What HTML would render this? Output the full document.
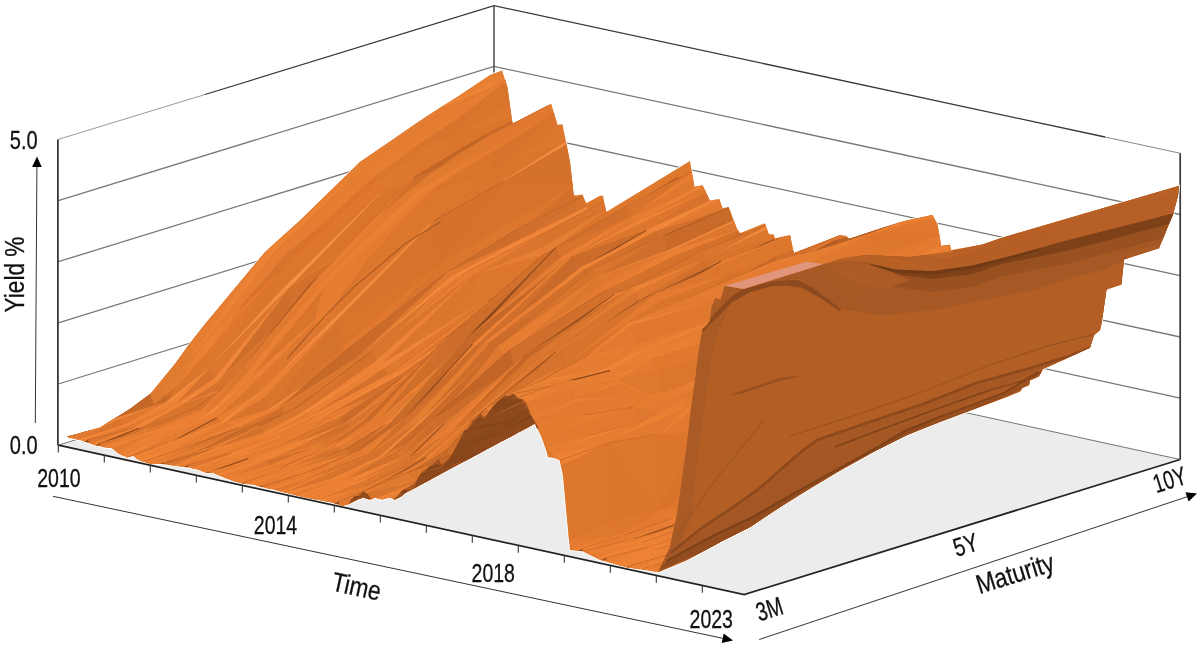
<!DOCTYPE html>
<html><head><meta charset="utf-8"><title>Yield curve surface</title>
<style>
html,body{margin:0;padding:0;background:#fff;overflow:hidden}
svg{display:block}
text{font-family:"Liberation Sans",sans-serif;fill:#111;stroke:#111;stroke-width:0.3px}
</style></head>
<body>
<svg width="1199" height="647" viewBox="0 0 1199 647">
<rect width="1199" height="647" fill="#fff"/>
<polygon points="58.3,445.2 744.2,594.6 1180.2,459.5 494.0,309.5" fill="#ececec"/>
<polyline points="58.3,384.0 494.0,248.7 1180.2,398.2" fill="none" stroke="#787878" stroke-width="1.3"/>
<polyline points="58.3,322.9 494.0,187.9 1180.2,337.0" fill="none" stroke="#787878" stroke-width="1.3"/>
<polyline points="58.3,261.7 494.0,127.2 1180.2,275.7" fill="none" stroke="#787878" stroke-width="1.3"/>
<polyline points="58.3,200.6 494.0,66.4 1180.2,214.5" fill="none" stroke="#787878" stroke-width="1.3"/>
<polyline points="58.3,445.2 494.0,309.5 1180.2,459.5" fill="none" stroke="#555" stroke-width="0.8"/>
<polyline points="57.9,445.2 57.9,139.4" fill="none" stroke="#383838" stroke-width="1.8"/>
<polyline points="58.3,139.4 205.0,94.5" fill="none" stroke="#9a9a9a" stroke-width="1"/>
<polyline points="205.0,94.5 494.0,5.6 1105.0,137.0" fill="none" stroke="#383838" stroke-width="1.3"/>
<polyline points="1105.0,137.0 1180.2,153.2" fill="none" stroke="#8a8a8a" stroke-width="1.1"/>
<polyline points="1180.2,153.2 1180.2,459.5" fill="none" stroke="#383838" stroke-width="1.7"/>
<polyline points="494.0,5.6 494.0,309.5" fill="none" stroke="#4a4a4a" stroke-width="1.5"/>
<clipPath id="sil"><polygon points="67.0,436.3 75.0,434.5 100.0,427.5 130.0,409.0 150.0,394.0 175.0,364.0 187.5,346.5 205.0,324.0 265.0,252.0 300.0,220.5 360.0,162.0 425.0,117.5 460.0,95.0 490.0,75.0 502.0,70.5 507.5,87.5 512.5,123.8 551.2,103.8 557.5,125.0 562.5,124.2 570.0,161.8 573.8,195.8 582.5,194.5 586.2,203.2 600.0,195.8 603.0,195.8 606.2,212.0 690.0,161.0 694.5,187.0 702.5,185.0 710.0,200.8 719.5,199.0 722.5,208.2 728.8,207.0 737.0,229.0 740.0,233.2 765.0,223.2 768.8,234.5 773.8,234.5 775.0,238.2 790.0,235.0 793.8,253.2 800.0,250.8 840.0,235.2 846.2,235.8 848.8,239.0 900.0,222.0 932.5,215.0 937.5,224.5 941.2,246.0 950.0,244.5 951.2,250.0 982.5,244.5 1000.0,238.2 1179.2,185.8 1178.0,195.8 1173.0,214.5 1159.0,248.2 1124.0,259.5 1121.5,284.5 1106.5,289.5 1101.5,324.0 1100.0,330.2 1094.0,335.2 1090.0,347.8 1042.8,369.0 1039.0,376.5 1030.0,380.2 1029.0,385.2 1022.5,387.8 1020.0,391.5 1007.3,396.7 967.2,411.7 940.5,421.7 907.1,435.1 873.7,451.8 840.3,470.2 807.0,490.2 780.2,506.9 750.2,526.9 723.5,540.3 686.7,560.3 658.4,572.0 627.5,567.5 600.0,560.0 582.5,551.2 570.0,550.0 567.2,520.0 566.1,510.1 562.9,475.4 559.6,460.2 554.2,458.1 547.7,457.0 546.6,451.6 541.2,436.4 535.2,424.0 535.0,423.4 404.5,493.6 401.8,495.9 395.1,499.7 390.1,497.5 381.8,499.7 375.1,497.5 370.1,500.0 363.4,497.5 356.8,500.0 348.4,504.2 341.8,505.9 331.8,502.5 318.4,500.0 305.0,497.5 291.7,494.2 275.0,490.0 260.0,486.7 255.0,485.0 241.7,483.4 232.0,480.5 220.0,476.0 212.6,472.7 206.6,473.0 199.0,470.0 190.0,467.8 175.0,465.8 160.0,463.7 151.0,464.3 139.0,460.3 133.0,455.8 127.0,457.3 118.0,453.5 112.0,448.3 104.5,447.5 92.5,444.5 80.5,440.0 68.5,437.5"/></clipPath>
<polygon points="67.0,436.3 75.0,434.5 100.0,427.5 130.0,409.0 150.0,394.0 175.0,364.0 187.5,346.5 205.0,324.0 265.0,252.0 300.0,220.5 360.0,162.0 425.0,117.5 460.0,95.0 490.0,75.0 502.0,70.5 507.5,87.5 512.5,123.8 551.2,103.8 557.5,125.0 562.5,124.2 570.0,161.8 573.8,195.8 582.5,194.5 586.2,203.2 600.0,195.8 603.0,195.8 606.2,212.0 690.0,161.0 694.5,187.0 702.5,185.0 710.0,200.8 719.5,199.0 722.5,208.2 728.8,207.0 737.0,229.0 740.0,233.2 765.0,223.2 768.8,234.5 773.8,234.5 775.0,238.2 790.0,235.0 793.8,253.2 800.0,250.8 840.0,235.2 846.2,235.8 848.8,239.0 900.0,222.0 932.5,215.0 937.5,224.5 941.2,246.0 950.0,244.5 951.2,250.0 982.5,244.5 1000.0,238.2 1179.2,185.8 1178.0,195.8 1173.0,214.5 1159.0,248.2 1124.0,259.5 1121.5,284.5 1106.5,289.5 1101.5,324.0 1100.0,330.2 1094.0,335.2 1090.0,347.8 1042.8,369.0 1039.0,376.5 1030.0,380.2 1029.0,385.2 1022.5,387.8 1020.0,391.5 1007.3,396.7 967.2,411.7 940.5,421.7 907.1,435.1 873.7,451.8 840.3,470.2 807.0,490.2 780.2,506.9 750.2,526.9 723.5,540.3 686.7,560.3 658.4,572.0 627.5,567.5 600.0,560.0 582.5,551.2 570.0,550.0 567.2,520.0 566.1,510.1 562.9,475.4 559.6,460.2 554.2,458.1 547.7,457.0 546.6,451.6 541.2,436.4 535.2,424.0 535.0,423.4 404.5,493.6 401.8,495.9 395.1,499.7 390.1,497.5 381.8,499.7 375.1,497.5 370.1,500.0 363.4,497.5 356.8,500.0 348.4,504.2 341.8,505.9 331.8,502.5 318.4,500.0 305.0,497.5 291.7,494.2 275.0,490.0 260.0,486.7 255.0,485.0 241.7,483.4 232.0,480.5 220.0,476.0 212.6,472.7 206.6,473.0 199.0,470.0 190.0,467.8 175.0,465.8 160.0,463.7 151.0,464.3 139.0,460.3 133.0,455.8 127.0,457.3 118.0,453.5 112.0,448.3 104.5,447.5 92.5,444.5 80.5,440.0 68.5,437.5" fill="none" stroke="#fff" stroke-width="2" stroke-linejoin="round" opacity="0.85"/>
<polygon points="67.0,436.3 75.0,434.5 100.0,427.5 130.0,409.0 150.0,394.0 175.0,364.0 187.5,346.5 205.0,324.0 265.0,252.0 300.0,220.5 360.0,162.0 425.0,117.5 460.0,95.0 490.0,75.0 502.0,70.5 507.5,87.5 512.5,123.8 551.2,103.8 557.5,125.0 562.5,124.2 570.0,161.8 573.8,195.8 582.5,194.5 586.2,203.2 600.0,195.8 603.0,195.8 606.2,212.0 690.0,161.0 694.5,187.0 702.5,185.0 710.0,200.8 719.5,199.0 722.5,208.2 728.8,207.0 737.0,229.0 740.0,233.2 765.0,223.2 768.8,234.5 773.8,234.5 775.0,238.2 790.0,235.0 793.8,253.2 800.0,250.8 840.0,235.2 846.2,235.8 848.8,239.0 900.0,222.0 932.5,215.0 937.5,224.5 941.2,246.0 950.0,244.5 951.2,250.0 982.5,244.5 1000.0,238.2 1179.2,185.8 1178.0,195.8 1173.0,214.5 1159.0,248.2 1124.0,259.5 1121.5,284.5 1106.5,289.5 1101.5,324.0 1100.0,330.2 1094.0,335.2 1090.0,347.8 1042.8,369.0 1039.0,376.5 1030.0,380.2 1029.0,385.2 1022.5,387.8 1020.0,391.5 1007.3,396.7 967.2,411.7 940.5,421.7 907.1,435.1 873.7,451.8 840.3,470.2 807.0,490.2 780.2,506.9 750.2,526.9 723.5,540.3 686.7,560.3 658.4,572.0 627.5,567.5 600.0,560.0 582.5,551.2 570.0,550.0 567.2,520.0 566.1,510.1 562.9,475.4 559.6,460.2 554.2,458.1 547.7,457.0 546.6,451.6 541.2,436.4 535.2,424.0 535.0,423.4 404.5,493.6 401.8,495.9 395.1,499.7 390.1,497.5 381.8,499.7 375.1,497.5 370.1,500.0 363.4,497.5 356.8,500.0 348.4,504.2 341.8,505.9 331.8,502.5 318.4,500.0 305.0,497.5 291.7,494.2 275.0,490.0 260.0,486.7 255.0,485.0 241.7,483.4 232.0,480.5 220.0,476.0 212.6,472.7 206.6,473.0 199.0,470.0 190.0,467.8 175.0,465.8 160.0,463.7 151.0,464.3 139.0,460.3 133.0,455.8 127.0,457.3 118.0,453.5 112.0,448.3 104.5,447.5 92.5,444.5 80.5,440.0 68.5,437.5" fill="#dd782d"/>
<clipPath id="cb"><polygon points="724.9,285.7 743.4,288.9 823.6,264.0 842.4,258.5 865.8,255.1 909.2,257.1 949.3,251.5 982.5,244.6 1000.0,238.4 1179.2,185.8 1178.0,195.8 1173.0,214.5 1159.0,248.2 1124.0,259.5 1121.5,284.5 1106.5,289.5 1101.5,324.0 1100.0,330.2 1094.0,335.2 1090.0,347.8 1042.8,369.0 1039.0,376.5 1030.0,380.2 1029.0,385.2 1022.5,387.8 1020.0,391.5 1007.3,396.7 967.2,411.7 940.5,421.7 907.1,435.1 873.7,451.8 840.3,470.2 807.0,490.2 780.2,506.9 750.2,526.9 723.5,540.3 686.7,560.3 658.4,572.0 670.0,547.0 676.7,513.5 681.7,480.2 686.7,446.8 690.0,413.4 695.0,380.0 698.1,353.2 702.2,330.1 709.8,321.4 711.9,306.3 715.2,297.6 720.6,299.7 724.9,285.7"/></clipPath>
<polygon points="724.9,285.7 743.4,288.9 823.6,264.0 842.4,258.5 865.8,255.1 909.2,257.1 949.3,251.5 982.5,244.6 1000.0,238.4 1179.2,185.8 1178.0,195.8 1173.0,214.5 1159.0,248.2 1124.0,259.5 1121.5,284.5 1106.5,289.5 1101.5,324.0 1100.0,330.2 1094.0,335.2 1090.0,347.8 1042.8,369.0 1039.0,376.5 1030.0,380.2 1029.0,385.2 1022.5,387.8 1020.0,391.5 1007.3,396.7 967.2,411.7 940.5,421.7 907.1,435.1 873.7,451.8 840.3,470.2 807.0,490.2 780.2,506.9 750.2,526.9 723.5,540.3 686.7,560.3 658.4,572.0 670.0,547.0 676.7,513.5 681.7,480.2 686.7,446.8 690.0,413.4 695.0,380.0 698.1,353.2 702.2,330.1 709.8,321.4 711.9,306.3 715.2,297.6 720.6,299.7 724.9,285.7" fill="#b56026"/>
<g clip-path="url(#sil)" stroke-width="0.6" stroke-linejoin="round">
<path d="M428.6 112.6L494.0 81.4L498.2 85.5Z" fill="#ed8235" stroke="#ed8235"/>
<path d="M428.6 112.6L498.2 85.5L432.8 122.5Z" fill="#d5722d" stroke="#d5722d"/>
<path d="M428.6 112.6L432.8 122.5L363.1 167.1Z" fill="#d2702c" stroke="#d2702c"/>
<path d="M358.9 159.0L428.6 112.6L363.1 167.1Z" fill="#dc762f" stroke="#dc762f"/>
<path d="M263.1 254.7L358.9 159.0L363.1 167.1Z" fill="#da752e" stroke="#da752e"/>
<path d="M263.1 254.7L363.1 167.1L267.3 258.5Z" fill="#e67d32" stroke="#e67d32"/>
<path d="M263.1 254.7L267.3 258.5L193.2 353.0Z" fill="#e47c32" stroke="#e47c32"/>
<path d="M189.0 343.6L263.1 254.7L193.2 353.0Z" fill="#d7732d" stroke="#d7732d"/>
<path d="M149.8 396.8L189.0 343.6L193.2 353.0Z" fill="#cb6b2a" stroke="#cb6b2a"/>
<path d="M149.8 396.8L193.2 353.0L154.0 392.0Z" fill="#7c4019" stroke="#7c4019"/>
<path d="M149.8 396.8L154.0 392.0L106.1 420.2Z" fill="#86461c" stroke="#86461c"/>
<path d="M101.9 421.0L149.8 396.8L106.1 420.2Z" fill="#ee8336" stroke="#ee8336"/>
<path d="M58.3 441.4L101.9 421.0L106.1 420.2Z" fill="#ee8336" stroke="#ee8336"/>
<path d="M58.3 441.4L106.1 420.2L62.5 439.4Z" fill="#793f18" stroke="#793f18"/>
<path d="M498.2 85.5L502.4 85.1L437.0 119.5Z" fill="#e57c32" stroke="#e57c32"/>
<path d="M432.8 122.5L498.2 85.5L437.0 119.5Z" fill="#7c4119" stroke="#7c4119"/>
<path d="M363.1 167.1L432.8 122.5L437.0 119.5Z" fill="#7a3f19" stroke="#7a3f19"/>
<path d="M363.1 167.1L437.0 119.5L367.3 162.4Z" fill="#85461c" stroke="#85461c"/>
<path d="M363.1 167.1L367.3 162.4L271.4 257.9Z" fill="#7b4019" stroke="#7b4019"/>
<path d="M267.3 258.5L363.1 167.1L271.4 257.9Z" fill="#ed8236" stroke="#ed8236"/>
<path d="M193.2 353.0L267.3 258.5L271.4 257.9Z" fill="#eb8034" stroke="#eb8034"/>
<path d="M193.2 353.0L271.4 257.9L197.4 348.7Z" fill="#eb8237" stroke="#eb8237"/>
<path d="M193.2 353.0L197.4 348.7L158.2 396.5Z" fill="#ee8539" stroke="#ee8539"/>
<path d="M154.0 392.0L193.2 353.0L158.2 396.5Z" fill="#d1702c" stroke="#d1702c"/>
<path d="M106.1 420.2L154.0 392.0L158.2 396.5Z" fill="#ce6e2b" stroke="#ce6e2b"/>
<path d="M106.1 420.2L158.2 396.5L110.2 421.7Z" fill="#e17a31" stroke="#e17a31"/>
<path d="M106.1 420.2L110.2 421.7L66.7 439.3Z" fill="#e37b31" stroke="#e37b31"/>
<path d="M62.5 439.4L106.1 420.2L66.7 439.3Z" fill="#ec8134" stroke="#ec8134"/>
<path d="M437.0 119.5L502.4 85.1L506.5 79.7Z" fill="#8a491d" stroke="#8a491d"/>
<path d="M437.0 119.5L506.5 79.7L441.2 114.1Z" fill="#8a491d" stroke="#8a491d"/>
<path d="M437.0 119.5L441.2 114.1L371.5 161.3Z" fill="#87461c" stroke="#87461c"/>
<path d="M367.3 162.4L437.0 119.5L371.5 161.3Z" fill="#eb8034" stroke="#eb8034"/>
<path d="M271.4 257.9L367.3 162.4L371.5 161.3Z" fill="#ea8033" stroke="#ea8033"/>
<path d="M271.4 257.9L371.5 161.3L275.6 251.4Z" fill="#85461c" stroke="#85461c"/>
<path d="M271.4 257.9L275.6 251.4L201.6 346.1Z" fill="#7e411a" stroke="#7e411a"/>
<path d="M197.4 348.7L271.4 257.9L201.6 346.1Z" fill="#ea8034" stroke="#ea8034"/>
<path d="M158.2 396.5L197.4 348.7L201.6 346.1Z" fill="#ed8337" stroke="#ed8337"/>
<path d="M158.2 396.5L201.6 346.1L162.3 388.3Z" fill="#88471c" stroke="#88471c"/>
<path d="M158.2 396.5L162.3 388.3L114.4 418.7Z" fill="#914c1f" stroke="#914c1f"/>
<path d="M110.2 421.7L158.2 396.5L114.4 418.7Z" fill="#7e4119" stroke="#7e4119"/>
<path d="M66.7 439.3L110.2 421.7L114.4 418.7Z" fill="#81431a" stroke="#81431a"/>
<path d="M66.7 439.3L114.4 418.7L70.8 438.2Z" fill="#ef8538" stroke="#ef8538"/>
<path d="M506.5 79.7L510.7 103.6L445.4 138.6Z" fill="#d9742c" stroke="#d9742c"/>
<path d="M441.2 114.1L506.5 79.7L445.4 138.6Z" fill="#d8732d" stroke="#d8732d"/>
<path d="M371.5 161.3L441.2 114.1L445.4 138.6Z" fill="#d6732c" stroke="#d6732c"/>
<path d="M371.5 161.3L445.4 138.6L375.7 181.5Z" fill="#da752d" stroke="#da752d"/>
<path d="M371.5 161.3L375.7 181.5L279.8 271.1Z" fill="#da742d" stroke="#da742d"/>
<path d="M275.6 251.4L371.5 161.3L279.8 271.1Z" fill="#d7732d" stroke="#d7732d"/>
<path d="M201.6 346.1L275.6 251.4L279.8 271.1Z" fill="#d6722d" stroke="#d6722d"/>
<path d="M201.6 346.1L279.8 271.1L205.7 354.4Z" fill="#e47b30" stroke="#e47b30"/>
<path d="M201.6 346.1L205.7 354.4L166.5 402.1Z" fill="#de782f" stroke="#de782f"/>
<path d="M162.3 388.3L201.6 346.1L166.5 402.1Z" fill="#ce6e2b" stroke="#ce6e2b"/>
<path d="M114.4 418.7L162.3 388.3L166.5 402.1Z" fill="#c66828" stroke="#c66828"/>
<path d="M114.4 418.7L166.5 402.1L118.6 419.7Z" fill="#f1893c" stroke="#f1893c"/>
<path d="M114.4 418.7L118.6 419.7L75.0 440.6Z" fill="#f08537" stroke="#f08537"/>
<path d="M70.8 438.2L114.4 418.7L75.0 440.6Z" fill="#e37b32" stroke="#e37b32"/>
<path d="M445.4 138.6L510.7 103.6L514.9 117.3Z" fill="#dd762e" stroke="#dd762e"/>
<path d="M445.4 138.6L514.9 117.3L449.6 155.5Z" fill="#db752c" stroke="#db752c"/>
<path d="M445.4 138.6L449.6 155.5L379.8 193.8Z" fill="#dc752d" stroke="#dc752d"/>
<path d="M375.7 181.5L445.4 138.6L379.8 193.8Z" fill="#de782f" stroke="#de782f"/>
<path d="M279.8 271.1L375.7 181.5L379.8 193.8Z" fill="#df782e" stroke="#df782e"/>
<path d="M279.8 271.1L379.8 193.8L284.0 287.6Z" fill="#dc762d" stroke="#dc762d"/>
<path d="M279.8 271.1L284.0 287.6L209.9 367.3Z" fill="#db752e" stroke="#db752e"/>
<path d="M205.7 354.4L279.8 271.1L209.9 367.3Z" fill="#de772e" stroke="#de772e"/>
<path d="M166.5 402.1L205.7 354.4L209.9 367.3Z" fill="#da752e" stroke="#da752e"/>
<path d="M166.5 402.1L209.9 367.3L170.7 402.6Z" fill="#f28d42" stroke="#f28d42"/>
<path d="M166.5 402.1L170.7 402.6L122.8 425.5Z" fill="#f28b3f" stroke="#f28b3f"/>
<path d="M118.6 419.7L166.5 402.1L122.8 425.5Z" fill="#e07930" stroke="#e07930"/>
<path d="M75.0 440.6L118.6 419.7L122.8 425.5Z" fill="#d9752e" stroke="#d9752e"/>
<path d="M75.0 440.6L122.8 425.5L79.2 441.3Z" fill="#f1883b" stroke="#f1883b"/>
<path d="M514.9 117.3L519.1 131.8L453.7 167.4Z" fill="#dd762d" stroke="#dd762d"/>
<path d="M449.6 155.5L514.9 117.3L453.7 167.4Z" fill="#de782f" stroke="#de782f"/>
<path d="M379.8 193.8L449.6 155.5L453.7 167.4Z" fill="#df782f" stroke="#df782f"/>
<path d="M379.8 193.8L453.7 167.4L384.0 216.4Z" fill="#da742c" stroke="#da742c"/>
<path d="M379.8 193.8L384.0 216.4L288.2 288.7Z" fill="#da742d" stroke="#da742d"/>
<path d="M284.0 287.6L379.8 193.8L288.2 288.7Z" fill="#f29047" stroke="#f29047"/>
<path d="M209.9 367.3L284.0 287.6L288.2 288.7Z" fill="#f18e44" stroke="#f18e44"/>
<path d="M209.9 367.3L288.2 288.7L214.1 379.0Z" fill="#dc762f" stroke="#dc762f"/>
<path d="M209.9 367.3L214.1 379.0L174.9 404.9Z" fill="#d4722d" stroke="#d4722d"/>
<path d="M170.7 402.6L209.9 367.3L174.9 404.9Z" fill="#ef8437" stroke="#ef8437"/>
<path d="M122.8 425.5L170.7 402.6L174.9 404.9Z" fill="#ec8135" stroke="#ec8135"/>
<path d="M122.8 425.5L174.9 404.9L127.0 426.2Z" fill="#f1883b" stroke="#f1883b"/>
<path d="M122.8 425.5L127.0 426.2L83.4 443.0Z" fill="#f1873a" stroke="#f1873a"/>
<path d="M79.2 441.3L122.8 425.5L83.4 443.0Z" fill="#ee8335" stroke="#ee8335"/>
<path d="M453.7 167.4L519.1 131.8L523.3 152.4Z" fill="#da742c" stroke="#da742c"/>
<path d="M453.7 167.4L523.3 152.4L457.9 184.8Z" fill="#db752d" stroke="#db752d"/>
<path d="M453.7 167.4L457.9 184.8L388.2 229.3Z" fill="#db752d" stroke="#db752d"/>
<path d="M384.0 216.4L453.7 167.4L388.2 229.3Z" fill="#de772e" stroke="#de772e"/>
<path d="M288.2 288.7L384.0 216.4L388.2 229.3Z" fill="#dc772e" stroke="#dc772e"/>
<path d="M288.2 288.7L388.2 229.3L292.4 313.2Z" fill="#d2702c" stroke="#d2702c"/>
<path d="M288.2 288.7L292.4 313.2L218.3 381.3Z" fill="#ce6e2b" stroke="#ce6e2b"/>
<path d="M214.1 379.0L288.2 288.7L218.3 381.3Z" fill="#ee863b" stroke="#ee863b"/>
<path d="M174.9 404.9L214.1 379.0L218.3 381.3Z" fill="#ef8437" stroke="#ef8437"/>
<path d="M174.9 404.9L218.3 381.3L179.1 403.2Z" fill="#f38c40" stroke="#f38c40"/>
<path d="M174.9 404.9L179.1 403.2L131.1 429.0Z" fill="#f1893c" stroke="#f1893c"/>
<path d="M127.0 426.2L174.9 404.9L131.1 429.0Z" fill="#e37b32" stroke="#e37b32"/>
<path d="M83.4 443.0L127.0 426.2L131.1 429.0Z" fill="#e07930" stroke="#e07930"/>
<path d="M83.4 443.0L131.1 429.0L87.6 439.9Z" fill="#86461c" stroke="#86461c"/>
<path d="M523.3 152.4L527.5 154.6L462.1 191.7Z" fill="#f08b40" stroke="#f08b40"/>
<path d="M457.9 184.8L523.3 152.4L462.1 191.7Z" fill="#e77d32" stroke="#e77d32"/>
<path d="M388.2 229.3L457.9 184.8L462.1 191.7Z" fill="#e57c31" stroke="#e57c31"/>
<path d="M388.2 229.3L462.1 191.7L392.4 227.6Z" fill="#f6954b" stroke="#f6954b"/>
<path d="M388.2 229.3L392.4 227.6L296.5 310.3Z" fill="#f59147" stroke="#f59147"/>
<path d="M292.4 313.2L388.2 229.3L296.5 310.3Z" fill="#f59349" stroke="#f59349"/>
<path d="M218.3 381.3L292.4 313.2L296.5 310.3Z" fill="#f59146" stroke="#f59146"/>
<path d="M218.3 381.3L296.5 310.3L222.5 389.4Z" fill="#d6732d" stroke="#d6732d"/>
<path d="M218.3 381.3L222.5 389.4L183.3 403.7Z" fill="#d5722d" stroke="#d5722d"/>
<path d="M179.1 403.2L218.3 381.3L183.3 403.7Z" fill="#f1883b" stroke="#f1883b"/>
<path d="M131.1 429.0L179.1 403.2L183.3 403.7Z" fill="#ef8436" stroke="#ef8436"/>
<path d="M131.1 429.0L183.3 403.7L135.3 427.2Z" fill="#f2893d" stroke="#f2893d"/>
<path d="M131.1 429.0L135.3 427.2L91.8 443.4Z" fill="#793f18" stroke="#793f18"/>
<path d="M87.6 439.9L131.1 429.0L91.8 443.4Z" fill="#da762f" stroke="#da762f"/>
<path d="M462.1 191.7L527.5 154.6L531.6 163.7Z" fill="#da752e" stroke="#da752e"/>
<path d="M462.1 191.7L531.6 163.7L466.3 200.0Z" fill="#d7742e" stroke="#d7742e"/>
<path d="M462.1 191.7L466.3 200.0L396.6 242.8Z" fill="#d7732d" stroke="#d7732d"/>
<path d="M392.4 227.6L462.1 191.7L396.6 242.8Z" fill="#cf6e2b" stroke="#cf6e2b"/>
<path d="M296.5 310.3L392.4 227.6L396.6 242.8Z" fill="#c86a29" stroke="#c86a29"/>
<path d="M296.5 310.3L396.6 242.8L300.7 330.8Z" fill="#c36727" stroke="#c36727"/>
<path d="M296.5 310.3L300.7 330.8L226.7 390.1Z" fill="#c36627" stroke="#c36627"/>
<path d="M222.5 389.4L296.5 310.3L226.7 390.1Z" fill="#f1873b" stroke="#f1873b"/>
<path d="M183.3 403.7L222.5 389.4L226.7 390.1Z" fill="#f2893c" stroke="#f2893c"/>
<path d="M183.3 403.7L226.7 390.1L187.4 411.2Z" fill="#d6732d" stroke="#d6732d"/>
<path d="M183.3 403.7L187.4 411.2L139.5 428.1Z" fill="#d9752e" stroke="#d9752e"/>
<path d="M135.3 427.2L183.3 403.7L139.5 428.1Z" fill="#f1873a" stroke="#f1873a"/>
<path d="M91.8 443.4L135.3 427.2L139.5 428.1Z" fill="#f08639" stroke="#f08639"/>
<path d="M91.8 443.4L139.5 428.1L95.9 445.9Z" fill="#eb8134" stroke="#eb8134"/>
<path d="M531.6 163.7L535.8 150.3L470.5 188.2Z" fill="#9a5221" stroke="#9a5221"/>
<path d="M466.3 200.0L531.6 163.7L470.5 188.2Z" fill="#995121" stroke="#995121"/>
<path d="M396.6 242.8L466.3 200.0L470.5 188.2Z" fill="#985021" stroke="#985021"/>
<path d="M396.6 242.8L470.5 188.2L400.8 229.5Z" fill="#9a5121" stroke="#9a5121"/>
<path d="M396.6 242.8L400.8 229.5L304.9 322.5Z" fill="#954e20" stroke="#954e20"/>
<path d="M300.7 330.8L396.6 242.8L304.9 322.5Z" fill="#8c491d" stroke="#8c491d"/>
<path d="M226.7 390.1L300.7 330.8L304.9 322.5Z" fill="#8e4b1e" stroke="#8e4b1e"/>
<path d="M226.7 390.1L304.9 322.5L230.8 386.5Z" fill="#e37b30" stroke="#e37b30"/>
<path d="M226.7 390.1L230.8 386.5L191.6 418.7Z" fill="#793f18" stroke="#793f18"/>
<path d="M187.4 411.2L226.7 390.1L191.6 418.7Z" fill="#ce6e2b" stroke="#ce6e2b"/>
<path d="M139.5 428.1L187.4 411.2L191.6 418.7Z" fill="#d3712c" stroke="#d3712c"/>
<path d="M139.5 428.1L191.6 418.7L143.7 433.0Z" fill="#d5722d" stroke="#d5722d"/>
<path d="M139.5 428.1L143.7 433.0L100.1 443.5Z" fill="#da752f" stroke="#da752f"/>
<path d="M95.9 445.9L139.5 428.1L100.1 443.5Z" fill="#7d4119" stroke="#7d4119"/>
<path d="M470.5 188.2L535.8 150.3L540.0 115.7Z" fill="#a35624" stroke="#a35624"/>
<path d="M470.5 188.2L540.0 115.7L474.7 157.9Z" fill="#a25623" stroke="#a25623"/>
<path d="M470.5 188.2L474.7 157.9L404.9 196.0Z" fill="#a25623" stroke="#a25623"/>
<path d="M400.8 229.5L470.5 188.2L404.9 196.0Z" fill="#a35624" stroke="#a35624"/>
<path d="M304.9 322.5L400.8 229.5L404.9 196.0Z" fill="#a05523" stroke="#a05523"/>
<path d="M304.9 322.5L404.9 196.0L309.1 285.2Z" fill="#a15623" stroke="#a15623"/>
<path d="M304.9 322.5L309.1 285.2L235.0 377.9Z" fill="#a05523" stroke="#a05523"/>
<path d="M230.8 386.5L304.9 322.5L235.0 377.9Z" fill="#8e4a1e" stroke="#8e4a1e"/>
<path d="M191.6 418.7L230.8 386.5L235.0 377.9Z" fill="#8e4b1e" stroke="#8e4b1e"/>
<path d="M191.6 418.7L235.0 377.9L195.8 409.0Z" fill="#914c1f" stroke="#914c1f"/>
<path d="M191.6 418.7L195.8 409.0L147.9 428.8Z" fill="#985021" stroke="#985021"/>
<path d="M143.7 433.0L191.6 418.7L147.9 428.8Z" fill="#8b491d" stroke="#8b491d"/>
<path d="M100.1 443.5L143.7 433.0L147.9 428.8Z" fill="#8d4a1e" stroke="#8d4a1e"/>
<path d="M100.1 443.5L147.9 428.8L104.3 446.3Z" fill="#dc772f" stroke="#dc772f"/>
<path d="M540.0 115.7L544.2 114.0L478.8 154.0Z" fill="#df782f" stroke="#df782f"/>
<path d="M474.7 157.9L540.0 115.7L478.8 154.0Z" fill="#80431a" stroke="#80431a"/>
<path d="M404.9 196.0L474.7 157.9L478.8 154.0Z" fill="#83441b" stroke="#83441b"/>
<path d="M404.9 196.0L478.8 154.0L409.1 197.7Z" fill="#d06f2b" stroke="#d06f2b"/>
<path d="M404.9 196.0L409.1 197.7L313.3 295.4Z" fill="#d26f2b" stroke="#d26f2b"/>
<path d="M309.1 285.2L404.9 196.0L313.3 295.4Z" fill="#b45d22" stroke="#b45d22"/>
<path d="M235.0 377.9L309.1 285.2L313.3 295.4Z" fill="#b65e23" stroke="#b65e23"/>
<path d="M235.0 377.9L313.3 295.4L239.2 377.2Z" fill="#df782f" stroke="#df782f"/>
<path d="M235.0 377.9L239.2 377.2L200.0 411.5Z" fill="#e67d32" stroke="#e67d32"/>
<path d="M195.8 409.0L235.0 377.9L200.0 411.5Z" fill="#d6732d" stroke="#d6732d"/>
<path d="M147.9 428.8L195.8 409.0L200.0 411.5Z" fill="#dc772f" stroke="#dc772f"/>
<path d="M147.9 428.8L200.0 411.5L152.1 431.5Z" fill="#df7930" stroke="#df7930"/>
<path d="M147.9 428.8L152.1 431.5L108.5 446.1Z" fill="#e17a31" stroke="#e17a31"/>
<path d="M104.3 446.3L147.9 428.8L108.5 446.1Z" fill="#ef8538" stroke="#ef8538"/>
<path d="M478.8 154.0L544.2 114.0L548.4 102.9Z" fill="#975020" stroke="#975020"/>
<path d="M478.8 154.0L548.4 102.9L483.0 136.2Z" fill="#9e5422" stroke="#9e5422"/>
<path d="M478.8 154.0L483.0 136.2L413.3 177.8Z" fill="#9e5322" stroke="#9e5322"/>
<path d="M409.1 197.7L478.8 154.0L413.3 177.8Z" fill="#9e5422" stroke="#9e5422"/>
<path d="M313.3 295.4L409.1 197.7L413.3 177.8Z" fill="#9b5221" stroke="#9b5221"/>
<path d="M313.3 295.4L413.3 177.8L317.4 277.7Z" fill="#995121" stroke="#995121"/>
<path d="M313.3 295.4L317.4 277.7L243.4 366.9Z" fill="#975020" stroke="#975020"/>
<path d="M239.2 377.2L313.3 295.4L243.4 366.9Z" fill="#8e4a1e" stroke="#8e4a1e"/>
<path d="M200.0 411.5L239.2 377.2L243.4 366.9Z" fill="#914d1f" stroke="#914d1f"/>
<path d="M200.0 411.5L243.4 366.9L204.2 410.6Z" fill="#ee8336" stroke="#ee8336"/>
<path d="M200.0 411.5L204.2 410.6L156.2 432.3Z" fill="#f2893c" stroke="#f2893c"/>
<path d="M152.1 431.5L200.0 411.5L156.2 432.3Z" fill="#f08537" stroke="#f08537"/>
<path d="M108.5 446.1L152.1 431.5L156.2 432.3Z" fill="#f18639" stroke="#f18639"/>
<path d="M108.5 446.1L156.2 432.3L112.7 447.9Z" fill="#ef8336" stroke="#ef8336"/>
<path d="M548.4 102.9L552.6 114.3L487.2 150.7Z" fill="#cd6d2b" stroke="#cd6d2b"/>
<path d="M483.0 136.2L548.4 102.9L487.2 150.7Z" fill="#c86929" stroke="#c86929"/>
<path d="M413.3 177.8L483.0 136.2L487.2 150.7Z" fill="#c36727" stroke="#c36727"/>
<path d="M413.3 177.8L487.2 150.7L417.5 191.1Z" fill="#ce6e2b" stroke="#ce6e2b"/>
<path d="M413.3 177.8L417.5 191.1L321.6 280.9Z" fill="#d3712c" stroke="#d3712c"/>
<path d="M317.4 277.7L413.3 177.8L321.6 280.9Z" fill="#e77e33" stroke="#e77e33"/>
<path d="M243.4 366.9L317.4 277.7L321.6 280.9Z" fill="#e47c32" stroke="#e47c32"/>
<path d="M243.4 366.9L321.6 280.9L247.6 372.2Z" fill="#e07a30" stroke="#e07a30"/>
<path d="M243.4 366.9L247.6 372.2L208.3 413.3Z" fill="#db762f" stroke="#db762f"/>
<path d="M204.2 410.6L243.4 366.9L208.3 413.3Z" fill="#e37b32" stroke="#e37b32"/>
<path d="M156.2 432.3L204.2 410.6L208.3 413.3Z" fill="#eb8034" stroke="#eb8034"/>
<path d="M156.2 432.3L208.3 413.3L160.4 434.7Z" fill="#ef8336" stroke="#ef8336"/>
<path d="M156.2 432.3L160.4 434.7L116.9 452.0Z" fill="#ef8336" stroke="#ef8336"/>
<path d="M112.7 447.9L156.2 432.3L116.9 452.0Z" fill="#e37b32" stroke="#e37b32"/>
<path d="M487.2 150.7L552.6 114.3L556.7 111.8Z" fill="#793f18" stroke="#793f18"/>
<path d="M487.2 150.7L556.7 111.8L491.4 147.0Z" fill="#82441b" stroke="#82441b"/>
<path d="M487.2 150.7L491.4 147.0L421.7 195.1Z" fill="#7e411a" stroke="#7e411a"/>
<path d="M417.5 191.1L487.2 150.7L421.7 195.1Z" fill="#ec8438" stroke="#ec8438"/>
<path d="M321.6 280.9L417.5 191.1L421.7 195.1Z" fill="#ec8438" stroke="#ec8438"/>
<path d="M321.6 280.9L421.7 195.1L325.8 286.4Z" fill="#e98034" stroke="#e98034"/>
<path d="M321.6 280.9L325.8 286.4L251.7 376.6Z" fill="#e97f33" stroke="#e97f33"/>
<path d="M247.6 372.2L321.6 280.9L251.7 376.6Z" fill="#eb8134" stroke="#eb8134"/>
<path d="M208.3 413.3L247.6 372.2L251.7 376.6Z" fill="#e87f33" stroke="#e87f33"/>
<path d="M208.3 413.3L251.7 376.6L212.5 413.4Z" fill="#f28c40" stroke="#f28c40"/>
<path d="M208.3 413.3L212.5 413.4L164.6 438.6Z" fill="#f38c40" stroke="#f38c40"/>
<path d="M160.4 434.7L208.3 413.3L164.6 438.6Z" fill="#e97f33" stroke="#e97f33"/>
<path d="M116.9 452.0L160.4 434.7L164.6 438.6Z" fill="#ea8034" stroke="#ea8034"/>
<path d="M116.9 452.0L164.6 438.6L121.0 455.9Z" fill="#ea8034" stroke="#ea8034"/>
<path d="M556.7 111.8L560.9 129.7L495.6 168.4Z" fill="#db752d" stroke="#db752d"/>
<path d="M491.4 147.0L556.7 111.8L495.6 168.4Z" fill="#d8732d" stroke="#d8732d"/>
<path d="M421.7 195.1L491.4 147.0L495.6 168.4Z" fill="#d9742d" stroke="#d9742d"/>
<path d="M421.7 195.1L495.6 168.4L425.9 210.8Z" fill="#dc762d" stroke="#dc762d"/>
<path d="M421.7 195.1L425.9 210.8L330.0 306.3Z" fill="#dc762e" stroke="#dc762e"/>
<path d="M325.8 286.4L421.7 195.1L330.0 306.3Z" fill="#da752d" stroke="#da752d"/>
<path d="M251.7 376.6L325.8 286.4L330.0 306.3Z" fill="#d9742d" stroke="#d9742d"/>
<path d="M251.7 376.6L330.0 306.3L255.9 381.5Z" fill="#e98237" stroke="#e98237"/>
<path d="M251.7 376.6L255.9 381.5L216.7 417.8Z" fill="#eb8033" stroke="#eb8033"/>
<path d="M212.5 413.4L251.7 376.6L216.7 417.8Z" fill="#e97f33" stroke="#e97f33"/>
<path d="M164.6 438.6L212.5 413.4L216.7 417.8Z" fill="#e87f33" stroke="#e87f33"/>
<path d="M164.6 438.6L216.7 417.8L168.8 443.5Z" fill="#e47c32" stroke="#e47c32"/>
<path d="M164.6 438.6L168.8 443.5L125.2 458.4Z" fill="#df7930" stroke="#df7930"/>
<path d="M121.0 455.9L164.6 438.6L125.2 458.4Z" fill="#ef8437" stroke="#ef8437"/>
<path d="M495.6 168.4L560.9 129.7L565.1 142.6Z" fill="#de772e" stroke="#de772e"/>
<path d="M495.6 168.4L565.1 142.6L499.7 183.1Z" fill="#db752e" stroke="#db752e"/>
<path d="M495.6 168.4L499.7 183.1L430.0 223.7Z" fill="#da752e" stroke="#da752e"/>
<path d="M425.9 210.8L495.6 168.4L430.0 223.7Z" fill="#de772e" stroke="#de772e"/>
<path d="M330.0 306.3L425.9 210.8L430.0 223.7Z" fill="#dd772e" stroke="#dd772e"/>
<path d="M330.0 306.3L430.0 223.7L334.2 318.2Z" fill="#dc762e" stroke="#dc762e"/>
<path d="M330.0 306.3L334.2 318.2L260.1 392.5Z" fill="#dd772f" stroke="#dd772f"/>
<path d="M255.9 381.5L330.0 306.3L260.1 392.5Z" fill="#df782f" stroke="#df782f"/>
<path d="M216.7 417.8L255.9 381.5L260.1 392.5Z" fill="#da752e" stroke="#da752e"/>
<path d="M216.7 417.8L260.1 392.5L220.9 422.5Z" fill="#e87f33" stroke="#e87f33"/>
<path d="M216.7 417.8L220.9 422.5L173.0 441.2Z" fill="#de7830" stroke="#de7830"/>
<path d="M168.8 443.5L216.7 417.8L173.0 441.2Z" fill="#783e18" stroke="#783e18"/>
<path d="M125.2 458.4L168.8 443.5L173.0 441.2Z" fill="#7f421a" stroke="#7f421a"/>
<path d="M125.2 458.4L173.0 441.2L129.4 459.1Z" fill="#ef8335" stroke="#ef8335"/>
<path d="M565.1 142.6L569.3 143.2L503.9 181.2Z" fill="#f38d42" stroke="#f38d42"/>
<path d="M499.7 183.1L565.1 142.6L503.9 181.2Z" fill="#f59248" stroke="#f59248"/>
<path d="M430.0 223.7L499.7 183.1L503.9 181.2Z" fill="#f59247" stroke="#f59247"/>
<path d="M430.0 223.7L503.9 181.2L434.2 221.2Z" fill="#783e18" stroke="#783e18"/>
<path d="M430.0 223.7L434.2 221.2L338.4 319.3Z" fill="#f59349" stroke="#f59349"/>
<path d="M334.2 318.2L430.0 223.7L338.4 319.3Z" fill="#f18b40" stroke="#f18b40"/>
<path d="M260.1 392.5L334.2 318.2L338.4 319.3Z" fill="#f18c42" stroke="#f18c42"/>
<path d="M260.1 392.5L338.4 319.3L264.3 397.8Z" fill="#e98034" stroke="#e98034"/>
<path d="M260.1 392.5L264.3 397.8L225.1 422.3Z" fill="#e97f33" stroke="#e97f33"/>
<path d="M220.9 422.5L260.1 392.5L225.1 422.3Z" fill="#f38e42" stroke="#f38e42"/>
<path d="M173.0 441.2L220.9 422.5L225.1 422.3Z" fill="#f28a3d" stroke="#f28a3d"/>
<path d="M173.0 441.2L225.1 422.3L177.2 442.5Z" fill="#f08538" stroke="#f08538"/>
<path d="M173.0 441.2L177.2 442.5L133.6 459.4Z" fill="#ee8335" stroke="#ee8335"/>
<path d="M129.4 459.1L173.0 441.2L133.6 459.4Z" fill="#f08537" stroke="#f08537"/>
<path d="M503.9 181.2L569.3 143.2L573.5 184.9Z" fill="#d4712c" stroke="#d4712c"/>
<path d="M503.9 181.2L573.5 184.9L508.1 224.2Z" fill="#d6722c" stroke="#d6722c"/>
<path d="M503.9 181.2L508.1 224.2L438.4 265.4Z" fill="#d7722c" stroke="#d7722c"/>
<path d="M434.2 221.2L503.9 181.2L438.4 265.4Z" fill="#d5712c" stroke="#d5712c"/>
<path d="M338.4 319.3L434.2 221.2L438.4 265.4Z" fill="#d6722c" stroke="#d6722c"/>
<path d="M338.4 319.3L438.4 265.4L342.5 347.1Z" fill="#d9742c" stroke="#d9742c"/>
<path d="M338.4 319.3L342.5 347.1L268.5 409.8Z" fill="#d5722c" stroke="#d5722c"/>
<path d="M264.3 397.8L338.4 319.3L268.5 409.8Z" fill="#da752e" stroke="#da752e"/>
<path d="M225.1 422.3L264.3 397.8L268.5 409.8Z" fill="#d6732d" stroke="#d6732d"/>
<path d="M225.1 422.3L268.5 409.8L229.3 427.4Z" fill="#e67d32" stroke="#e67d32"/>
<path d="M225.1 422.3L229.3 427.4L181.3 445.5Z" fill="#e27b31" stroke="#e27b31"/>
<path d="M177.2 442.5L225.1 422.3L181.3 445.5Z" fill="#ed8235" stroke="#ed8235"/>
<path d="M133.6 459.4L177.2 442.5L181.3 445.5Z" fill="#ea8034" stroke="#ea8034"/>
<path d="M133.6 459.4L181.3 445.5L137.8 461.6Z" fill="#ef8336" stroke="#ef8336"/>
<path d="M573.5 184.9L577.6 209.1L512.3 238.8Z" fill="#d3702c" stroke="#d3702c"/>
<path d="M508.1 224.2L573.5 184.9L512.3 238.8Z" fill="#dc762e" stroke="#dc762e"/>
<path d="M438.4 265.4L508.1 224.2L512.3 238.8Z" fill="#dd762e" stroke="#dd762e"/>
<path d="M438.4 265.4L512.3 238.8L442.6 279.1Z" fill="#db762e" stroke="#db762e"/>
<path d="M438.4 265.4L442.6 279.1L346.7 357.6Z" fill="#d8742d" stroke="#d8742d"/>
<path d="M342.5 347.1L438.4 265.4L346.7 357.6Z" fill="#e0792f" stroke="#e0792f"/>
<path d="M268.5 409.8L342.5 347.1L346.7 357.6Z" fill="#d8742e" stroke="#d8742e"/>
<path d="M268.5 409.8L346.7 357.6L272.7 408.9Z" fill="#f38c40" stroke="#f38c40"/>
<path d="M268.5 409.8L272.7 408.9L233.4 430.0Z" fill="#f38b3f" stroke="#f38b3f"/>
<path d="M229.3 427.4L268.5 409.8L233.4 430.0Z" fill="#ef8336" stroke="#ef8336"/>
<path d="M181.3 445.5L229.3 427.4L233.4 430.0Z" fill="#eb8134" stroke="#eb8134"/>
<path d="M181.3 445.5L233.4 430.0L185.5 448.9Z" fill="#e17a31" stroke="#e17a31"/>
<path d="M181.3 445.5L185.5 448.9L141.9 462.1Z" fill="#e47c32" stroke="#e47c32"/>
<path d="M137.8 461.6L181.3 445.5L141.9 462.1Z" fill="#f1883c" stroke="#f1883c"/>
<path d="M512.3 238.8L577.6 209.1L581.8 196.7Z" fill="#9b5222" stroke="#9b5222"/>
<path d="M512.3 238.8L581.8 196.7L516.5 229.7Z" fill="#964f20" stroke="#964f20"/>
<path d="M512.3 238.8L516.5 229.7L446.8 272.6Z" fill="#934e1f" stroke="#934e1f"/>
<path d="M442.6 279.1L512.3 238.8L446.8 272.6Z" fill="#8d4a1e" stroke="#8d4a1e"/>
<path d="M346.7 357.6L442.6 279.1L446.8 272.6Z" fill="#88471c" stroke="#88471c"/>
<path d="M346.7 357.6L446.8 272.6L350.9 346.5Z" fill="#944e20" stroke="#944e20"/>
<path d="M346.7 357.6L350.9 346.5L276.8 409.7Z" fill="#934d1f" stroke="#934d1f"/>
<path d="M272.7 408.9L346.7 357.6L276.8 409.7Z" fill="#ea8034" stroke="#ea8034"/>
<path d="M233.4 430.0L272.7 408.9L276.8 409.7Z" fill="#eb8034" stroke="#eb8034"/>
<path d="M233.4 430.0L276.8 409.7L237.6 428.2Z" fill="#f1883b" stroke="#f1883b"/>
<path d="M233.4 430.0L237.6 428.2L189.7 447.1Z" fill="#793f18" stroke="#793f18"/>
<path d="M185.5 448.9L233.4 430.0L189.7 447.1Z" fill="#793e18" stroke="#793e18"/>
<path d="M141.9 462.1L185.5 448.9L189.7 447.1Z" fill="#7c4019" stroke="#7c4019"/>
<path d="M141.9 462.1L189.7 447.1L146.1 462.8Z" fill="#ef8436" stroke="#ef8436"/>
<path d="M581.8 196.7L586.0 207.3L520.7 239.4Z" fill="#d5722d" stroke="#d5722d"/>
<path d="M516.5 229.7L581.8 196.7L520.7 239.4Z" fill="#d1702c" stroke="#d1702c"/>
<path d="M446.8 272.6L516.5 229.7L520.7 239.4Z" fill="#cd6d2b" stroke="#cd6d2b"/>
<path d="M446.8 272.6L520.7 239.4L450.9 277.3Z" fill="#e17a31" stroke="#e17a31"/>
<path d="M446.8 272.6L450.9 277.3L355.1 359.3Z" fill="#e17a31" stroke="#e17a31"/>
<path d="M350.9 346.5L446.8 272.6L355.1 359.3Z" fill="#cb6b2a" stroke="#cb6b2a"/>
<path d="M276.8 409.7L350.9 346.5L355.1 359.3Z" fill="#c76929" stroke="#c76929"/>
<path d="M276.8 409.7L355.1 359.3L281.0 407.5Z" fill="#f48e43" stroke="#f48e43"/>
<path d="M276.8 409.7L281.0 407.5L241.8 432.1Z" fill="#f2893d" stroke="#f2893d"/>
<path d="M237.6 428.2L276.8 409.7L241.8 432.1Z" fill="#d8742e" stroke="#d8742e"/>
<path d="M189.7 447.1L237.6 428.2L241.8 432.1Z" fill="#da752f" stroke="#da752f"/>
<path d="M189.7 447.1L241.8 432.1L193.9 450.5Z" fill="#de7830" stroke="#de7830"/>
<path d="M189.7 447.1L193.9 450.5L150.3 464.4Z" fill="#de7830" stroke="#de7830"/>
<path d="M146.1 462.8L189.7 447.1L150.3 464.4Z" fill="#ea8034" stroke="#ea8034"/>
<path d="M520.7 239.4L586.0 207.3L590.2 210.1Z" fill="#ef8539" stroke="#ef8539"/>
<path d="M520.7 239.4L590.2 210.1L524.8 241.8Z" fill="#f08639" stroke="#f08639"/>
<path d="M520.7 239.4L524.8 241.8L455.1 278.0Z" fill="#f08538" stroke="#f08538"/>
<path d="M450.9 277.3L520.7 239.4L455.1 278.0Z" fill="#f28b3f" stroke="#f28b3f"/>
<path d="M355.1 359.3L450.9 277.3L455.1 278.0Z" fill="#f28a3e" stroke="#f28a3e"/>
<path d="M355.1 359.3L455.1 278.0L359.3 365.8Z" fill="#da752f" stroke="#da752f"/>
<path d="M355.1 359.3L359.3 365.8L285.2 414.2Z" fill="#db762f" stroke="#db762f"/>
<path d="M281.0 407.5L355.1 359.3L285.2 414.2Z" fill="#da762f" stroke="#da762f"/>
<path d="M241.8 432.1L281.0 407.5L285.2 414.2Z" fill="#cf6e2b" stroke="#cf6e2b"/>
<path d="M241.8 432.1L285.2 414.2L246.0 428.0Z" fill="#8a481d" stroke="#8a481d"/>
<path d="M241.8 432.1L246.0 428.0L198.1 450.4Z" fill="#86461c" stroke="#86461c"/>
<path d="M193.9 450.5L241.8 432.1L198.1 450.4Z" fill="#f1873a" stroke="#f1873a"/>
<path d="M150.3 464.4L193.9 450.5L198.1 450.4Z" fill="#f1873a" stroke="#f1873a"/>
<path d="M150.3 464.4L198.1 450.4L154.5 463.4Z" fill="#f1883b" stroke="#f1883b"/>
<path d="M590.2 210.1L594.4 210.7L529.0 245.2Z" fill="#f1873a" stroke="#f1873a"/>
<path d="M524.8 241.8L590.2 210.1L529.0 245.2Z" fill="#e67d33" stroke="#e67d33"/>
<path d="M455.1 278.0L524.8 241.8L529.0 245.2Z" fill="#e67d33" stroke="#e67d33"/>
<path d="M455.1 278.0L529.0 245.2L459.3 281.0Z" fill="#eb8134" stroke="#eb8134"/>
<path d="M455.1 278.0L459.3 281.0L363.5 362.0Z" fill="#e37b31" stroke="#e37b31"/>
<path d="M359.3 365.8L455.1 278.0L363.5 362.0Z" fill="#f28a3d" stroke="#f28a3d"/>
<path d="M285.2 414.2L359.3 365.8L363.5 362.0Z" fill="#7f421a" stroke="#7f421a"/>
<path d="M285.2 414.2L363.5 362.0L289.4 414.0Z" fill="#ee8235" stroke="#ee8235"/>
<path d="M285.2 414.2L289.4 414.0L250.2 433.4Z" fill="#ef8437" stroke="#ef8437"/>
<path d="M246.0 428.0L285.2 414.2L250.2 433.4Z" fill="#d06f2c" stroke="#d06f2c"/>
<path d="M198.1 450.4L246.0 428.0L250.2 433.4Z" fill="#cc6d2a" stroke="#cc6d2a"/>
<path d="M198.1 450.4L250.2 433.4L202.2 452.6Z" fill="#e07930" stroke="#e07930"/>
<path d="M198.1 450.4L202.2 452.6L158.7 465.3Z" fill="#e07931" stroke="#e07931"/>
<path d="M154.5 463.4L198.1 450.4L158.7 465.3Z" fill="#e57d32" stroke="#e57d32"/>
<path d="M529.0 245.2L594.4 210.7L598.6 213.3Z" fill="#e07a31" stroke="#e07a31"/>
<path d="M529.0 245.2L598.6 213.3L533.2 241.7Z" fill="#83451b" stroke="#83451b"/>
<path d="M529.0 245.2L533.2 241.7L463.5 288.7Z" fill="#7c4119" stroke="#7c4119"/>
<path d="M459.3 281.0L529.0 245.2L463.5 288.7Z" fill="#c96a29" stroke="#c96a29"/>
<path d="M363.5 362.0L459.3 281.0L463.5 288.7Z" fill="#c06526" stroke="#c06526"/>
<path d="M363.5 362.0L463.5 288.7L367.6 357.6Z" fill="#81431a" stroke="#81431a"/>
<path d="M363.5 362.0L367.6 357.6L293.6 410.9Z" fill="#81431a" stroke="#81431a"/>
<path d="M289.4 414.0L363.5 362.0L293.6 410.9Z" fill="#793f18" stroke="#793f18"/>
<path d="M250.2 433.4L289.4 414.0L293.6 410.9Z" fill="#80421a" stroke="#80421a"/>
<path d="M250.2 433.4L293.6 410.9L254.4 429.8Z" fill="#83441b" stroke="#83441b"/>
<path d="M250.2 433.4L254.4 429.8L206.4 448.3Z" fill="#86461c" stroke="#86461c"/>
<path d="M202.2 452.6L250.2 433.4L206.4 448.3Z" fill="#89481d" stroke="#89481d"/>
<path d="M158.7 465.3L202.2 452.6L206.4 448.3Z" fill="#8c491d" stroke="#8c491d"/>
<path d="M158.7 465.3L206.4 448.3L162.9 463.2Z" fill="#7d4119" stroke="#7d4119"/>
<path d="M598.6 213.3L602.7 202.1L537.4 236.7Z" fill="#985121" stroke="#985121"/>
<path d="M533.2 241.7L598.6 213.3L537.4 236.7Z" fill="#8b491d" stroke="#8b491d"/>
<path d="M463.5 288.7L533.2 241.7L537.4 236.7Z" fill="#85451c" stroke="#85451c"/>
<path d="M463.5 288.7L537.4 236.7L467.7 271.7Z" fill="#9e5422" stroke="#9e5422"/>
<path d="M463.5 288.7L467.7 271.7L371.8 351.7Z" fill="#9a5221" stroke="#9a5221"/>
<path d="M367.6 357.6L463.5 288.7L371.8 351.7Z" fill="#88471c" stroke="#88471c"/>
<path d="M293.6 410.9L367.6 357.6L371.8 351.7Z" fill="#88471c" stroke="#88471c"/>
<path d="M293.6 410.9L371.8 351.7L297.8 407.2Z" fill="#7c4019" stroke="#7c4019"/>
<path d="M293.6 410.9L297.8 407.2L258.5 426.7Z" fill="#83441b" stroke="#83441b"/>
<path d="M254.4 429.8L293.6 410.9L258.5 426.7Z" fill="#7f421a" stroke="#7f421a"/>
<path d="M206.4 448.3L254.4 429.8L258.5 426.7Z" fill="#82441b" stroke="#82441b"/>
<path d="M206.4 448.3L258.5 426.7L210.6 449.9Z" fill="#e17a31" stroke="#e17a31"/>
<path d="M206.4 448.3L210.6 449.9L167.0 462.9Z" fill="#e17a31" stroke="#e17a31"/>
<path d="M162.9 463.2L206.4 448.3L167.0 462.9Z" fill="#ea7f33" stroke="#ea7f33"/>
<path d="M537.4 236.7L602.7 202.1L606.9 208.7Z" fill="#d9752e" stroke="#d9752e"/>
<path d="M537.4 236.7L606.9 208.7L541.6 247.8Z" fill="#d7742d" stroke="#d7742d"/>
<path d="M537.4 236.7L541.6 247.8L471.9 275.6Z" fill="#d9752e" stroke="#d9752e"/>
<path d="M467.7 271.7L537.4 236.7L471.9 275.6Z" fill="#e87f33" stroke="#e87f33"/>
<path d="M371.8 351.7L467.7 271.7L471.9 275.6Z" fill="#e77e33" stroke="#e77e33"/>
<path d="M371.8 351.7L471.9 275.6L376.0 361.0Z" fill="#da752e" stroke="#da752e"/>
<path d="M371.8 351.7L376.0 361.0L301.9 412.8Z" fill="#d4712d" stroke="#d4712d"/>
<path d="M297.8 407.2L371.8 351.7L301.9 412.8Z" fill="#d9752e" stroke="#d9752e"/>
<path d="M258.5 426.7L297.8 407.2L301.9 412.8Z" fill="#d9752e" stroke="#d9752e"/>
<path d="M258.5 426.7L301.9 412.8L262.7 433.3Z" fill="#d9752e" stroke="#d9752e"/>
<path d="M258.5 426.7L262.7 433.3L214.8 448.5Z" fill="#d2702c" stroke="#d2702c"/>
<path d="M210.6 449.9L258.5 426.7L214.8 448.5Z" fill="#f1893c" stroke="#f1893c"/>
<path d="M167.0 462.9L210.6 449.9L214.8 448.5Z" fill="#793e18" stroke="#793e18"/>
<path d="M167.0 462.9L214.8 448.5L171.2 466.9Z" fill="#da762f" stroke="#da762f"/>
<path d="M606.9 208.7L611.1 226.3L545.7 254.4Z" fill="#db752d" stroke="#db752d"/>
<path d="M541.6 247.8L606.9 208.7L545.7 254.4Z" fill="#e57f35" stroke="#e57f35"/>
<path d="M471.9 275.6L541.6 247.8L545.7 254.4Z" fill="#e67f35" stroke="#e67f35"/>
<path d="M471.9 275.6L545.7 254.4L476.0 290.1Z" fill="#dd762e" stroke="#dd762e"/>
<path d="M471.9 275.6L476.0 290.1L380.2 365.0Z" fill="#da752e" stroke="#da752e"/>
<path d="M376.0 361.0L471.9 275.6L380.2 365.0Z" fill="#ec8338" stroke="#ec8338"/>
<path d="M301.9 412.8L376.0 361.0L380.2 365.0Z" fill="#ed8236" stroke="#ed8236"/>
<path d="M301.9 412.8L380.2 365.0L306.1 413.3Z" fill="#f38d41" stroke="#f38d41"/>
<path d="M301.9 412.8L306.1 413.3L266.9 436.0Z" fill="#f28a3d" stroke="#f28a3d"/>
<path d="M262.7 433.3L301.9 412.8L266.9 436.0Z" fill="#ef8336" stroke="#ef8336"/>
<path d="M214.8 448.5L262.7 433.3L266.9 436.0Z" fill="#ea8034" stroke="#ea8034"/>
<path d="M214.8 448.5L266.9 436.0L219.0 449.8Z" fill="#f08437" stroke="#f08437"/>
<path d="M214.8 448.5L219.0 449.8L175.4 465.6Z" fill="#ee8335" stroke="#ee8335"/>
<path d="M171.2 466.9L214.8 448.5L175.4 465.6Z" fill="#f2893d" stroke="#f2893d"/>
<path d="M545.7 254.4L611.1 226.3L615.3 235.7Z" fill="#e27a30" stroke="#e27a30"/>
<path d="M545.7 254.4L615.3 235.7L549.9 269.0Z" fill="#dc762e" stroke="#dc762e"/>
<path d="M545.7 254.4L549.9 269.0L480.2 303.3Z" fill="#dc762e" stroke="#dc762e"/>
<path d="M476.0 290.1L545.7 254.4L480.2 303.3Z" fill="#de772e" stroke="#de772e"/>
<path d="M380.2 365.0L476.0 290.1L480.2 303.3Z" fill="#db762e" stroke="#db762e"/>
<path d="M380.2 365.0L480.2 303.3L384.4 368.6Z" fill="#ed853a" stroke="#ed853a"/>
<path d="M380.2 365.0L384.4 368.6L310.3 416.6Z" fill="#ec8134" stroke="#ec8134"/>
<path d="M306.1 413.3L380.2 365.0L310.3 416.6Z" fill="#ea8034" stroke="#ea8034"/>
<path d="M266.9 436.0L306.1 413.3L310.3 416.6Z" fill="#e37b32" stroke="#e37b32"/>
<path d="M266.9 436.0L310.3 416.6L271.1 436.1Z" fill="#f1873a" stroke="#f1873a"/>
<path d="M266.9 436.0L271.1 436.1L223.2 451.5Z" fill="#f08538" stroke="#f08538"/>
<path d="M219.0 449.8L266.9 436.0L223.2 451.5Z" fill="#eb8034" stroke="#eb8034"/>
<path d="M175.4 465.6L219.0 449.8L223.2 451.5Z" fill="#e77e33" stroke="#e77e33"/>
<path d="M175.4 465.6L223.2 451.5L179.6 466.1Z" fill="#ef8336" stroke="#ef8336"/>
<path d="M615.3 235.7L619.5 243.3L554.1 274.4Z" fill="#d4722d" stroke="#d4722d"/>
<path d="M549.9 269.0L615.3 235.7L554.1 274.4Z" fill="#e67d32" stroke="#e67d32"/>
<path d="M480.2 303.3L549.9 269.0L554.1 274.4Z" fill="#e87e33" stroke="#e87e33"/>
<path d="M480.2 303.3L554.1 274.4L484.4 310.0Z" fill="#dc772f" stroke="#dc772f"/>
<path d="M480.2 303.3L484.4 310.0L388.5 375.2Z" fill="#dc772f" stroke="#dc772f"/>
<path d="M384.4 368.6L480.2 303.3L388.5 375.2Z" fill="#e07930" stroke="#e07930"/>
<path d="M310.3 416.6L384.4 368.6L388.5 375.2Z" fill="#d4722d" stroke="#d4722d"/>
<path d="M310.3 416.6L388.5 375.2L314.5 416.8Z" fill="#f08638" stroke="#f08638"/>
<path d="M310.3 416.6L314.5 416.8L275.3 434.8Z" fill="#ef8336" stroke="#ef8336"/>
<path d="M271.1 436.1L310.3 416.6L275.3 434.8Z" fill="#f0873a" stroke="#f0873a"/>
<path d="M223.2 451.5L271.1 436.1L275.3 434.8Z" fill="#ef8538" stroke="#ef8538"/>
<path d="M223.2 451.5L275.3 434.8L227.3 451.3Z" fill="#ee8336" stroke="#ee8336"/>
<path d="M223.2 451.5L227.3 451.3L183.8 467.4Z" fill="#ef8538" stroke="#ef8538"/>
<path d="M179.6 466.1L223.2 451.5L183.8 467.4Z" fill="#e87f33" stroke="#e87f33"/>
<path d="M554.1 274.4L619.5 243.3L623.7 233.9Z" fill="#964f20" stroke="#964f20"/>
<path d="M554.1 274.4L623.7 233.9L558.3 269.6Z" fill="#87471c" stroke="#87471c"/>
<path d="M554.1 274.4L558.3 269.6L488.6 301.1Z" fill="#8a481d" stroke="#8a481d"/>
<path d="M484.4 310.0L554.1 274.4L488.6 301.1Z" fill="#954f20" stroke="#954f20"/>
<path d="M388.5 375.2L484.4 310.0L488.6 301.1Z" fill="#924d1f" stroke="#924d1f"/>
<path d="M388.5 375.2L488.6 301.1L392.7 374.3Z" fill="#ec8134" stroke="#ec8134"/>
<path d="M388.5 375.2L392.7 374.3L318.7 414.9Z" fill="#ef8538" stroke="#ef8538"/>
<path d="M314.5 416.8L388.5 375.2L318.7 414.9Z" fill="#f0863a" stroke="#f0863a"/>
<path d="M275.3 434.8L314.5 416.8L318.7 414.9Z" fill="#ee8437" stroke="#ee8437"/>
<path d="M275.3 434.8L318.7 414.9L279.4 433.3Z" fill="#ee8438" stroke="#ee8438"/>
<path d="M275.3 434.8L279.4 433.3L231.5 453.2Z" fill="#f08639" stroke="#f08639"/>
<path d="M227.3 451.3L275.3 434.8L231.5 453.2Z" fill="#e37b32" stroke="#e37b32"/>
<path d="M183.8 467.4L227.3 451.3L231.5 453.2Z" fill="#e67d33" stroke="#e67d33"/>
<path d="M183.8 467.4L231.5 453.2L188.0 465.3Z" fill="#7f421a" stroke="#7f421a"/>
<path d="M623.7 233.9L627.8 235.0L562.5 267.4Z" fill="#e17a31" stroke="#e17a31"/>
<path d="M558.3 269.6L623.7 233.9L562.5 267.4Z" fill="#ea8034" stroke="#ea8034"/>
<path d="M488.6 301.1L558.3 269.6L562.5 267.4Z" fill="#7a3f19" stroke="#7a3f19"/>
<path d="M488.6 301.1L562.5 267.4L492.8 301.4Z" fill="#e97f33" stroke="#e97f33"/>
<path d="M488.6 301.1L492.8 301.4L396.9 373.2Z" fill="#ea8034" stroke="#ea8034"/>
<path d="M392.7 374.3L488.6 301.1L396.9 373.2Z" fill="#ec8134" stroke="#ec8134"/>
<path d="M318.7 414.9L392.7 374.3L396.9 373.2Z" fill="#ef8538" stroke="#ef8538"/>
<path d="M318.7 414.9L396.9 373.2L322.8 416.0Z" fill="#e97f33" stroke="#e97f33"/>
<path d="M318.7 414.9L322.8 416.0L283.6 435.4Z" fill="#eb8134" stroke="#eb8134"/>
<path d="M279.4 433.3L318.7 414.9L283.6 435.4Z" fill="#e47c32" stroke="#e47c32"/>
<path d="M231.5 453.2L279.4 433.3L283.6 435.4Z" fill="#e77e33" stroke="#e77e33"/>
<path d="M231.5 453.2L283.6 435.4L235.7 453.8Z" fill="#f08537" stroke="#f08537"/>
<path d="M231.5 453.2L235.7 453.8L192.1 468.5Z" fill="#ef8436" stroke="#ef8436"/>
<path d="M188.0 465.3L231.5 453.2L192.1 468.5Z" fill="#df7830" stroke="#df7830"/>
<path d="M562.5 267.4L627.8 235.0L632.0 234.5Z" fill="#ef8538" stroke="#ef8538"/>
<path d="M562.5 267.4L632.0 234.5L566.7 264.8Z" fill="#7d4119" stroke="#7d4119"/>
<path d="M562.5 267.4L566.7 264.8L496.9 307.0Z" fill="#793e18" stroke="#793e18"/>
<path d="M492.8 301.4L562.5 267.4L496.9 307.0Z" fill="#d3712d" stroke="#d3712d"/>
<path d="M396.9 373.2L492.8 301.4L496.9 307.0Z" fill="#d6732d" stroke="#d6732d"/>
<path d="M396.9 373.2L496.9 307.0L401.1 374.2Z" fill="#f18639" stroke="#f18639"/>
<path d="M396.9 373.2L401.1 374.2L327.0 415.3Z" fill="#f18739" stroke="#f18739"/>
<path d="M322.8 416.0L396.9 373.2L327.0 415.3Z" fill="#f2893c" stroke="#f2893c"/>
<path d="M283.6 435.4L322.8 416.0L327.0 415.3Z" fill="#f28a3d" stroke="#f28a3d"/>
<path d="M283.6 435.4L327.0 415.3L287.8 438.7Z" fill="#e57d32" stroke="#e57d32"/>
<path d="M283.6 435.4L287.8 438.7L239.9 454.1Z" fill="#e47c32" stroke="#e47c32"/>
<path d="M235.7 453.8L283.6 435.4L239.9 454.1Z" fill="#f18739" stroke="#f18739"/>
<path d="M192.1 468.5L235.7 453.8L239.9 454.1Z" fill="#f08639" stroke="#f08639"/>
<path d="M192.1 468.5L239.9 454.1L196.3 468.6Z" fill="#f1873a" stroke="#f1873a"/>
<path d="M632.0 234.5L636.2 239.7L570.8 274.0Z" fill="#d2702c" stroke="#d2702c"/>
<path d="M566.7 264.8L632.0 234.5L570.8 274.0Z" fill="#c56828" stroke="#c56828"/>
<path d="M496.9 307.0L566.7 264.8L570.8 274.0Z" fill="#c86a29" stroke="#c86a29"/>
<path d="M496.9 307.0L570.8 274.0L501.1 306.1Z" fill="#f1883b" stroke="#f1883b"/>
<path d="M496.9 307.0L501.1 306.1L405.3 381.9Z" fill="#f2893c" stroke="#f2893c"/>
<path d="M401.1 374.2L496.9 307.0L405.3 381.9Z" fill="#d3712c" stroke="#d3712c"/>
<path d="M327.0 415.3L401.1 374.2L405.3 381.9Z" fill="#d3712c" stroke="#d3712c"/>
<path d="M327.0 415.3L405.3 381.9L331.2 419.0Z" fill="#e57c32" stroke="#e57c32"/>
<path d="M327.0 415.3L331.2 419.0L292.0 441.4Z" fill="#e17a31" stroke="#e17a31"/>
<path d="M287.8 438.7L327.0 415.3L292.0 441.4Z" fill="#e98034" stroke="#e98034"/>
<path d="M239.9 454.1L287.8 438.7L292.0 441.4Z" fill="#e87f33" stroke="#e87f33"/>
<path d="M239.9 454.1L292.0 441.4L244.1 455.5Z" fill="#f08436" stroke="#f08436"/>
<path d="M239.9 454.1L244.1 455.5L200.5 471.5Z" fill="#f08538" stroke="#f08538"/>
<path d="M196.3 468.6L239.9 454.1L200.5 471.5Z" fill="#e67e33" stroke="#e67e33"/>
<path d="M570.8 274.0L636.2 239.7L640.4 237.0Z" fill="#7c4019" stroke="#7c4019"/>
<path d="M570.8 274.0L640.4 237.0L575.0 267.1Z" fill="#914c1f" stroke="#914c1f"/>
<path d="M570.8 274.0L575.0 267.1L505.3 303.2Z" fill="#904c1e" stroke="#904c1e"/>
<path d="M501.1 306.1L570.8 274.0L505.3 303.2Z" fill="#7f421a" stroke="#7f421a"/>
<path d="M405.3 381.9L501.1 306.1L505.3 303.2Z" fill="#ec8236" stroke="#ec8236"/>
<path d="M405.3 381.9L505.3 303.2L409.5 383.2Z" fill="#db762f" stroke="#db762f"/>
<path d="M405.3 381.9L409.5 383.2L335.4 419.6Z" fill="#e77e33" stroke="#e77e33"/>
<path d="M331.2 419.0L405.3 381.9L335.4 419.6Z" fill="#f08537" stroke="#f08537"/>
<path d="M292.0 441.4L331.2 419.0L335.4 419.6Z" fill="#ef8335" stroke="#ef8335"/>
<path d="M292.0 441.4L335.4 419.6L296.2 438.5Z" fill="#7e421a" stroke="#7e421a"/>
<path d="M292.0 441.4L296.2 438.5L248.3 458.5Z" fill="#80431a" stroke="#80431a"/>
<path d="M244.1 455.5L292.0 441.4L248.3 458.5Z" fill="#e47c32" stroke="#e47c32"/>
<path d="M200.5 471.5L244.1 455.5L248.3 458.5Z" fill="#e67e33" stroke="#e67e33"/>
<path d="M200.5 471.5L248.3 458.5L204.7 474.3Z" fill="#e77e33" stroke="#e77e33"/>
<path d="M640.4 237.0L644.6 228.0L579.2 262.2Z" fill="#954f20" stroke="#954f20"/>
<path d="M575.0 267.1L640.4 237.0L579.2 262.2Z" fill="#8a481d" stroke="#8a481d"/>
<path d="M505.3 303.2L575.0 267.1L579.2 262.2Z" fill="#88471c" stroke="#88471c"/>
<path d="M505.3 303.2L579.2 262.2L509.5 293.3Z" fill="#985021" stroke="#985021"/>
<path d="M505.3 303.2L509.5 293.3L413.6 368.6Z" fill="#924d1f" stroke="#924d1f"/>
<path d="M409.5 383.2L505.3 303.2L413.6 368.6Z" fill="#985021" stroke="#985021"/>
<path d="M335.4 419.6L409.5 383.2L413.6 368.6Z" fill="#9d5322" stroke="#9d5322"/>
<path d="M335.4 419.6L413.6 368.6L339.6 418.4Z" fill="#ed8336" stroke="#ed8336"/>
<path d="M335.4 419.6L339.6 418.4L300.4 441.2Z" fill="#f1883b" stroke="#f1883b"/>
<path d="M296.2 438.5L335.4 419.6L300.4 441.2Z" fill="#de7830" stroke="#de7830"/>
<path d="M248.3 458.5L296.2 438.5L300.4 441.2Z" fill="#e37c32" stroke="#e37c32"/>
<path d="M248.3 458.5L300.4 441.2L252.4 460.3Z" fill="#eb8134" stroke="#eb8134"/>
<path d="M248.3 458.5L252.4 460.3L208.9 472.3Z" fill="#e97f33" stroke="#e97f33"/>
<path d="M204.7 474.3L248.3 458.5L208.9 472.3Z" fill="#7b4019" stroke="#7b4019"/>
<path d="M579.2 262.2L644.6 228.0L648.7 222.4Z" fill="#8b491d" stroke="#8b491d"/>
<path d="M579.2 262.2L648.7 222.4L583.4 255.2Z" fill="#914c1f" stroke="#914c1f"/>
<path d="M579.2 262.2L583.4 255.2L513.7 292.5Z" fill="#904c1f" stroke="#904c1f"/>
<path d="M509.5 293.3L579.2 262.2L513.7 292.5Z" fill="#e57c31" stroke="#e57c31"/>
<path d="M413.6 368.6L509.5 293.3L513.7 292.5Z" fill="#e97f33" stroke="#e97f33"/>
<path d="M413.6 368.6L513.7 292.5L417.8 368.4Z" fill="#ee8335" stroke="#ee8335"/>
<path d="M413.6 368.6L417.8 368.4L343.8 424.7Z" fill="#ef8436" stroke="#ef8436"/>
<path d="M339.6 418.4L413.6 368.6L343.8 424.7Z" fill="#c96a29" stroke="#c96a29"/>
<path d="M300.4 441.2L339.6 418.4L343.8 424.7Z" fill="#d16f2c" stroke="#d16f2c"/>
<path d="M300.4 441.2L343.8 424.7L304.5 441.0Z" fill="#f1873a" stroke="#f1873a"/>
<path d="M300.4 441.2L304.5 441.0L256.6 460.1Z" fill="#f08538" stroke="#f08538"/>
<path d="M252.4 460.3L300.4 441.2L256.6 460.1Z" fill="#f08639" stroke="#f08639"/>
<path d="M208.9 472.3L252.4 460.3L256.6 460.1Z" fill="#ef8437" stroke="#ef8437"/>
<path d="M208.9 472.3L256.6 460.1L213.0 472.4Z" fill="#ee8336" stroke="#ee8336"/>
<path d="M648.7 222.4L652.9 224.2L587.6 254.2Z" fill="#f08639" stroke="#f08639"/>
<path d="M583.4 255.2L648.7 222.4L587.6 254.2Z" fill="#f1883b" stroke="#f1883b"/>
<path d="M513.7 292.5L583.4 255.2L587.6 254.2Z" fill="#f38b3e" stroke="#f38b3e"/>
<path d="M513.7 292.5L587.6 254.2L517.9 299.5Z" fill="#dd7830" stroke="#dd7830"/>
<path d="M513.7 292.5L517.9 299.5L422.0 373.0Z" fill="#dd772f" stroke="#dd772f"/>
<path d="M417.8 368.4L513.7 292.5L422.0 373.0Z" fill="#e17a31" stroke="#e17a31"/>
<path d="M343.8 424.7L417.8 368.4L422.0 373.0Z" fill="#e27b31" stroke="#e27b31"/>
<path d="M343.8 424.7L422.0 373.0L347.9 422.8Z" fill="#f48f44" stroke="#f48f44"/>
<path d="M343.8 424.7L347.9 422.8L308.7 441.5Z" fill="#f38d41" stroke="#f38d41"/>
<path d="M304.5 441.0L343.8 424.7L308.7 441.5Z" fill="#f18639" stroke="#f18639"/>
<path d="M256.6 460.1L304.5 441.0L308.7 441.5Z" fill="#ef8436" stroke="#ef8436"/>
<path d="M256.6 460.1L308.7 441.5L260.8 460.1Z" fill="#f08638" stroke="#f08638"/>
<path d="M256.6 460.1L260.8 460.1L217.2 474.3Z" fill="#ef8437" stroke="#ef8437"/>
<path d="M213.0 472.4L256.6 460.1L217.2 474.3Z" fill="#e57d32" stroke="#e57d32"/>
<path d="M587.6 254.2L652.9 224.2L657.1 238.0Z" fill="#d3712c" stroke="#d3712c"/>
<path d="M587.6 254.2L657.1 238.0L591.8 270.7Z" fill="#cd6d2a" stroke="#cd6d2a"/>
<path d="M587.6 254.2L591.8 270.7L522.0 310.0Z" fill="#cb6c2a" stroke="#cb6c2a"/>
<path d="M517.9 299.5L587.6 254.2L522.0 310.0Z" fill="#d8742e" stroke="#d8742e"/>
<path d="M422.0 373.0L517.9 299.5L522.0 310.0Z" fill="#d7732d" stroke="#d7732d"/>
<path d="M422.0 373.0L522.0 310.0L426.2 377.0Z" fill="#e77e33" stroke="#e77e33"/>
<path d="M422.0 373.0L426.2 377.0L352.1 429.7Z" fill="#e57d32" stroke="#e57d32"/>
<path d="M347.9 422.8L422.0 373.0L352.1 429.7Z" fill="#d8742e" stroke="#d8742e"/>
<path d="M308.7 441.5L347.9 422.8L352.1 429.7Z" fill="#d16f2c" stroke="#d16f2c"/>
<path d="M308.7 441.5L352.1 429.7L312.9 446.6Z" fill="#d9752e" stroke="#d9752e"/>
<path d="M308.7 441.5L312.9 446.6L265.0 460.9Z" fill="#db762f" stroke="#db762f"/>
<path d="M260.8 460.1L308.7 441.5L265.0 460.9Z" fill="#f1873a" stroke="#f1873a"/>
<path d="M217.2 474.3L260.8 460.1L265.0 460.9Z" fill="#f08639" stroke="#f08639"/>
<path d="M217.2 474.3L265.0 460.9L221.4 475.7Z" fill="#f08538" stroke="#f08538"/>
<path d="M657.1 238.0L661.3 227.8L595.9 259.9Z" fill="#985021" stroke="#985021"/>
<path d="M591.8 270.7L657.1 238.0L595.9 259.9Z" fill="#985021" stroke="#985021"/>
<path d="M522.0 310.0L591.8 270.7L595.9 259.9Z" fill="#975021" stroke="#975021"/>
<path d="M522.0 310.0L595.9 259.9L526.2 308.8Z" fill="#e0792f" stroke="#e0792f"/>
<path d="M522.0 310.0L526.2 308.8L430.4 375.7Z" fill="#e67d31" stroke="#e67d31"/>
<path d="M426.2 377.0L522.0 310.0L430.4 375.7Z" fill="#ed8336" stroke="#ed8336"/>
<path d="M352.1 429.7L426.2 377.0L430.4 375.7Z" fill="#ed8336" stroke="#ed8336"/>
<path d="M352.1 429.7L430.4 375.7L356.3 426.8Z" fill="#783e18" stroke="#783e18"/>
<path d="M352.1 429.7L356.3 426.8L317.1 446.5Z" fill="#7e411a" stroke="#7e411a"/>
<path d="M312.9 446.6L352.1 429.7L317.1 446.5Z" fill="#f08639" stroke="#f08639"/>
<path d="M265.0 460.9L312.9 446.6L317.1 446.5Z" fill="#f1873a" stroke="#f1873a"/>
<path d="M265.0 460.9L317.1 446.5L269.2 465.8Z" fill="#d4712d" stroke="#d4712d"/>
<path d="M265.0 460.9L269.2 465.8L225.6 479.1Z" fill="#dd7730" stroke="#dd7730"/>
<path d="M221.4 475.7L265.0 460.9L225.6 479.1Z" fill="#e87e33" stroke="#e87e33"/>
<path d="M595.9 259.9L661.3 227.8L665.5 207.7Z" fill="#a05523" stroke="#a05523"/>
<path d="M595.9 259.9L665.5 207.7L600.1 240.2Z" fill="#a05523" stroke="#a05523"/>
<path d="M595.9 259.9L600.1 240.2L530.4 273.6Z" fill="#a05523" stroke="#a05523"/>
<path d="M526.2 308.8L595.9 259.9L530.4 273.6Z" fill="#a25623" stroke="#a25623"/>
<path d="M430.4 375.7L526.2 308.8L530.4 273.6Z" fill="#a25623" stroke="#a25623"/>
<path d="M430.4 375.7L530.4 273.6L434.6 358.8Z" fill="#9a5121" stroke="#9a5121"/>
<path d="M430.4 375.7L434.6 358.8L360.5 420.2Z" fill="#9a5221" stroke="#9a5221"/>
<path d="M356.3 426.8L430.4 375.7L360.5 420.2Z" fill="#8b491d" stroke="#8b491d"/>
<path d="M317.1 446.5L356.3 426.8L360.5 420.2Z" fill="#8f4b1e" stroke="#8f4b1e"/>
<path d="M317.1 446.5L360.5 420.2L321.3 445.0Z" fill="#eb8034" stroke="#eb8034"/>
<path d="M317.1 446.5L321.3 445.0L273.3 465.1Z" fill="#ef8538" stroke="#ef8538"/>
<path d="M269.2 465.8L317.1 446.5L273.3 465.1Z" fill="#ef8437" stroke="#ef8437"/>
<path d="M225.6 479.1L269.2 465.8L273.3 465.1Z" fill="#f1883c" stroke="#f1883c"/>
<path d="M225.6 479.1L273.3 465.1L229.8 481.1Z" fill="#e77e33" stroke="#e77e33"/>
<path d="M665.5 207.7L669.7 190.5L604.3 222.5Z" fill="#9e5422" stroke="#9e5422"/>
<path d="M600.1 240.2L665.5 207.7L604.3 222.5Z" fill="#9f5422" stroke="#9f5422"/>
<path d="M530.4 273.6L600.1 240.2L604.3 222.5Z" fill="#9f5423" stroke="#9f5423"/>
<path d="M530.4 273.6L604.3 222.5L534.6 262.5Z" fill="#985021" stroke="#985021"/>
<path d="M530.4 273.6L534.6 262.5L438.7 346.0Z" fill="#934d1f" stroke="#934d1f"/>
<path d="M434.6 358.8L530.4 273.6L438.7 346.0Z" fill="#954f20" stroke="#954f20"/>
<path d="M360.5 420.2L434.6 358.8L438.7 346.0Z" fill="#964f20" stroke="#964f20"/>
<path d="M360.5 420.2L438.7 346.0L364.7 420.0Z" fill="#e57c32" stroke="#e57c32"/>
<path d="M360.5 420.2L364.7 420.0L325.5 447.3Z" fill="#ef8336" stroke="#ef8336"/>
<path d="M321.3 445.0L360.5 420.2L325.5 447.3Z" fill="#dc772f" stroke="#dc772f"/>
<path d="M273.3 465.1L321.3 445.0L325.5 447.3Z" fill="#e47c32" stroke="#e47c32"/>
<path d="M273.3 465.1L325.5 447.3L277.5 464.7Z" fill="#f1873a" stroke="#f1873a"/>
<path d="M273.3 465.1L277.5 464.7L234.0 481.6Z" fill="#f08538" stroke="#f08538"/>
<path d="M229.8 481.1L273.3 465.1L234.0 481.6Z" fill="#ee8335" stroke="#ee8335"/>
<path d="M604.3 222.5L669.7 190.5L673.8 181.2Z" fill="#964f20" stroke="#964f20"/>
<path d="M604.3 222.5L673.8 181.2L608.5 220.1Z" fill="#e27a30" stroke="#e27a30"/>
<path d="M604.3 222.5L608.5 220.1L538.8 260.9Z" fill="#e37b30" stroke="#e37b30"/>
<path d="M534.6 262.5L604.3 222.5L538.8 260.9Z" fill="#e1792f" stroke="#e1792f"/>
<path d="M438.7 346.0L534.6 262.5L538.8 260.9Z" fill="#e47b31" stroke="#e47b31"/>
<path d="M438.7 346.0L538.8 260.9L442.9 347.9Z" fill="#d5722c" stroke="#d5722c"/>
<path d="M438.7 346.0L442.9 347.9L368.8 425.7Z" fill="#d8742e" stroke="#d8742e"/>
<path d="M364.7 420.0L438.7 346.0L368.8 425.7Z" fill="#c96a29" stroke="#c96a29"/>
<path d="M325.5 447.3L364.7 420.0L368.8 425.7Z" fill="#d06f2b" stroke="#d06f2b"/>
<path d="M325.5 447.3L368.8 425.7L329.6 447.8Z" fill="#ed8235" stroke="#ed8235"/>
<path d="M325.5 447.3L329.6 447.8L281.7 467.2Z" fill="#f08437" stroke="#f08437"/>
<path d="M277.5 464.7L325.5 447.3L281.7 467.2Z" fill="#e77e33" stroke="#e77e33"/>
<path d="M234.0 481.6L277.5 464.7L281.7 467.2Z" fill="#e47c32" stroke="#e47c32"/>
<path d="M234.0 481.6L281.7 467.2L238.1 481.9Z" fill="#f08538" stroke="#f08538"/>
<path d="M673.8 181.2L678.0 177.3L612.7 216.8Z" fill="#81431a" stroke="#81431a"/>
<path d="M608.5 220.1L673.8 181.2L612.7 216.8Z" fill="#7e411a" stroke="#7e411a"/>
<path d="M538.8 260.9L608.5 220.1L612.7 216.8Z" fill="#7e421a" stroke="#7e421a"/>
<path d="M538.8 260.9L612.7 216.8L543.0 255.5Z" fill="#8a481d" stroke="#8a481d"/>
<path d="M538.8 260.9L543.0 255.5L447.1 337.7Z" fill="#82441b" stroke="#82441b"/>
<path d="M442.9 347.9L538.8 260.9L447.1 337.7Z" fill="#914c1f" stroke="#914c1f"/>
<path d="M368.8 425.7L442.9 347.9L447.1 337.7Z" fill="#8e4b1e" stroke="#8e4b1e"/>
<path d="M368.8 425.7L447.1 337.7L373.0 417.7Z" fill="#87471c" stroke="#87471c"/>
<path d="M368.8 425.7L373.0 417.7L333.8 444.9Z" fill="#8f4b1e" stroke="#8f4b1e"/>
<path d="M329.6 447.8L368.8 425.7L333.8 444.9Z" fill="#7c4119" stroke="#7c4119"/>
<path d="M281.7 467.2L329.6 447.8L333.8 444.9Z" fill="#81431b" stroke="#81431b"/>
<path d="M281.7 467.2L333.8 444.9L285.9 468.6Z" fill="#e77e33" stroke="#e77e33"/>
<path d="M281.7 467.2L285.9 468.6L242.3 483.7Z" fill="#e87f33" stroke="#e87f33"/>
<path d="M238.1 481.9L281.7 467.2L242.3 483.7Z" fill="#e87f33" stroke="#e87f33"/>
<path d="M612.7 216.8L678.0 177.3L682.2 193.4Z" fill="#c26627" stroke="#c26627"/>
<path d="M612.7 216.8L682.2 193.4L616.8 228.3Z" fill="#c56828" stroke="#c56828"/>
<path d="M612.7 216.8L616.8 228.3L547.1 264.5Z" fill="#ce6e2b" stroke="#ce6e2b"/>
<path d="M543.0 255.5L612.7 216.8L547.1 264.5Z" fill="#d3712c" stroke="#d3712c"/>
<path d="M447.1 337.7L543.0 255.5L547.1 264.5Z" fill="#d16f2c" stroke="#d16f2c"/>
<path d="M447.1 337.7L547.1 264.5L451.3 355.8Z" fill="#cd6d2a" stroke="#cd6d2a"/>
<path d="M447.1 337.7L451.3 355.8L377.2 421.7Z" fill="#ce6e2b" stroke="#ce6e2b"/>
<path d="M373.0 417.7L447.1 337.7L377.2 421.7Z" fill="#e37b31" stroke="#e37b31"/>
<path d="M333.8 444.9L373.0 417.7L377.2 421.7Z" fill="#e07931" stroke="#e07931"/>
<path d="M333.8 444.9L377.2 421.7L338.0 447.7Z" fill="#ec8135" stroke="#ec8135"/>
<path d="M333.8 444.9L338.0 447.7L290.1 466.9Z" fill="#e17a31" stroke="#e17a31"/>
<path d="M285.9 468.6L333.8 444.9L290.1 466.9Z" fill="#f08639" stroke="#f08639"/>
<path d="M242.3 483.7L285.9 468.6L290.1 466.9Z" fill="#7a3f19" stroke="#7a3f19"/>
<path d="M242.3 483.7L290.1 466.9L246.5 482.8Z" fill="#ef8538" stroke="#ef8538"/>
<path d="M682.2 193.4L686.4 185.1L621.0 222.1Z" fill="#934d1f" stroke="#934d1f"/>
<path d="M616.8 228.3L682.2 193.4L621.0 222.1Z" fill="#8e4a1e" stroke="#8e4a1e"/>
<path d="M547.1 264.5L616.8 228.3L621.0 222.1Z" fill="#8e4b1e" stroke="#8e4b1e"/>
<path d="M547.1 264.5L621.0 222.1L551.3 265.9Z" fill="#dd772f" stroke="#dd772f"/>
<path d="M547.1 264.5L551.3 265.9L455.5 359.0Z" fill="#e97f34" stroke="#e97f34"/>
<path d="M451.3 355.8L547.1 264.5L455.5 359.0Z" fill="#ea8034" stroke="#ea8034"/>
<path d="M377.2 421.7L451.3 355.8L455.5 359.0Z" fill="#ec8134" stroke="#ec8134"/>
<path d="M377.2 421.7L455.5 359.0L381.4 425.8Z" fill="#e07931" stroke="#e07931"/>
<path d="M377.2 421.7L381.4 425.8L342.2 452.7Z" fill="#e37c32" stroke="#e37c32"/>
<path d="M338.0 447.7L377.2 421.7L342.2 452.7Z" fill="#e17a31" stroke="#e17a31"/>
<path d="M290.1 466.9L338.0 447.7L342.2 452.7Z" fill="#d5722d" stroke="#d5722d"/>
<path d="M290.1 466.9L342.2 452.7L294.3 466.0Z" fill="#f1873a" stroke="#f1873a"/>
<path d="M290.1 466.9L294.3 466.0L250.7 483.3Z" fill="#f0863a" stroke="#f0863a"/>
<path d="M246.5 482.8L290.1 466.9L250.7 483.3Z" fill="#ee8235" stroke="#ee8235"/>
<path d="M621.0 222.1L686.4 185.1L690.6 172.3Z" fill="#9a5121" stroke="#9a5121"/>
<path d="M621.0 222.1L690.6 172.3L625.2 207.0Z" fill="#9c5322" stroke="#9c5322"/>
<path d="M621.0 222.1L625.2 207.0L555.5 247.8Z" fill="#9c5222" stroke="#9c5222"/>
<path d="M551.3 265.9L621.0 222.1L555.5 247.8Z" fill="#9d5322" stroke="#9d5322"/>
<path d="M455.5 359.0L551.3 265.9L555.5 247.8Z" fill="#9a5121" stroke="#9a5121"/>
<path d="M455.5 359.0L555.5 247.8L459.6 349.9Z" fill="#8b491d" stroke="#8b491d"/>
<path d="M455.5 359.0L459.6 349.9L385.6 424.6Z" fill="#8c491d" stroke="#8c491d"/>
<path d="M381.4 425.8L455.5 359.0L385.6 424.6Z" fill="#ec8235" stroke="#ec8235"/>
<path d="M342.2 452.7L381.4 425.8L385.6 424.6Z" fill="#ef8538" stroke="#ef8538"/>
<path d="M342.2 452.7L385.6 424.6L346.4 448.7Z" fill="#82441b" stroke="#82441b"/>
<path d="M342.2 452.7L346.4 448.7L298.4 468.4Z" fill="#87471c" stroke="#87471c"/>
<path d="M294.3 466.0L342.2 452.7L298.4 468.4Z" fill="#e87f33" stroke="#e87f33"/>
<path d="M250.7 483.3L294.3 466.0L298.4 468.4Z" fill="#e77e33" stroke="#e77e33"/>
<path d="M250.7 483.3L298.4 468.4L254.9 484.7Z" fill="#f08437" stroke="#f08437"/>
<path d="M690.6 172.3L694.8 178.4L629.4 217.6Z" fill="#e77e32" stroke="#e77e32"/>
<path d="M625.2 207.0L690.6 172.3L629.4 217.6Z" fill="#d8742e" stroke="#d8742e"/>
<path d="M555.5 247.8L625.2 207.0L629.4 217.6Z" fill="#d16f2c" stroke="#d16f2c"/>
<path d="M555.5 247.8L629.4 217.6L559.7 258.1Z" fill="#d8742e" stroke="#d8742e"/>
<path d="M555.5 247.8L559.7 258.1L463.8 341.3Z" fill="#cf6e2b" stroke="#cf6e2b"/>
<path d="M459.6 349.9L555.5 247.8L463.8 341.3Z" fill="#8a481d" stroke="#8a481d"/>
<path d="M385.6 424.6L459.6 349.9L463.8 341.3Z" fill="#8b491d" stroke="#8b491d"/>
<path d="M385.6 424.6L463.8 341.3L389.8 423.5Z" fill="#f0873a" stroke="#f0873a"/>
<path d="M385.6 424.6L389.8 423.5L350.5 454.2Z" fill="#f1873a" stroke="#f1873a"/>
<path d="M346.4 448.7L385.6 424.6L350.5 454.2Z" fill="#cd6d2a" stroke="#cd6d2a"/>
<path d="M298.4 468.4L346.4 448.7L350.5 454.2Z" fill="#d7742e" stroke="#d7742e"/>
<path d="M298.4 468.4L350.5 454.2L302.6 470.6Z" fill="#ee8335" stroke="#ee8335"/>
<path d="M298.4 468.4L302.6 470.6L259.1 487.7Z" fill="#ec8235" stroke="#ec8235"/>
<path d="M254.9 484.7L298.4 468.4L259.1 487.7Z" fill="#e67e33" stroke="#e67e33"/>
<path d="M629.4 217.6L694.8 178.4L698.9 186.7Z" fill="#e07930" stroke="#e07930"/>
<path d="M629.4 217.6L698.9 186.7L633.6 223.2Z" fill="#e57d32" stroke="#e57d32"/>
<path d="M629.4 217.6L633.6 223.2L563.9 262.9Z" fill="#e17a31" stroke="#e17a31"/>
<path d="M559.7 258.1L629.4 217.6L563.9 262.9Z" fill="#eb8034" stroke="#eb8034"/>
<path d="M463.8 341.3L559.7 258.1L563.9 262.9Z" fill="#e37c32" stroke="#e37c32"/>
<path d="M463.8 341.3L563.9 262.9L468.0 354.5Z" fill="#c66928" stroke="#c66928"/>
<path d="M463.8 341.3L468.0 354.5L393.9 435.2Z" fill="#c56728" stroke="#c56728"/>
<path d="M389.8 423.5L463.8 341.3L393.9 435.2Z" fill="#c96b29" stroke="#c96b29"/>
<path d="M350.5 454.2L389.8 423.5L393.9 435.2Z" fill="#c56828" stroke="#c56828"/>
<path d="M350.5 454.2L393.9 435.2L354.7 452.9Z" fill="#f1883b" stroke="#f1883b"/>
<path d="M350.5 454.2L354.7 452.9L306.8 472.5Z" fill="#f1893c" stroke="#f1893c"/>
<path d="M302.6 470.6L350.5 454.2L306.8 472.5Z" fill="#ed8235" stroke="#ed8235"/>
<path d="M259.1 487.7L302.6 470.6L306.8 472.5Z" fill="#ea8034" stroke="#ea8034"/>
<path d="M259.1 487.7L306.8 472.5L263.2 486.2Z" fill="#7a3f18" stroke="#7a3f18"/>
<path d="M698.9 186.7L703.1 187.2L637.8 221.0Z" fill="#f08537" stroke="#f08537"/>
<path d="M633.6 223.2L698.9 186.7L637.8 221.0Z" fill="#f28a3e" stroke="#f28a3e"/>
<path d="M563.9 262.9L633.6 223.2L637.8 221.0Z" fill="#f2893d" stroke="#f2893d"/>
<path d="M563.9 262.9L637.8 221.0L568.0 258.0Z" fill="#88471c" stroke="#88471c"/>
<path d="M563.9 262.9L568.0 258.0L472.2 344.5Z" fill="#7e421a" stroke="#7e421a"/>
<path d="M468.0 354.5L563.9 262.9L472.2 344.5Z" fill="#8f4b1e" stroke="#8f4b1e"/>
<path d="M393.9 435.2L468.0 354.5L472.2 344.5Z" fill="#8d4a1e" stroke="#8d4a1e"/>
<path d="M393.9 435.2L472.2 344.5L398.1 427.2Z" fill="#87461c" stroke="#87461c"/>
<path d="M393.9 435.2L398.1 427.2L358.9 450.9Z" fill="#914c1f" stroke="#914c1f"/>
<path d="M354.7 452.9L393.9 435.2L358.9 450.9Z" fill="#793e18" stroke="#793e18"/>
<path d="M306.8 472.5L354.7 452.9L358.9 450.9Z" fill="#7a3f19" stroke="#7a3f19"/>
<path d="M306.8 472.5L358.9 450.9L311.0 474.8Z" fill="#e17a31" stroke="#e17a31"/>
<path d="M306.8 472.5L311.0 474.8L267.4 488.8Z" fill="#e77e33" stroke="#e77e33"/>
<path d="M263.2 486.2L306.8 472.5L267.4 488.8Z" fill="#e37c32" stroke="#e37c32"/>
<path d="M637.8 221.0L703.1 187.2L707.3 191.0Z" fill="#df7930" stroke="#df7930"/>
<path d="M637.8 221.0L707.3 191.0L641.9 223.3Z" fill="#ef8335" stroke="#ef8335"/>
<path d="M637.8 221.0L641.9 223.3L572.2 256.7Z" fill="#ef8336" stroke="#ef8336"/>
<path d="M568.0 258.0L637.8 221.0L572.2 256.7Z" fill="#f2893c" stroke="#f2893c"/>
<path d="M472.2 344.5L568.0 258.0L572.2 256.7Z" fill="#ed8336" stroke="#ed8336"/>
<path d="M472.2 344.5L572.2 256.7L476.4 345.4Z" fill="#ef8335" stroke="#ef8335"/>
<path d="M472.2 344.5L476.4 345.4L402.3 420.0Z" fill="#e97f33" stroke="#e97f33"/>
<path d="M398.1 427.2L472.2 344.5L402.3 420.0Z" fill="#84451b" stroke="#84451b"/>
<path d="M358.9 450.9L398.1 427.2L402.3 420.0Z" fill="#8f4b1e" stroke="#8f4b1e"/>
<path d="M358.9 450.9L402.3 420.0L363.1 453.2Z" fill="#e47c32" stroke="#e47c32"/>
<path d="M358.9 450.9L363.1 453.2L315.2 475.9Z" fill="#e17a31" stroke="#e17a31"/>
<path d="M311.0 474.8L358.9 450.9L315.2 475.9Z" fill="#e97f33" stroke="#e97f33"/>
<path d="M267.4 488.8L311.0 474.8L315.2 475.9Z" fill="#ef8335" stroke="#ef8335"/>
<path d="M267.4 488.8L315.2 475.9L271.6 488.6Z" fill="#f08638" stroke="#f08638"/>
<path d="M707.3 191.0L711.5 200.6L646.1 230.6Z" fill="#d6722d" stroke="#d6722d"/>
<path d="M641.9 223.3L707.3 191.0L646.1 230.6Z" fill="#dd772f" stroke="#dd772f"/>
<path d="M572.2 256.7L641.9 223.3L646.1 230.6Z" fill="#dc772f" stroke="#dc772f"/>
<path d="M572.2 256.7L646.1 230.6L576.4 271.9Z" fill="#cc6c2a" stroke="#cc6c2a"/>
<path d="M572.2 256.7L576.4 271.9L480.6 355.7Z" fill="#c86a29" stroke="#c86a29"/>
<path d="M476.4 345.4L572.2 256.7L480.6 355.7Z" fill="#d1702c" stroke="#d1702c"/>
<path d="M402.3 420.0L476.4 345.4L480.6 355.7Z" fill="#cc6c2a" stroke="#cc6c2a"/>
<path d="M402.3 420.0L480.6 355.7L406.5 425.7Z" fill="#d4712d" stroke="#d4712d"/>
<path d="M402.3 420.0L406.5 425.7L367.3 455.1Z" fill="#d06f2b" stroke="#d06f2b"/>
<path d="M363.1 453.2L402.3 420.0L367.3 455.1Z" fill="#e87f33" stroke="#e87f33"/>
<path d="M315.2 475.9L363.1 453.2L367.3 455.1Z" fill="#e67d33" stroke="#e67d33"/>
<path d="M315.2 475.9L367.3 455.1L319.4 473.7Z" fill="#7c4019" stroke="#7c4019"/>
<path d="M315.2 475.9L319.4 473.7L275.8 489.3Z" fill="#7d4119" stroke="#7d4119"/>
<path d="M271.6 488.6L315.2 475.9L275.8 489.3Z" fill="#ed8235" stroke="#ed8235"/>
<path d="M646.1 230.6L711.5 200.6L715.7 199.2Z" fill="#f48e42" stroke="#f48e42"/>
<path d="M646.1 230.6L715.7 199.2L650.3 231.8Z" fill="#f08638" stroke="#f08638"/>
<path d="M646.1 230.6L650.3 231.8L580.6 267.4Z" fill="#ee8335" stroke="#ee8335"/>
<path d="M576.4 271.9L646.1 230.6L580.6 267.4Z" fill="#85451c" stroke="#85451c"/>
<path d="M480.6 355.7L576.4 271.9L580.6 267.4Z" fill="#7e411a" stroke="#7e411a"/>
<path d="M480.6 355.7L580.6 267.4L484.7 341.8Z" fill="#985021" stroke="#985021"/>
<path d="M480.6 355.7L484.7 341.8L410.7 421.8Z" fill="#944e20" stroke="#944e20"/>
<path d="M406.5 425.7L480.6 355.7L410.7 421.8Z" fill="#783e18" stroke="#783e18"/>
<path d="M367.3 455.1L406.5 425.7L410.7 421.8Z" fill="#7d4119" stroke="#7d4119"/>
<path d="M367.3 455.1L410.7 421.8L371.5 453.2Z" fill="#ea8033" stroke="#ea8033"/>
<path d="M367.3 455.1L371.5 453.2L323.5 474.4Z" fill="#783e18" stroke="#783e18"/>
<path d="M319.4 473.7L367.3 455.1L323.5 474.4Z" fill="#ea8034" stroke="#ea8034"/>
<path d="M275.8 489.3L319.4 473.7L323.5 474.4Z" fill="#ea8034" stroke="#ea8034"/>
<path d="M275.8 489.3L323.5 474.4L280.0 492.0Z" fill="#de7830" stroke="#de7830"/>
<path d="M715.7 199.2L719.8 204.1L654.5 232.0Z" fill="#e57d32" stroke="#e57d32"/>
<path d="M650.3 231.8L715.7 199.2L654.5 232.0Z" fill="#f28a3e" stroke="#f28a3e"/>
<path d="M580.6 267.4L650.3 231.8L654.5 232.0Z" fill="#f1883b" stroke="#f1883b"/>
<path d="M580.6 267.4L654.5 232.0L584.8 269.6Z" fill="#ef8436" stroke="#ef8436"/>
<path d="M580.6 267.4L584.8 269.6L488.9 343.3Z" fill="#ee8235" stroke="#ee8235"/>
<path d="M484.7 341.8L580.6 267.4L488.9 343.3Z" fill="#e97f34" stroke="#e97f34"/>
<path d="M410.7 421.8L484.7 341.8L488.9 343.3Z" fill="#e07930" stroke="#e07930"/>
<path d="M410.7 421.8L488.9 343.3L414.9 418.6Z" fill="#f0883c" stroke="#f0883c"/>
<path d="M410.7 421.8L414.9 418.6L375.6 450.6Z" fill="#ef8639" stroke="#ef8639"/>
<path d="M371.5 453.2L410.7 421.8L375.6 450.6Z" fill="#ec8336" stroke="#ec8336"/>
<path d="M323.5 474.4L371.5 453.2L375.6 450.6Z" fill="#7e4119" stroke="#7e4119"/>
<path d="M323.5 474.4L375.6 450.6L327.7 474.3Z" fill="#f18739" stroke="#f18739"/>
<path d="M323.5 474.4L327.7 474.3L284.1 492.8Z" fill="#f08639" stroke="#f08639"/>
<path d="M280.0 492.0L323.5 474.4L284.1 492.8Z" fill="#ee8335" stroke="#ee8335"/>
<path d="M654.5 232.0L719.8 204.1L724.0 209.9Z" fill="#e27b31" stroke="#e27b31"/>
<path d="M654.5 232.0L724.0 209.9L658.7 242.3Z" fill="#d16f2c" stroke="#d16f2c"/>
<path d="M654.5 232.0L658.7 242.3L589.0 281.1Z" fill="#cf6e2b" stroke="#cf6e2b"/>
<path d="M584.8 269.6L654.5 232.0L589.0 281.1Z" fill="#d2702c" stroke="#d2702c"/>
<path d="M488.9 343.3L584.8 269.6L589.0 281.1Z" fill="#d16f2c" stroke="#d16f2c"/>
<path d="M488.9 343.3L589.0 281.1L493.1 354.1Z" fill="#cc6d2a" stroke="#cc6d2a"/>
<path d="M488.9 343.3L493.1 354.1L419.0 421.9Z" fill="#cd6d2a" stroke="#cd6d2a"/>
<path d="M414.9 418.6L488.9 343.3L419.0 421.9Z" fill="#e57d32" stroke="#e57d32"/>
<path d="M375.6 450.6L414.9 418.6L419.0 421.9Z" fill="#e07931" stroke="#e07931"/>
<path d="M375.6 450.6L419.0 421.9L379.8 456.5Z" fill="#d4722d" stroke="#d4722d"/>
<path d="M375.6 450.6L379.8 456.5L331.9 479.3Z" fill="#d4722d" stroke="#d4722d"/>
<path d="M327.7 474.3L375.6 450.6L331.9 479.3Z" fill="#d8742e" stroke="#d8742e"/>
<path d="M284.1 492.8L327.7 474.3L331.9 479.3Z" fill="#d8742e" stroke="#d8742e"/>
<path d="M284.1 492.8L331.9 479.3L288.3 493.3Z" fill="#f18639" stroke="#f18639"/>
<path d="M724.0 209.9L728.2 207.9L662.9 236.4Z" fill="#793f18" stroke="#793f18"/>
<path d="M658.7 242.3L724.0 209.9L662.9 236.4Z" fill="#8d4a1e" stroke="#8d4a1e"/>
<path d="M589.0 281.1L658.7 242.3L662.9 236.4Z" fill="#8c491d" stroke="#8c491d"/>
<path d="M589.0 281.1L662.9 236.4L593.1 268.8Z" fill="#9b5221" stroke="#9b5221"/>
<path d="M589.0 281.1L593.1 268.8L497.3 346.6Z" fill="#964f20" stroke="#964f20"/>
<path d="M493.1 354.1L589.0 281.1L497.3 346.6Z" fill="#8c4a1e" stroke="#8c4a1e"/>
<path d="M419.0 421.9L493.1 354.1L497.3 346.6Z" fill="#89481d" stroke="#89481d"/>
<path d="M419.0 421.9L497.3 346.6L423.2 421.1Z" fill="#f1893d" stroke="#f1893d"/>
<path d="M419.0 421.9L423.2 421.1L384.0 455.8Z" fill="#f28a3e" stroke="#f28a3e"/>
<path d="M379.8 456.5L419.0 421.9L384.0 455.8Z" fill="#f2893d" stroke="#f2893d"/>
<path d="M331.9 479.3L379.8 456.5L384.0 455.8Z" fill="#f38b3e" stroke="#f38b3e"/>
<path d="M331.9 479.3L384.0 455.8L336.1 478.5Z" fill="#f2893d" stroke="#f2893d"/>
<path d="M331.9 479.3L336.1 478.5L292.5 493.7Z" fill="#f1893c" stroke="#f1893c"/>
<path d="M288.3 493.3L331.9 479.3L292.5 493.7Z" fill="#f08639" stroke="#f08639"/>
<path d="M662.9 236.4L728.2 207.9L732.4 221.6Z" fill="#c86a29" stroke="#c86a29"/>
<path d="M662.9 236.4L732.4 221.6L667.0 251.2Z" fill="#c96a29" stroke="#c96a29"/>
<path d="M662.9 236.4L667.0 251.2L597.3 276.7Z" fill="#d06f2b" stroke="#d06f2b"/>
<path d="M593.1 268.8L662.9 236.4L597.3 276.7Z" fill="#d9752e" stroke="#d9752e"/>
<path d="M497.3 346.6L593.1 268.8L597.3 276.7Z" fill="#d6732d" stroke="#d6732d"/>
<path d="M497.3 346.6L597.3 276.7L501.5 351.6Z" fill="#e67e32" stroke="#e67e32"/>
<path d="M497.3 346.6L501.5 351.6L427.4 432.1Z" fill="#de7830" stroke="#de7830"/>
<path d="M423.2 421.1L497.3 346.6L427.4 432.1Z" fill="#ca6b29" stroke="#ca6b29"/>
<path d="M384.0 455.8L423.2 421.1L427.4 432.1Z" fill="#ca6b2a" stroke="#ca6b2a"/>
<path d="M384.0 455.8L427.4 432.1L388.2 460.0Z" fill="#df7930" stroke="#df7930"/>
<path d="M384.0 455.8L388.2 460.0L340.3 480.0Z" fill="#dc772f" stroke="#dc772f"/>
<path d="M336.1 478.5L384.0 455.8L340.3 480.0Z" fill="#ed8235" stroke="#ed8235"/>
<path d="M292.5 493.7L336.1 478.5L340.3 480.0Z" fill="#eb8134" stroke="#eb8134"/>
<path d="M292.5 493.7L340.3 480.0L296.7 496.4Z" fill="#e37c32" stroke="#e37c32"/>
<path d="M732.4 221.6L736.6 221.2L671.2 250.8Z" fill="#f48e43" stroke="#f48e43"/>
<path d="M667.0 251.2L732.4 221.6L671.2 250.8Z" fill="#f48f44" stroke="#f48f44"/>
<path d="M597.3 276.7L667.0 251.2L671.2 250.8Z" fill="#f59247" stroke="#f59247"/>
<path d="M597.3 276.7L671.2 250.8L601.5 284.3Z" fill="#e07930" stroke="#e07930"/>
<path d="M597.3 276.7L601.5 284.3L505.7 356.4Z" fill="#dc772f" stroke="#dc772f"/>
<path d="M501.5 351.6L597.3 276.7L505.7 356.4Z" fill="#e67d32" stroke="#e67d32"/>
<path d="M427.4 432.1L501.5 351.6L505.7 356.4Z" fill="#dd7730" stroke="#dd7730"/>
<path d="M427.4 432.1L505.7 356.4L431.6 420.8Z" fill="#934e1f" stroke="#934e1f"/>
<path d="M427.4 432.1L431.6 420.8L392.4 459.1Z" fill="#924d1f" stroke="#924d1f"/>
<path d="M388.2 460.0L427.4 432.1L392.4 459.1Z" fill="#ef8437" stroke="#ef8437"/>
<path d="M340.3 480.0L388.2 460.0L392.4 459.1Z" fill="#ef8437" stroke="#ef8437"/>
<path d="M340.3 480.0L392.4 459.1L344.4 480.4Z" fill="#e87e33" stroke="#e87e33"/>
<path d="M340.3 480.0L344.4 480.4L300.9 496.4Z" fill="#ef8336" stroke="#ef8336"/>
<path d="M296.7 496.4L340.3 480.0L300.9 496.4Z" fill="#f08639" stroke="#f08639"/>
<path d="M671.2 250.8L736.6 221.2L740.8 229.5Z" fill="#dd772f" stroke="#dd772f"/>
<path d="M671.2 250.8L740.8 229.5L675.4 255.8Z" fill="#ea8135" stroke="#ea8135"/>
<path d="M671.2 250.8L675.4 255.8L605.7 290.6Z" fill="#ea8034" stroke="#ea8034"/>
<path d="M601.5 284.3L671.2 250.8L605.7 290.6Z" fill="#e67d32" stroke="#e67d32"/>
<path d="M505.7 356.4L601.5 284.3L605.7 290.6Z" fill="#e27b31" stroke="#e27b31"/>
<path d="M505.7 356.4L605.7 290.6L509.8 350.1Z" fill="#8c491d" stroke="#8c491d"/>
<path d="M505.7 356.4L509.8 350.1L435.8 417.0Z" fill="#85461c" stroke="#85461c"/>
<path d="M431.6 420.8L505.7 356.4L435.8 417.0Z" fill="#793f18" stroke="#793f18"/>
<path d="M392.4 459.1L431.6 420.8L435.8 417.0Z" fill="#e98034" stroke="#e98034"/>
<path d="M392.4 459.1L435.8 417.0L396.6 452.5Z" fill="#86461c" stroke="#86461c"/>
<path d="M392.4 459.1L396.6 452.5L348.6 479.1Z" fill="#8e4b1e" stroke="#8e4b1e"/>
<path d="M344.4 480.4L392.4 459.1L348.6 479.1Z" fill="#ec8235" stroke="#ec8235"/>
<path d="M300.9 496.4L344.4 480.4L348.6 479.1Z" fill="#ef8639" stroke="#ef8639"/>
<path d="M300.9 496.4L348.6 479.1L305.1 497.3Z" fill="#ea8034" stroke="#ea8034"/>
<path d="M740.8 229.5L744.9 250.6L679.6 275.8Z" fill="#ce6e2b" stroke="#ce6e2b"/>
<path d="M675.4 255.8L740.8 229.5L679.6 275.8Z" fill="#d4712c" stroke="#d4712c"/>
<path d="M605.7 290.6L675.4 255.8L679.6 275.8Z" fill="#d4712c" stroke="#d4712c"/>
<path d="M605.7 290.6L679.6 275.8L609.9 305.6Z" fill="#d1702c" stroke="#d1702c"/>
<path d="M605.7 290.6L609.9 305.6L514.0 368.2Z" fill="#d2702c" stroke="#d2702c"/>
<path d="M509.8 350.1L605.7 290.6L514.0 368.2Z" fill="#d06f2b" stroke="#d06f2b"/>
<path d="M435.8 417.0L509.8 350.1L514.0 368.2Z" fill="#c26527" stroke="#c26527"/>
<path d="M435.8 417.0L514.0 368.2L439.9 426.3Z" fill="#cc6d2a" stroke="#cc6d2a"/>
<path d="M435.8 417.0L439.9 426.3L400.7 458.0Z" fill="#cf6e2b" stroke="#cf6e2b"/>
<path d="M396.6 452.5L435.8 417.0L400.7 458.0Z" fill="#d8742e" stroke="#d8742e"/>
<path d="M348.6 479.1L396.6 452.5L400.7 458.0Z" fill="#d4712d" stroke="#d4712d"/>
<path d="M348.6 479.1L400.7 458.0L352.8 480.1Z" fill="#f08538" stroke="#f08538"/>
<path d="M348.6 479.1L352.8 480.1L309.2 498.1Z" fill="#ed8235" stroke="#ed8235"/>
<path d="M305.1 497.3L348.6 479.1L309.2 498.1Z" fill="#ee8235" stroke="#ee8235"/>
<path d="M679.6 275.8L744.9 250.6L749.1 243.7Z" fill="#934d1f" stroke="#934d1f"/>
<path d="M679.6 275.8L749.1 243.7L683.8 269.3Z" fill="#914c1f" stroke="#914c1f"/>
<path d="M679.6 275.8L683.8 269.3L614.1 294.6Z" fill="#924d1f" stroke="#924d1f"/>
<path d="M609.9 305.6L679.6 275.8L614.1 294.6Z" fill="#9a5121" stroke="#9a5121"/>
<path d="M514.0 368.2L609.9 305.6L614.1 294.6Z" fill="#964f20" stroke="#964f20"/>
<path d="M514.0 368.2L614.1 294.6L518.2 365.2Z" fill="#eb8235" stroke="#eb8235"/>
<path d="M514.0 368.2L518.2 365.2L444.1 423.7Z" fill="#ee8539" stroke="#ee8539"/>
<path d="M439.9 426.3L514.0 368.2L444.1 423.7Z" fill="#f28a3e" stroke="#f28a3e"/>
<path d="M400.7 458.0L439.9 426.3L444.1 423.7Z" fill="#f38c40" stroke="#f38c40"/>
<path d="M400.7 458.0L444.1 423.7L404.9 461.9Z" fill="#da762f" stroke="#da762f"/>
<path d="M400.7 458.0L404.9 461.9L357.0 481.3Z" fill="#e07931" stroke="#e07931"/>
<path d="M352.8 480.1L400.7 458.0L357.0 481.3Z" fill="#f08538" stroke="#f08538"/>
<path d="M309.2 498.1L352.8 480.1L357.0 481.3Z" fill="#ee8335" stroke="#ee8335"/>
<path d="M309.2 498.1L357.0 481.3L313.4 500.0Z" fill="#e87f33" stroke="#e87f33"/>
<path d="M749.1 243.7L753.3 240.5L687.9 271.7Z" fill="#80431a" stroke="#80431a"/>
<path d="M683.8 269.3L749.1 243.7L687.9 271.7Z" fill="#e57d32" stroke="#e57d32"/>
<path d="M614.1 294.6L683.8 269.3L687.9 271.7Z" fill="#e07a31" stroke="#e07a31"/>
<path d="M614.1 294.6L687.9 271.7L618.2 295.6Z" fill="#f08537" stroke="#f08537"/>
<path d="M614.1 294.6L618.2 295.6L522.4 357.4Z" fill="#ed8235" stroke="#ed8235"/>
<path d="M518.2 365.2L614.1 294.6L522.4 357.4Z" fill="#8e4a1e" stroke="#8e4a1e"/>
<path d="M444.1 423.7L518.2 365.2L522.4 357.4Z" fill="#8d4a1e" stroke="#8d4a1e"/>
<path d="M444.1 423.7L522.4 357.4L448.3 427.2Z" fill="#e07931" stroke="#e07931"/>
<path d="M444.1 423.7L448.3 427.2L409.1 457.7Z" fill="#df7830" stroke="#df7830"/>
<path d="M404.9 461.9L444.1 423.7L409.1 457.7Z" fill="#783e18" stroke="#783e18"/>
<path d="M357.0 481.3L404.9 461.9L409.1 457.7Z" fill="#88471c" stroke="#88471c"/>
<path d="M357.0 481.3L409.1 457.7L361.2 482.2Z" fill="#f08538" stroke="#f08538"/>
<path d="M357.0 481.3L361.2 482.2L317.6 499.5Z" fill="#f08537" stroke="#f08537"/>
<path d="M313.4 500.0L357.0 481.3L317.6 499.5Z" fill="#f1873a" stroke="#f1873a"/>
<path d="M687.9 271.7L753.3 240.5L757.5 248.8Z" fill="#d2702c" stroke="#d2702c"/>
<path d="M687.9 271.7L757.5 248.8L692.1 279.2Z" fill="#d2702c" stroke="#d2702c"/>
<path d="M687.9 271.7L692.1 279.2L622.4 305.3Z" fill="#d2702c" stroke="#d2702c"/>
<path d="M618.2 295.6L687.9 271.7L622.4 305.3Z" fill="#d1702c" stroke="#d1702c"/>
<path d="M522.4 357.4L618.2 295.6L622.4 305.3Z" fill="#cf6e2b" stroke="#cf6e2b"/>
<path d="M522.4 357.4L622.4 305.3L526.6 371.0Z" fill="#c46728" stroke="#c46728"/>
<path d="M522.4 357.4L526.6 371.0L452.5 429.9Z" fill="#c36627" stroke="#c36627"/>
<path d="M448.3 427.2L522.4 357.4L452.5 429.9Z" fill="#e97f33" stroke="#e97f33"/>
<path d="M409.1 457.7L448.3 427.2L452.5 429.9Z" fill="#e87e33" stroke="#e87e33"/>
<path d="M409.1 457.7L452.5 429.9L413.3 462.8Z" fill="#d6732d" stroke="#d6732d"/>
<path d="M409.1 457.7L413.3 462.8L365.4 486.5Z" fill="#d8742e" stroke="#d8742e"/>
<path d="M361.2 482.2L409.1 457.7L365.4 486.5Z" fill="#dd7830" stroke="#dd7830"/>
<path d="M317.6 499.5L361.2 482.2L365.4 486.5Z" fill="#dc772f" stroke="#dc772f"/>
<path d="M317.6 499.5L365.4 486.5L321.8 500.8Z" fill="#ef8436" stroke="#ef8436"/>
<path d="M757.5 248.8L761.7 233.9L696.3 259.7Z" fill="#9e5422" stroke="#9e5422"/>
<path d="M692.1 279.2L757.5 248.8L696.3 259.7Z" fill="#a05523" stroke="#a05523"/>
<path d="M622.4 305.3L692.1 279.2L696.3 259.7Z" fill="#a15523" stroke="#a15523"/>
<path d="M622.4 305.3L696.3 259.7L626.6 301.0Z" fill="#84451b" stroke="#84451b"/>
<path d="M622.4 305.3L626.6 301.0L530.7 356.9Z" fill="#84451b" stroke="#84451b"/>
<path d="M526.6 371.0L622.4 305.3L530.7 356.9Z" fill="#9a5121" stroke="#9a5121"/>
<path d="M452.5 429.9L526.6 371.0L530.7 356.9Z" fill="#985021" stroke="#985021"/>
<path d="M452.5 429.9L530.7 356.9L456.7 426.4Z" fill="#eb8236" stroke="#eb8236"/>
<path d="M452.5 429.9L456.7 426.4L417.5 461.1Z" fill="#f1893c" stroke="#f1893c"/>
<path d="M413.3 462.8L452.5 429.9L417.5 461.1Z" fill="#f1883b" stroke="#f1883b"/>
<path d="M365.4 486.5L413.3 462.8L417.5 461.1Z" fill="#f28a3d" stroke="#f28a3d"/>
<path d="M365.4 486.5L417.5 461.1L369.5 484.2Z" fill="#7a3f19" stroke="#7a3f19"/>
<path d="M365.4 486.5L369.5 484.2L326.0 502.1Z" fill="#7c4019" stroke="#7c4019"/>
<path d="M321.8 500.8L365.4 486.5L326.0 502.1Z" fill="#ee8335" stroke="#ee8335"/>
<path d="M696.3 259.7L761.7 233.9L765.9 225.8Z" fill="#964f20" stroke="#964f20"/>
<path d="M696.3 259.7L765.9 225.8L700.5 251.5Z" fill="#964f20" stroke="#964f20"/>
<path d="M696.3 259.7L700.5 251.5L630.8 288.2Z" fill="#934d1f" stroke="#934d1f"/>
<path d="M626.6 301.0L696.3 259.7L630.8 288.2Z" fill="#995121" stroke="#995121"/>
<path d="M530.7 356.9L626.6 301.0L630.8 288.2Z" fill="#9a5121" stroke="#9a5121"/>
<path d="M530.7 356.9L630.8 288.2L534.9 354.6Z" fill="#ec8236" stroke="#ec8236"/>
<path d="M530.7 356.9L534.9 354.6L460.9 428.7Z" fill="#eb8134" stroke="#eb8134"/>
<path d="M456.7 426.4L530.7 356.9L460.9 428.7Z" fill="#d4712c" stroke="#d4712c"/>
<path d="M417.5 461.1L456.7 426.4L460.9 428.7Z" fill="#de7830" stroke="#de7830"/>
<path d="M417.5 461.1L460.9 428.7L421.6 464.5Z" fill="#d6732d" stroke="#d6732d"/>
<path d="M417.5 461.1L421.6 464.5L373.7 486.1Z" fill="#db762f" stroke="#db762f"/>
<path d="M369.5 484.2L417.5 461.1L373.7 486.1Z" fill="#e67d33" stroke="#e67d33"/>
<path d="M326.0 502.1L369.5 484.2L373.7 486.1Z" fill="#e77e33" stroke="#e77e33"/>
<path d="M326.0 502.1L373.7 486.1L330.2 504.3Z" fill="#e67e33" stroke="#e67e33"/>
<path d="M765.9 225.8L770.0 228.2L704.7 259.5Z" fill="#ef883c" stroke="#ef883c"/>
<path d="M700.5 251.5L765.9 225.8L704.7 259.5Z" fill="#da752f" stroke="#da752f"/>
<path d="M630.8 288.2L700.5 251.5L704.7 259.5Z" fill="#d7732d" stroke="#d7732d"/>
<path d="M630.8 288.2L704.7 259.5L635.0 292.6Z" fill="#eb8134" stroke="#eb8134"/>
<path d="M630.8 288.2L635.0 292.6L539.1 359.3Z" fill="#e37b31" stroke="#e37b31"/>
<path d="M534.9 354.6L630.8 288.2L539.1 359.3Z" fill="#da762f" stroke="#da762f"/>
<path d="M460.9 428.7L534.9 354.6L539.1 359.3Z" fill="#d8742e" stroke="#d8742e"/>
<path d="M460.9 428.7L539.1 359.3L465.0 423.6Z" fill="#80431a" stroke="#80431a"/>
<path d="M460.9 428.7L465.0 423.6L425.8 457.6Z" fill="#80431a" stroke="#80431a"/>
<path d="M421.6 464.5L460.9 428.7L425.8 457.6Z" fill="#87471c" stroke="#87471c"/>
<path d="M373.7 486.1L421.6 464.5L425.8 457.6Z" fill="#924d1f" stroke="#924d1f"/>
<path d="M373.7 486.1L425.8 457.6L377.9 487.3Z" fill="#e17a31" stroke="#e17a31"/>
<path d="M373.7 486.1L377.9 487.3L334.3 504.7Z" fill="#e77e33" stroke="#e77e33"/>
<path d="M330.2 504.3L373.7 486.1L334.3 504.7Z" fill="#ef8336" stroke="#ef8336"/>
<path d="M704.7 259.5L770.0 228.2L774.2 239.4Z" fill="#db762e" stroke="#db762e"/>
<path d="M704.7 259.5L774.2 239.4L708.9 271.8Z" fill="#d6732d" stroke="#d6732d"/>
<path d="M704.7 259.5L708.9 271.8L639.1 300.6Z" fill="#d3712c" stroke="#d3712c"/>
<path d="M635.0 292.6L704.7 259.5L639.1 300.6Z" fill="#de7830" stroke="#de7830"/>
<path d="M539.1 359.3L635.0 292.6L639.1 300.6Z" fill="#d7732e" stroke="#d7732e"/>
<path d="M539.1 359.3L639.1 300.6L543.3 364.1Z" fill="#dd7830" stroke="#dd7830"/>
<path d="M539.1 359.3L543.3 364.1L469.2 421.9Z" fill="#dd7730" stroke="#dd7730"/>
<path d="M465.0 423.6L539.1 359.3L469.2 421.9Z" fill="#f28a3e" stroke="#f28a3e"/>
<path d="M425.8 457.6L465.0 423.6L469.2 421.9Z" fill="#ec8235" stroke="#ec8235"/>
<path d="M425.8 457.6L469.2 421.9L430.0 457.4Z" fill="#ee8335" stroke="#ee8335"/>
<path d="M425.8 457.6L430.0 457.4L382.1 483.0Z" fill="#ee8336" stroke="#ee8336"/>
<path d="M377.9 487.3L425.8 457.6L382.1 483.0Z" fill="#83441b" stroke="#83441b"/>
<path d="M334.3 504.7L377.9 487.3L382.1 483.0Z" fill="#89471d" stroke="#89471d"/>
<path d="M334.3 504.7L382.1 483.0L338.5 501.5Z" fill="#82441b" stroke="#82441b"/>
<path d="M774.2 239.4L778.4 238.6L713.0 267.6Z" fill="#f38c40" stroke="#f38c40"/>
<path d="M708.9 271.8L774.2 239.4L713.0 267.6Z" fill="#86461c" stroke="#86461c"/>
<path d="M639.1 300.6L708.9 271.8L713.0 267.6Z" fill="#88471c" stroke="#88471c"/>
<path d="M639.1 300.6L713.0 267.6L643.3 298.6Z" fill="#793e18" stroke="#793e18"/>
<path d="M639.1 300.6L643.3 298.6L547.5 360.5Z" fill="#f48d41" stroke="#f48d41"/>
<path d="M543.3 364.1L639.1 300.6L547.5 360.5Z" fill="#7e411a" stroke="#7e411a"/>
<path d="M469.2 421.9L543.3 364.1L547.5 360.5Z" fill="#7a3f19" stroke="#7a3f19"/>
<path d="M469.2 421.9L547.5 360.5L473.4 427.9Z" fill="#d3712c" stroke="#d3712c"/>
<path d="M469.2 421.9L473.4 427.9L434.2 461.9Z" fill="#d8742e" stroke="#d8742e"/>
<path d="M430.0 457.4L469.2 421.9L434.2 461.9Z" fill="#e07a31" stroke="#e07a31"/>
<path d="M382.1 483.0L430.0 457.4L434.2 461.9Z" fill="#e07931" stroke="#e07931"/>
<path d="M382.1 483.0L434.2 461.9L386.3 488.6Z" fill="#dc772f" stroke="#dc772f"/>
<path d="M382.1 483.0L386.3 488.6L342.7 505.5Z" fill="#da762f" stroke="#da762f"/>
<path d="M338.5 501.5L382.1 483.0L342.7 505.5Z" fill="#df7930" stroke="#df7930"/>
<path d="M713.0 267.6L778.4 238.6L782.6 247.4Z" fill="#c86a29" stroke="#c86a29"/>
<path d="M713.0 267.6L782.6 247.4L717.2 272.6Z" fill="#d2702c" stroke="#d2702c"/>
<path d="M713.0 267.6L717.2 272.6L647.5 308.6Z" fill="#d2702c" stroke="#d2702c"/>
<path d="M643.3 298.6L713.0 267.6L647.5 308.6Z" fill="#c66828" stroke="#c66828"/>
<path d="M547.5 360.5L643.3 298.6L647.5 308.6Z" fill="#c76928" stroke="#c76928"/>
<path d="M547.5 360.5L647.5 308.6L551.7 371.7Z" fill="#c26627" stroke="#c26627"/>
<path d="M547.5 360.5L551.7 371.7L477.6 422.3Z" fill="#ba6124" stroke="#ba6124"/>
<path d="M473.4 427.9L547.5 360.5L477.6 422.3Z" fill="#82441b" stroke="#82441b"/>
<path d="M434.2 461.9L473.4 427.9L477.6 422.3Z" fill="#83441b" stroke="#83441b"/>
<path d="M434.2 461.9L477.6 422.3L438.4 467.1Z" fill="#d06f2b" stroke="#d06f2b"/>
<path d="M434.2 461.9L438.4 467.1L390.4 490.2Z" fill="#d4722d" stroke="#d4722d"/>
<path d="M386.3 488.6L434.2 461.9L390.4 490.2Z" fill="#f08436" stroke="#f08436"/>
<path d="M342.7 505.5L386.3 488.6L390.4 490.2Z" fill="#ee8235" stroke="#ee8235"/>
<path d="M342.7 505.5L390.4 490.2L346.9 508.1Z" fill="#df7930" stroke="#df7930"/>
<path d="M782.6 247.4L786.8 236.4L721.4 261.2Z" fill="#9a5221" stroke="#9a5221"/>
<path d="M717.2 272.6L782.6 247.4L721.4 261.2Z" fill="#9b5221" stroke="#9b5221"/>
<path d="M647.5 308.6L717.2 272.6L721.4 261.2Z" fill="#995121" stroke="#995121"/>
<path d="M647.5 308.6L721.4 261.2L651.7 301.5Z" fill="#8f4b1e" stroke="#8f4b1e"/>
<path d="M647.5 308.6L651.7 301.5L555.8 351.8Z" fill="#904c1f" stroke="#904c1f"/>
<path d="M551.7 371.7L647.5 308.6L555.8 351.8Z" fill="#9e5422" stroke="#9e5422"/>
<path d="M477.6 422.3L551.7 371.7L555.8 351.8Z" fill="#9e5422" stroke="#9e5422"/>
<path d="M477.6 422.3L555.8 351.8L481.8 418.2Z" fill="#7a3f19" stroke="#7a3f19"/>
<path d="M477.6 422.3L481.8 418.2L442.6 457.1Z" fill="#e1792f" stroke="#e1792f"/>
<path d="M438.4 467.1L477.6 422.3L442.6 457.1Z" fill="#8c491d" stroke="#8c491d"/>
<path d="M390.4 490.2L438.4 467.1L442.6 457.1Z" fill="#975021" stroke="#975021"/>
<path d="M390.4 490.2L442.6 457.1L394.6 484.5Z" fill="#8b491d" stroke="#8b491d"/>
<path d="M390.4 490.2L394.6 484.5L351.1 500.1Z" fill="#904c1e" stroke="#904c1e"/>
<path d="M346.9 508.1L390.4 490.2L351.1 500.1Z" fill="#954e20" stroke="#954e20"/>
<path d="M721.4 261.2L786.8 236.4L790.9 236.3Z" fill="#e67d32" stroke="#e67d32"/>
<path d="M721.4 261.2L790.9 236.3L725.6 262.9Z" fill="#e87e33" stroke="#e87e33"/>
<path d="M721.4 261.2L725.6 262.9L655.9 293.2Z" fill="#e77e33" stroke="#e77e33"/>
<path d="M651.7 301.5L721.4 261.2L655.9 293.2Z" fill="#934d1f" stroke="#934d1f"/>
<path d="M555.8 351.8L651.7 301.5L655.9 293.2Z" fill="#944e1f" stroke="#944e1f"/>
<path d="M555.8 351.8L655.9 293.2L560.0 350.7Z" fill="#ee8336" stroke="#ee8336"/>
<path d="M555.8 351.8L560.0 350.7L486.0 408.5Z" fill="#ea7f33" stroke="#ea7f33"/>
<path d="M481.8 418.2L555.8 351.8L486.0 408.5Z" fill="#904b1e" stroke="#904b1e"/>
<path d="M442.6 457.1L481.8 418.2L486.0 408.5Z" fill="#8e4b1e" stroke="#8e4b1e"/>
<path d="M442.6 457.1L486.0 408.5L446.7 450.7Z" fill="#82441b" stroke="#82441b"/>
<path d="M442.6 457.1L446.7 450.7L398.8 479.6Z" fill="#8c4a1e" stroke="#8c4a1e"/>
<path d="M394.6 484.5L442.6 457.1L398.8 479.6Z" fill="#87471c" stroke="#87471c"/>
<path d="M351.1 500.1L394.6 484.5L398.8 479.6Z" fill="#8c4a1e" stroke="#8c4a1e"/>
<path d="M351.1 500.1L398.8 479.6L355.2 495.7Z" fill="#8a481d" stroke="#8a481d"/>
<path d="M790.9 236.3L795.1 248.8L729.8 274.7Z" fill="#de772e" stroke="#de772e"/>
<path d="M725.6 262.9L790.9 236.3L729.8 274.7Z" fill="#dd772e" stroke="#dd772e"/>
<path d="M655.9 293.2L725.6 262.9L729.8 274.7Z" fill="#dc762e" stroke="#dc762e"/>
<path d="M655.9 293.2L729.8 274.7L660.1 301.4Z" fill="#e47b30" stroke="#e47b30"/>
<path d="M655.9 293.2L660.1 301.4L564.2 365.3Z" fill="#e37b30" stroke="#e37b30"/>
<path d="M560.0 350.7L655.9 293.2L564.2 365.3Z" fill="#d7732d" stroke="#d7732d"/>
<path d="M486.0 408.5L560.0 350.7L564.2 365.3Z" fill="#d5722d" stroke="#d5722d"/>
<path d="M486.0 408.5L564.2 365.3L490.1 412.4Z" fill="#ec8539" stroke="#ec8539"/>
<path d="M486.0 408.5L490.1 412.4L450.9 456.4Z" fill="#e37b32" stroke="#e37b32"/>
<path d="M446.7 450.7L486.0 408.5L450.9 456.4Z" fill="#d1702c" stroke="#d1702c"/>
<path d="M398.8 479.6L446.7 450.7L450.9 456.4Z" fill="#ca6b2a" stroke="#ca6b2a"/>
<path d="M398.8 479.6L450.9 456.4L403.0 479.5Z" fill="#ec8134" stroke="#ec8134"/>
<path d="M398.8 479.6L403.0 479.5L359.4 495.4Z" fill="#e37b31" stroke="#e37b31"/>
<path d="M355.2 495.7L398.8 479.6L359.4 495.4Z" fill="#e47c31" stroke="#e47c31"/>
<path d="M729.8 274.7L795.1 248.8L799.3 268.0Z" fill="#da742d" stroke="#da742d"/>
<path d="M729.8 274.7L799.3 268.0L734.0 296.0Z" fill="#d7732d" stroke="#d7732d"/>
<path d="M729.8 274.7L734.0 296.0L664.2 321.6Z" fill="#d5722c" stroke="#d5722c"/>
<path d="M660.1 301.4L729.8 274.7L664.2 321.6Z" fill="#d9742d" stroke="#d9742d"/>
<path d="M564.2 365.3L660.1 301.4L664.2 321.6Z" fill="#d8742d" stroke="#d8742d"/>
<path d="M564.2 365.3L664.2 321.6L568.4 384.6Z" fill="#d5722c" stroke="#d5722c"/>
<path d="M564.2 365.3L568.4 384.6L494.3 429.8Z" fill="#d2702c" stroke="#d2702c"/>
<path d="M490.1 412.4L564.2 365.3L494.3 429.8Z" fill="#d7732d" stroke="#d7732d"/>
<path d="M450.9 456.4L490.1 412.4L494.3 429.8Z" fill="#c56828" stroke="#c56828"/>
<path d="M450.9 456.4L494.3 429.8L455.1 455.8Z" fill="#f08639" stroke="#f08639"/>
<path d="M450.9 456.4L455.1 455.8L407.2 473.2Z" fill="#ef8538" stroke="#ef8538"/>
<path d="M403.0 479.5L450.9 456.4L407.2 473.2Z" fill="#8f4b1e" stroke="#8f4b1e"/>
<path d="M359.4 495.4L403.0 479.5L407.2 473.2Z" fill="#924d1f" stroke="#924d1f"/>
<path d="M359.4 495.4L407.2 473.2L363.6 491.5Z" fill="#86461c" stroke="#86461c"/>
<path d="M799.3 268.0L803.5 260.9L738.1 287.8Z" fill="#934d1f" stroke="#934d1f"/>
<path d="M734.0 296.0L799.3 268.0L738.1 287.8Z" fill="#954f20" stroke="#954f20"/>
<path d="M664.2 321.6L734.0 296.0L738.1 287.8Z" fill="#964f20" stroke="#964f20"/>
<path d="M664.2 321.6L738.1 287.8L668.4 317.0Z" fill="#89481d" stroke="#89481d"/>
<path d="M664.2 321.6L668.4 317.0L572.6 375.0Z" fill="#85451b" stroke="#85451b"/>
<path d="M568.4 384.6L664.2 321.6L572.6 375.0Z" fill="#944e20" stroke="#944e20"/>
<path d="M494.3 429.8L568.4 384.6L572.6 375.0Z" fill="#954e20" stroke="#954e20"/>
<path d="M494.3 429.8L572.6 375.0L498.5 420.4Z" fill="#944e20" stroke="#944e20"/>
<path d="M494.3 429.8L498.5 420.4L459.3 453.1Z" fill="#904c1f" stroke="#904c1f"/>
<path d="M455.1 455.8L494.3 429.8L459.3 453.1Z" fill="#f1893c" stroke="#f1893c"/>
<path d="M407.2 473.2L455.1 455.8L459.3 453.1Z" fill="#81431a" stroke="#81431a"/>
<path d="M407.2 473.2L459.3 453.1L411.4 477.2Z" fill="#dc772f" stroke="#dc772f"/>
<path d="M407.2 473.2L411.4 477.2L367.8 493.3Z" fill="#e07931" stroke="#e07931"/>
<path d="M363.6 491.5L407.2 473.2L367.8 493.3Z" fill="#e77e33" stroke="#e77e33"/>
<path d="M738.1 287.8L803.5 260.9L807.7 267.4Z" fill="#cb6c2a" stroke="#cb6c2a"/>
<path d="M738.1 287.8L807.7 267.4L742.3 294.0Z" fill="#cc6c2a" stroke="#cc6c2a"/>
<path d="M738.1 287.8L742.3 294.0L672.6 320.8Z" fill="#d16f2c" stroke="#d16f2c"/>
<path d="M668.4 317.0L738.1 287.8L672.6 320.8Z" fill="#dd7730" stroke="#dd7730"/>
<path d="M572.6 375.0L668.4 317.0L672.6 320.8Z" fill="#da752f" stroke="#da752f"/>
<path d="M572.6 375.0L672.6 320.8L576.8 377.9Z" fill="#e67d33" stroke="#e67d33"/>
<path d="M572.6 375.0L576.8 377.9L502.7 425.5Z" fill="#e67d33" stroke="#e67d33"/>
<path d="M498.5 420.4L572.6 375.0L502.7 425.5Z" fill="#d3712c" stroke="#d3712c"/>
<path d="M459.3 453.1L498.5 420.4L502.7 425.5Z" fill="#d8742e" stroke="#d8742e"/>
<path d="M459.3 453.1L502.7 425.5L463.5 458.2Z" fill="#db762f" stroke="#db762f"/>
<path d="M459.3 453.1L463.5 458.2L415.5 482.0Z" fill="#d9752e" stroke="#d9752e"/>
<path d="M411.4 477.2L459.3 453.1L415.5 482.0Z" fill="#dd7830" stroke="#dd7830"/>
<path d="M367.8 493.3L411.4 477.2L415.5 482.0Z" fill="#e27b31" stroke="#e27b31"/>
<path d="M367.8 493.3L415.5 482.0L372.0 500.1Z" fill="#d6732d" stroke="#d6732d"/>
<path d="M807.7 267.4L811.9 267.8L746.5 288.6Z" fill="#f28b40" stroke="#f28b40"/>
<path d="M742.3 294.0L807.7 267.4L746.5 288.6Z" fill="#8d4a1e" stroke="#8d4a1e"/>
<path d="M672.6 320.8L742.3 294.0L746.5 288.6Z" fill="#8e4a1e" stroke="#8e4a1e"/>
<path d="M672.6 320.8L746.5 288.6L676.8 322.2Z" fill="#f1893c" stroke="#f1893c"/>
<path d="M672.6 320.8L676.8 322.2L580.9 382.2Z" fill="#f1893d" stroke="#f1893d"/>
<path d="M576.8 377.9L672.6 320.8L580.9 382.2Z" fill="#e87f33" stroke="#e87f33"/>
<path d="M502.7 425.5L576.8 377.9L580.9 382.2Z" fill="#e87f33" stroke="#e87f33"/>
<path d="M502.7 425.5L580.9 382.2L506.9 424.9Z" fill="#f48f43" stroke="#f48f43"/>
<path d="M502.7 425.5L506.9 424.9L467.7 457.6Z" fill="#f28a3d" stroke="#f28a3d"/>
<path d="M463.5 458.2L502.7 425.5L467.7 457.6Z" fill="#f28a3d" stroke="#f28a3d"/>
<path d="M415.5 482.0L463.5 458.2L467.7 457.6Z" fill="#f28a3e" stroke="#f28a3e"/>
<path d="M415.5 482.0L467.7 457.6L419.7 479.9Z" fill="#7a3f18" stroke="#7a3f18"/>
<path d="M415.5 482.0L419.7 479.9L376.2 498.6Z" fill="#7b4019" stroke="#7b4019"/>
<path d="M372.0 500.1L415.5 482.0L376.2 498.6Z" fill="#f28a3d" stroke="#f28a3d"/>
<path d="M746.5 288.6L811.9 267.8L816.0 279.4Z" fill="#d9742e" stroke="#d9742e"/>
<path d="M746.5 288.6L816.0 279.4L750.7 305.2Z" fill="#d8742d" stroke="#d8742d"/>
<path d="M746.5 288.6L750.7 305.2L681.0 336.9Z" fill="#d8732d" stroke="#d8732d"/>
<path d="M676.8 322.2L746.5 288.6L681.0 336.9Z" fill="#d6732d" stroke="#d6732d"/>
<path d="M580.9 382.2L676.8 322.2L681.0 336.9Z" fill="#d7732d" stroke="#d7732d"/>
<path d="M580.9 382.2L681.0 336.9L585.1 389.7Z" fill="#e17a30" stroke="#e17a30"/>
<path d="M580.9 382.2L585.1 389.7L511.0 429.7Z" fill="#dd782f" stroke="#dd782f"/>
<path d="M506.9 424.9L580.9 382.2L511.0 429.7Z" fill="#e77e33" stroke="#e77e33"/>
<path d="M467.7 457.6L506.9 424.9L511.0 429.7Z" fill="#df7930" stroke="#df7930"/>
<path d="M467.7 457.6L511.0 429.7L471.8 462.2Z" fill="#e07931" stroke="#e07931"/>
<path d="M467.7 457.6L471.8 462.2L423.9 481.7Z" fill="#d9752e" stroke="#d9752e"/>
<path d="M419.7 479.9L467.7 457.6L423.9 481.7Z" fill="#e98034" stroke="#e98034"/>
<path d="M376.2 498.6L419.7 479.9L423.9 481.7Z" fill="#e57d32" stroke="#e57d32"/>
<path d="M376.2 498.6L423.9 481.7L380.3 498.7Z" fill="#ef8437" stroke="#ef8437"/>
<path d="M816.0 279.4L820.2 288.2L754.9 314.7Z" fill="#dc762f" stroke="#dc762f"/>
<path d="M750.7 305.2L816.0 279.4L754.9 314.7Z" fill="#df782f" stroke="#df782f"/>
<path d="M681.0 336.9L750.7 305.2L754.9 314.7Z" fill="#df782f" stroke="#df782f"/>
<path d="M681.0 336.9L754.9 314.7L685.2 344.2Z" fill="#e37b31" stroke="#e37b31"/>
<path d="M681.0 336.9L685.2 344.2L589.3 390.0Z" fill="#e27a31" stroke="#e27a31"/>
<path d="M585.1 389.7L681.0 336.9L589.3 390.0Z" fill="#f38f45" stroke="#f38f45"/>
<path d="M511.0 429.7L585.1 389.7L589.3 390.0Z" fill="#f38d42" stroke="#f38d42"/>
<path d="M511.0 429.7L589.3 390.0L515.2 438.4Z" fill="#d5722d" stroke="#d5722d"/>
<path d="M511.0 429.7L515.2 438.4L476.0 460.8Z" fill="#ce6d2b" stroke="#ce6d2b"/>
<path d="M471.8 462.2L511.0 429.7L476.0 460.8Z" fill="#f38c40" stroke="#f38c40"/>
<path d="M423.9 481.7L471.8 462.2L476.0 460.8Z" fill="#f28a3d" stroke="#f28a3d"/>
<path d="M423.9 481.7L476.0 460.8L428.1 483.5Z" fill="#ea8034" stroke="#ea8034"/>
<path d="M423.9 481.7L428.1 483.5L384.5 498.0Z" fill="#eb8134" stroke="#eb8134"/>
<path d="M380.3 498.7L423.9 481.7L384.5 498.0Z" fill="#f1873a" stroke="#f1873a"/>
<path d="M754.9 314.7L820.2 288.2L824.4 286.5Z" fill="#783e18" stroke="#783e18"/>
<path d="M754.9 314.7L824.4 286.5L759.0 312.1Z" fill="#7f421a" stroke="#7f421a"/>
<path d="M754.9 314.7L759.0 312.1L689.3 349.0Z" fill="#7b4019" stroke="#7b4019"/>
<path d="M685.2 344.2L754.9 314.7L689.3 349.0Z" fill="#dc772f" stroke="#dc772f"/>
<path d="M589.3 390.0L685.2 344.2L689.3 349.0Z" fill="#dc772f" stroke="#dc772f"/>
<path d="M589.3 390.0L689.3 349.0L593.5 395.0Z" fill="#d1702c" stroke="#d1702c"/>
<path d="M589.3 390.0L593.5 395.0L519.4 430.0Z" fill="#d16f2c" stroke="#d16f2c"/>
<path d="M515.2 438.4L589.3 390.0L519.4 430.0Z" fill="#914c1f" stroke="#914c1f"/>
<path d="M476.0 460.8L515.2 438.4L519.4 430.0Z" fill="#934d1f" stroke="#934d1f"/>
<path d="M476.0 460.8L519.4 430.0L480.2 461.7Z" fill="#e57c32" stroke="#e57c32"/>
<path d="M476.0 460.8L480.2 461.7L432.3 484.9Z" fill="#ec8134" stroke="#ec8134"/>
<path d="M428.1 483.5L476.0 460.8L432.3 484.9Z" fill="#ea8034" stroke="#ea8034"/>
<path d="M384.5 498.0L428.1 483.5L432.3 484.9Z" fill="#eb8034" stroke="#eb8034"/>
<path d="M384.5 498.0L432.3 484.9L388.7 498.1Z" fill="#ef8537" stroke="#ef8537"/>
<path d="M824.4 286.5L828.6 283.5L763.2 307.5Z" fill="#82441b" stroke="#82441b"/>
<path d="M759.0 312.1L824.4 286.5L763.2 307.5Z" fill="#8b491d" stroke="#8b491d"/>
<path d="M689.3 349.0L759.0 312.1L763.2 307.5Z" fill="#87471c" stroke="#87471c"/>
<path d="M689.3 349.0L763.2 307.5L693.5 335.6Z" fill="#9d5322" stroke="#9d5322"/>
<path d="M689.3 349.0L693.5 335.6L597.7 382.7Z" fill="#9c5222" stroke="#9c5222"/>
<path d="M593.5 395.0L689.3 349.0L597.7 382.7Z" fill="#9b5221" stroke="#9b5221"/>
<path d="M519.4 430.0L593.5 395.0L597.7 382.7Z" fill="#9b5221" stroke="#9b5221"/>
<path d="M519.4 430.0L597.7 382.7L523.6 429.5Z" fill="#ea8033" stroke="#ea8033"/>
<path d="M519.4 430.0L523.6 429.5L484.4 461.3Z" fill="#ec8134" stroke="#ec8134"/>
<path d="M480.2 461.7L519.4 430.0L484.4 461.3Z" fill="#e87f33" stroke="#e87f33"/>
<path d="M432.3 484.9L480.2 461.7L484.4 461.3Z" fill="#ee8336" stroke="#ee8336"/>
<path d="M432.3 484.9L484.4 461.3L436.5 483.7Z" fill="#ee8437" stroke="#ee8437"/>
<path d="M432.3 484.9L436.5 483.7L392.9 499.8Z" fill="#ee8437" stroke="#ee8437"/>
<path d="M388.7 498.1L432.3 484.9L392.9 499.8Z" fill="#e47c32" stroke="#e47c32"/>
<path d="M763.2 307.5L828.6 283.5L832.8 274.4Z" fill="#985021" stroke="#985021"/>
<path d="M763.2 307.5L832.8 274.4L767.4 303.4Z" fill="#87461c" stroke="#87461c"/>
<path d="M763.2 307.5L767.4 303.4L697.7 331.8Z" fill="#88471c" stroke="#88471c"/>
<path d="M693.5 335.6L763.2 307.5L697.7 331.8Z" fill="#86461c" stroke="#86461c"/>
<path d="M597.7 382.7L693.5 335.6L697.7 331.8Z" fill="#84451b" stroke="#84451b"/>
<path d="M597.7 382.7L697.7 331.8L601.8 383.2Z" fill="#d8742d" stroke="#d8742d"/>
<path d="M597.7 382.7L601.8 383.2L527.8 435.2Z" fill="#db752e" stroke="#db752e"/>
<path d="M523.6 429.5L597.7 382.7L527.8 435.2Z" fill="#c36627" stroke="#c36627"/>
<path d="M484.4 461.3L523.6 429.5L527.8 435.2Z" fill="#c56828" stroke="#c56828"/>
<path d="M484.4 461.3L527.8 435.2L488.6 457.3Z" fill="#83441b" stroke="#83441b"/>
<path d="M484.4 461.3L488.6 457.3L440.6 482.5Z" fill="#84451b" stroke="#84451b"/>
<path d="M436.5 483.7L484.4 461.3L440.6 482.5Z" fill="#e77e32" stroke="#e77e32"/>
<path d="M392.9 499.8L436.5 483.7L440.6 482.5Z" fill="#e77d32" stroke="#e77d32"/>
<path d="M392.9 499.8L440.6 482.5L397.1 497.2Z" fill="#80431a" stroke="#80431a"/>
<path d="M832.8 274.4L836.9 252.0L771.6 282.4Z" fill="#a15523" stroke="#a15523"/>
<path d="M767.4 303.4L832.8 274.4L771.6 282.4Z" fill="#a15523" stroke="#a15523"/>
<path d="M697.7 331.8L767.4 303.4L771.6 282.4Z" fill="#a15523" stroke="#a15523"/>
<path d="M697.7 331.8L771.6 282.4L701.9 308.0Z" fill="#a25623" stroke="#a25623"/>
<path d="M697.7 331.8L701.9 308.0L606.0 364.7Z" fill="#a05523" stroke="#a05523"/>
<path d="M601.8 383.2L697.7 331.8L606.0 364.7Z" fill="#9f5422" stroke="#9f5422"/>
<path d="M527.8 435.2L601.8 383.2L606.0 364.7Z" fill="#9d5322" stroke="#9d5322"/>
<path d="M527.8 435.2L606.0 364.7L532.0 411.3Z" fill="#a05523" stroke="#a05523"/>
<path d="M527.8 435.2L532.0 411.3L492.7 454.3Z" fill="#9c5322" stroke="#9c5322"/>
<path d="M488.6 457.3L527.8 435.2L492.7 454.3Z" fill="#7c4019" stroke="#7c4019"/>
<path d="M440.6 482.5L488.6 457.3L492.7 454.3Z" fill="#7d4119" stroke="#7d4119"/>
<path d="M440.6 482.5L492.7 454.3L444.8 475.9Z" fill="#914c1f" stroke="#914c1f"/>
<path d="M440.6 482.5L444.8 475.9L401.2 491.7Z" fill="#924d1f" stroke="#924d1f"/>
<path d="M397.1 497.2L440.6 482.5L401.2 491.7Z" fill="#904b1e" stroke="#904b1e"/>
<path d="M771.6 282.4L836.9 252.0L841.1 233.7Z" fill="#9f5423" stroke="#9f5423"/>
<path d="M771.6 282.4L841.1 233.7L775.8 257.8Z" fill="#a25623" stroke="#a25623"/>
<path d="M771.6 282.4L775.8 257.8L706.1 293.7Z" fill="#a15523" stroke="#a15523"/>
<path d="M701.9 308.0L771.6 282.4L706.1 293.7Z" fill="#9e5422" stroke="#9e5422"/>
<path d="M606.0 364.7L701.9 308.0L706.1 293.7Z" fill="#9b5222" stroke="#9b5222"/>
<path d="M606.0 364.7L706.1 293.7L610.2 346.1Z" fill="#9e5422" stroke="#9e5422"/>
<path d="M606.0 364.7L610.2 346.1L536.1 413.7Z" fill="#9b5221" stroke="#9b5221"/>
<path d="M532.0 411.3L606.0 364.7L536.1 413.7Z" fill="#cd6d2a" stroke="#cd6d2a"/>
<path d="M492.7 454.3L532.0 411.3L536.1 413.7Z" fill="#ce6d2a" stroke="#ce6d2a"/>
<path d="M492.7 454.3L536.1 413.7L496.9 446.8Z" fill="#8b491d" stroke="#8b491d"/>
<path d="M492.7 454.3L496.9 446.8L449.0 472.5Z" fill="#914c1f" stroke="#914c1f"/>
<path d="M444.8 475.9L492.7 454.3L449.0 472.5Z" fill="#83441b" stroke="#83441b"/>
<path d="M401.2 491.7L444.8 475.9L449.0 472.5Z" fill="#85461c" stroke="#85461c"/>
<path d="M401.2 491.7L449.0 472.5L405.4 488.7Z" fill="#83441b" stroke="#83441b"/>
<path d="M841.1 233.7L845.3 239.3L780.0 264.9Z" fill="#dc762f" stroke="#dc762f"/>
<path d="M775.8 257.8L841.1 233.7L780.0 264.9Z" fill="#d3712c" stroke="#d3712c"/>
<path d="M706.1 293.7L775.8 257.8L780.0 264.9Z" fill="#c86929" stroke="#c86929"/>
<path d="M706.1 293.7L780.0 264.9L710.2 291.5Z" fill="#7d4119" stroke="#7d4119"/>
<path d="M706.1 293.7L710.2 291.5L614.4 351.8Z" fill="#f0873a" stroke="#f0873a"/>
<path d="M610.2 346.1L706.1 293.7L614.4 351.8Z" fill="#c76928" stroke="#c76928"/>
<path d="M536.1 413.7L610.2 346.1L614.4 351.8Z" fill="#cc6c2a" stroke="#cc6c2a"/>
<path d="M536.1 413.7L614.4 351.8L540.3 411.9Z" fill="#ef8539" stroke="#ef8539"/>
<path d="M536.1 413.7L540.3 411.9L501.1 445.9Z" fill="#ed8337" stroke="#ed8337"/>
<path d="M496.9 446.8L536.1 413.7L501.1 445.9Z" fill="#ec8134" stroke="#ec8134"/>
<path d="M449.0 472.5L496.9 446.8L501.1 445.9Z" fill="#ea8033" stroke="#ea8033"/>
<path d="M449.0 472.5L501.1 445.9L453.2 471.3Z" fill="#ee8437" stroke="#ee8437"/>
<path d="M449.0 472.5L453.2 471.3L409.6 491.0Z" fill="#ee8437" stroke="#ee8437"/>
<path d="M405.4 488.7L449.0 472.5L409.6 491.0Z" fill="#d9752e" stroke="#d9752e"/>
<path d="M780.0 264.9L845.3 239.3L849.5 238.8Z" fill="#f38c40" stroke="#f38c40"/>
<path d="M780.0 264.9L849.5 238.8L784.1 269.9Z" fill="#d8742e" stroke="#d8742e"/>
<path d="M780.0 264.9L784.1 269.9L714.4 296.3Z" fill="#dc772f" stroke="#dc772f"/>
<path d="M710.2 291.5L780.0 264.9L714.4 296.3Z" fill="#df7930" stroke="#df7930"/>
<path d="M614.4 351.8L710.2 291.5L714.4 296.3Z" fill="#d8742e" stroke="#d8742e"/>
<path d="M614.4 351.8L714.4 296.3L618.6 353.7Z" fill="#ec8134" stroke="#ec8134"/>
<path d="M614.4 351.8L618.6 353.7L544.5 408.4Z" fill="#e07931" stroke="#e07931"/>
<path d="M540.3 411.9L614.4 351.8L544.5 408.4Z" fill="#793e18" stroke="#793e18"/>
<path d="M501.1 445.9L540.3 411.9L544.5 408.4Z" fill="#ec8236" stroke="#ec8236"/>
<path d="M501.1 445.9L544.5 408.4L505.3 449.6Z" fill="#ce6d2a" stroke="#ce6d2a"/>
<path d="M501.1 445.9L505.3 449.6L457.4 474.8Z" fill="#d1702c" stroke="#d1702c"/>
<path d="M453.2 471.3L501.1 445.9L457.4 474.8Z" fill="#d5722d" stroke="#d5722d"/>
<path d="M409.6 491.0L453.2 471.3L457.4 474.8Z" fill="#d5722d" stroke="#d5722d"/>
<path d="M409.6 491.0L457.4 474.8L413.8 490.6Z" fill="#e97f33" stroke="#e97f33"/>
<path d="M849.5 238.8L853.7 237.4L788.3 260.7Z" fill="#f28b3e" stroke="#f28b3e"/>
<path d="M784.1 269.9L849.5 238.8L788.3 260.7Z" fill="#964f20" stroke="#964f20"/>
<path d="M714.4 296.3L784.1 269.9L788.3 260.7Z" fill="#985021" stroke="#985021"/>
<path d="M714.4 296.3L788.3 260.7L718.6 297.2Z" fill="#f1873a" stroke="#f1873a"/>
<path d="M714.4 296.3L718.6 297.2L622.8 353.2Z" fill="#f08638" stroke="#f08638"/>
<path d="M618.6 353.7L714.4 296.3L622.8 353.2Z" fill="#f1883b" stroke="#f1883b"/>
<path d="M544.5 408.4L618.6 353.7L622.8 353.2Z" fill="#ed8235" stroke="#ed8235"/>
<path d="M544.5 408.4L622.8 353.2L548.7 394.6Z" fill="#9b5222" stroke="#9b5222"/>
<path d="M544.5 408.4L548.7 394.6L509.5 436.6Z" fill="#944e20" stroke="#944e20"/>
<path d="M505.3 449.6L544.5 408.4L509.5 436.6Z" fill="#934e1f" stroke="#934e1f"/>
<path d="M457.4 474.8L505.3 449.6L509.5 436.6Z" fill="#9b5221" stroke="#9b5221"/>
<path d="M457.4 474.8L509.5 436.6L461.5 461.8Z" fill="#9b5221" stroke="#9b5221"/>
<path d="M457.4 474.8L461.5 461.8L418.0 478.1Z" fill="#9d5322" stroke="#9d5322"/>
<path d="M413.8 490.6L457.4 474.8L418.0 478.1Z" fill="#9c5322" stroke="#9c5322"/>
<path d="M788.3 260.7L853.7 237.4L857.9 248.6Z" fill="#cc6c2a" stroke="#cc6c2a"/>
<path d="M788.3 260.7L857.9 248.6L792.5 273.5Z" fill="#cb6c2a" stroke="#cb6c2a"/>
<path d="M788.3 260.7L792.5 273.5L722.8 301.9Z" fill="#ca6b2a" stroke="#ca6b2a"/>
<path d="M718.6 297.2L788.3 260.7L722.8 301.9Z" fill="#e07931" stroke="#e07931"/>
<path d="M622.8 353.2L718.6 297.2L722.8 301.9Z" fill="#dd7730" stroke="#dd7730"/>
<path d="M622.8 353.2L722.8 301.9L626.9 354.5Z" fill="#f08638" stroke="#f08638"/>
<path d="M622.8 353.2L626.9 354.5L552.9 404.4Z" fill="#ef8436" stroke="#ef8436"/>
<path d="M548.7 394.6L622.8 353.2L552.9 404.4Z" fill="#c56828" stroke="#c56828"/>
<path d="M509.5 436.6L548.7 394.6L552.9 404.4Z" fill="#bd6325" stroke="#bd6325"/>
<path d="M509.5 436.6L552.9 404.4L513.7 439.3Z" fill="#d8742e" stroke="#d8742e"/>
<path d="M509.5 436.6L513.7 439.3L465.7 461.5Z" fill="#d06f2b" stroke="#d06f2b"/>
<path d="M461.5 461.8L509.5 436.6L465.7 461.5Z" fill="#e07930" stroke="#e07930"/>
<path d="M418.0 478.1L461.5 461.8L465.7 461.5Z" fill="#df782f" stroke="#df782f"/>
<path d="M418.0 478.1L465.7 461.5L422.2 472.1Z" fill="#934e1f" stroke="#934e1f"/>
<path d="M857.9 248.6L862.0 247.9L796.7 273.2Z" fill="#f48e43" stroke="#f48e43"/>
<path d="M792.5 273.5L857.9 248.6L796.7 273.2Z" fill="#f38e42" stroke="#f38e42"/>
<path d="M722.8 301.9L792.5 273.5L796.7 273.2Z" fill="#f38d41" stroke="#f38d41"/>
<path d="M722.8 301.9L796.7 273.2L727.0 302.8Z" fill="#f2893d" stroke="#f2893d"/>
<path d="M722.8 301.9L727.0 302.8L631.1 357.3Z" fill="#f1873a" stroke="#f1873a"/>
<path d="M626.9 354.5L722.8 301.9L631.1 357.3Z" fill="#e87f33" stroke="#e87f33"/>
<path d="M552.9 404.4L626.9 354.5L631.1 357.3Z" fill="#e47c32" stroke="#e47c32"/>
<path d="M552.9 404.4L631.1 357.3L557.1 402.2Z" fill="#f1883b" stroke="#f1883b"/>
<path d="M552.9 404.4L557.1 402.2L517.8 427.9Z" fill="#e97f33" stroke="#e97f33"/>
<path d="M513.7 439.3L552.9 404.4L517.8 427.9Z" fill="#934d1f" stroke="#934d1f"/>
<path d="M465.7 461.5L513.7 439.3L517.8 427.9Z" fill="#9a5121" stroke="#9a5121"/>
<path d="M465.7 461.5L517.8 427.9L469.9 454.9Z" fill="#8e4a1e" stroke="#8e4a1e"/>
<path d="M465.7 461.5L469.9 454.9L426.3 471.3Z" fill="#924d1f" stroke="#924d1f"/>
<path d="M422.2 472.1L465.7 461.5L426.3 471.3Z" fill="#e37b31" stroke="#e37b31"/>
<path d="M796.7 273.2L862.0 247.9L866.2 255.9Z" fill="#d1702c" stroke="#d1702c"/>
<path d="M796.7 273.2L866.2 255.9L800.9 286.1Z" fill="#c66828" stroke="#c66828"/>
<path d="M796.7 273.2L800.9 286.1L731.2 305.8Z" fill="#c26627" stroke="#c26627"/>
<path d="M727.0 302.8L796.7 273.2L731.2 305.8Z" fill="#e57d32" stroke="#e57d32"/>
<path d="M631.1 357.3L727.0 302.8L731.2 305.8Z" fill="#df7930" stroke="#df7930"/>
<path d="M631.1 357.3L731.2 305.8L635.3 359.9Z" fill="#e07930" stroke="#e07930"/>
<path d="M631.1 357.3L635.3 359.9L561.2 392.6Z" fill="#e17a31" stroke="#e17a31"/>
<path d="M557.1 402.2L631.1 357.3L561.2 392.6Z" fill="#954e20" stroke="#954e20"/>
<path d="M517.8 427.9L557.1 402.2L561.2 392.6Z" fill="#944e20" stroke="#944e20"/>
<path d="M517.8 427.9L561.2 392.6L522.0 428.0Z" fill="#e27a31" stroke="#e27a31"/>
<path d="M517.8 427.9L522.0 428.0L474.1 449.7Z" fill="#e07930" stroke="#e07930"/>
<path d="M469.9 454.9L517.8 427.9L474.1 449.7Z" fill="#89481d" stroke="#89481d"/>
<path d="M426.3 471.3L469.9 454.9L474.1 449.7Z" fill="#8d4a1e" stroke="#8d4a1e"/>
<path d="M426.3 471.3L474.1 449.7L430.5 465.4Z" fill="#904c1f" stroke="#904c1f"/>
<path d="M866.2 255.9L870.4 250.4L805.1 275.2Z" fill="#8e4b1e" stroke="#8e4b1e"/>
<path d="M800.9 286.1L866.2 255.9L805.1 275.2Z" fill="#995121" stroke="#995121"/>
<path d="M731.2 305.8L800.9 286.1L805.1 275.2Z" fill="#9c5322" stroke="#9c5322"/>
<path d="M731.2 305.8L805.1 275.2L735.3 302.9Z" fill="#81431a" stroke="#81431a"/>
<path d="M731.2 305.8L735.3 302.9L639.5 356.0Z" fill="#7c4019" stroke="#7c4019"/>
<path d="M635.3 359.9L731.2 305.8L639.5 356.0Z" fill="#82441b" stroke="#82441b"/>
<path d="M561.2 392.6L635.3 359.9L639.5 356.0Z" fill="#86461c" stroke="#86461c"/>
<path d="M561.2 392.6L639.5 356.0L565.4 403.4Z" fill="#be6326" stroke="#be6326"/>
<path d="M561.2 392.6L565.4 403.4L526.2 428.8Z" fill="#bd6225" stroke="#bd6225"/>
<path d="M522.0 428.0L561.2 392.6L526.2 428.8Z" fill="#e77e33" stroke="#e77e33"/>
<path d="M474.1 449.7L522.0 428.0L526.2 428.8Z" fill="#e47c32" stroke="#e47c32"/>
<path d="M474.1 449.7L526.2 428.8L478.3 448.5Z" fill="#ec8135" stroke="#ec8135"/>
<path d="M474.1 449.7L478.3 448.5L434.7 463.9Z" fill="#e97f33" stroke="#e97f33"/>
<path d="M430.5 465.4L474.1 449.7L434.7 463.9Z" fill="#e87e32" stroke="#e87e32"/>
<path d="M805.1 275.2L870.4 250.4L874.6 255.3Z" fill="#da762f" stroke="#da762f"/>
<path d="M805.1 275.2L874.6 255.3L809.2 282.3Z" fill="#d7732e" stroke="#d7732e"/>
<path d="M805.1 275.2L809.2 282.3L739.5 309.2Z" fill="#d6732d" stroke="#d6732d"/>
<path d="M735.3 302.9L805.1 275.2L739.5 309.2Z" fill="#d4722d" stroke="#d4722d"/>
<path d="M639.5 356.0L735.3 302.9L739.5 309.2Z" fill="#d2712c" stroke="#d2712c"/>
<path d="M639.5 356.0L739.5 309.2L643.7 358.2Z" fill="#ef8436" stroke="#ef8436"/>
<path d="M639.5 356.0L643.7 358.2L569.6 396.9Z" fill="#ed8235" stroke="#ed8235"/>
<path d="M565.4 403.4L639.5 356.0L569.6 396.9Z" fill="#8c491d" stroke="#8c491d"/>
<path d="M526.2 428.8L565.4 403.4L569.6 396.9Z" fill="#8c491d" stroke="#8c491d"/>
<path d="M526.2 428.8L569.6 396.9L530.4 427.2Z" fill="#f1873a" stroke="#f1873a"/>
<path d="M526.2 428.8L530.4 427.2L482.5 448.4Z" fill="#f1883b" stroke="#f1883b"/>
<path d="M478.3 448.5L526.2 428.8L482.5 448.4Z" fill="#ef8436" stroke="#ef8436"/>
<path d="M434.7 463.9L478.3 448.5L482.5 448.4Z" fill="#ee8235" stroke="#ee8235"/>
<path d="M434.7 463.9L482.5 448.4L438.9 458.8Z" fill="#914c1f" stroke="#914c1f"/>
<path d="M874.6 255.3L878.8 258.9L813.4 285.4Z" fill="#d8742e" stroke="#d8742e"/>
<path d="M809.2 282.3L874.6 255.3L813.4 285.4Z" fill="#e57d32" stroke="#e57d32"/>
<path d="M739.5 309.2L809.2 282.3L813.4 285.4Z" fill="#e67d33" stroke="#e67d33"/>
<path d="M739.5 309.2L813.4 285.4L743.7 307.9Z" fill="#f0873a" stroke="#f0873a"/>
<path d="M739.5 309.2L743.7 307.9L647.9 365.0Z" fill="#f1873b" stroke="#f1873b"/>
<path d="M643.7 358.2L739.5 309.2L647.9 365.0Z" fill="#d4722d" stroke="#d4722d"/>
<path d="M569.6 396.9L643.7 358.2L647.9 365.0Z" fill="#d06f2b" stroke="#d06f2b"/>
<path d="M569.6 396.9L647.9 365.0L573.8 412.6Z" fill="#ba6024" stroke="#ba6024"/>
<path d="M569.6 396.9L573.8 412.6L534.6 428.6Z" fill="#bb6124" stroke="#bb6124"/>
<path d="M530.4 427.2L569.6 396.9L534.6 428.6Z" fill="#e77e33" stroke="#e77e33"/>
<path d="M482.5 448.4L530.4 427.2L534.6 428.6Z" fill="#e77e33" stroke="#e77e33"/>
<path d="M482.5 448.4L534.6 428.6L486.6 452.1Z" fill="#d8742e" stroke="#d8742e"/>
<path d="M482.5 448.4L486.6 452.1L443.1 467.4Z" fill="#dc772f" stroke="#dc772f"/>
<path d="M438.9 458.8L482.5 448.4L443.1 467.4Z" fill="#c66928" stroke="#c66928"/>
<path d="M813.4 285.4L878.8 258.9L883.0 250.7Z" fill="#954f20" stroke="#954f20"/>
<path d="M813.4 285.4L883.0 250.7L817.6 275.3Z" fill="#995121" stroke="#995121"/>
<path d="M813.4 285.4L817.6 275.3L747.9 303.6Z" fill="#995121" stroke="#995121"/>
<path d="M743.7 307.9L813.4 285.4L747.9 303.6Z" fill="#8b491d" stroke="#8b491d"/>
<path d="M647.9 365.0L743.7 307.9L747.9 303.6Z" fill="#84451b" stroke="#84451b"/>
<path d="M647.9 365.0L747.9 303.6L652.0 356.4Z" fill="#944e1f" stroke="#944e1f"/>
<path d="M647.9 365.0L652.0 356.4L578.0 397.1Z" fill="#944e1f" stroke="#944e1f"/>
<path d="M573.8 412.6L647.9 365.0L578.0 397.1Z" fill="#9b5222" stroke="#9b5222"/>
<path d="M534.6 428.6L573.8 412.6L578.0 397.1Z" fill="#9e5422" stroke="#9e5422"/>
<path d="M534.6 428.6L578.0 397.1L538.8 423.8Z" fill="#84451b" stroke="#84451b"/>
<path d="M534.6 428.6L538.8 423.8L490.8 450.4Z" fill="#87471c" stroke="#87471c"/>
<path d="M486.6 452.1L534.6 428.6L490.8 450.4Z" fill="#e97f33" stroke="#e97f33"/>
<path d="M443.1 467.4L486.6 452.1L490.8 450.4Z" fill="#7a3f19" stroke="#7a3f19"/>
<path d="M443.1 467.4L490.8 450.4L447.3 461.5Z" fill="#934d1f" stroke="#934d1f"/>
<path d="M883.0 250.7L887.1 253.1L821.8 277.7Z" fill="#d7742d" stroke="#d7742d"/>
<path d="M817.6 275.3L883.0 250.7L821.8 277.7Z" fill="#d6732d" stroke="#d6732d"/>
<path d="M747.9 303.6L817.6 275.3L821.8 277.7Z" fill="#d4712c" stroke="#d4712c"/>
<path d="M747.9 303.6L821.8 277.7L752.1 305.8Z" fill="#d6732d" stroke="#d6732d"/>
<path d="M747.9 303.6L752.1 305.8L656.2 347.5Z" fill="#d06f2b" stroke="#d06f2b"/>
<path d="M652.0 356.4L747.9 303.6L656.2 347.5Z" fill="#944e20" stroke="#944e20"/>
<path d="M578.0 397.1L652.0 356.4L656.2 347.5Z" fill="#944e20" stroke="#944e20"/>
<path d="M578.0 397.1L656.2 347.5L582.1 383.8Z" fill="#9b5222" stroke="#9b5222"/>
<path d="M578.0 397.1L582.1 383.8L542.9 411.4Z" fill="#995121" stroke="#995121"/>
<path d="M538.8 423.8L578.0 397.1L542.9 411.4Z" fill="#985021" stroke="#985021"/>
<path d="M490.8 450.4L538.8 423.8L542.9 411.4Z" fill="#9a5121" stroke="#9a5121"/>
<path d="M490.8 450.4L542.9 411.4L495.0 435.1Z" fill="#9d5322" stroke="#9d5322"/>
<path d="M490.8 450.4L495.0 435.1L451.4 455.9Z" fill="#9d5322" stroke="#9d5322"/>
<path d="M447.3 461.5L490.8 450.4L451.4 455.9Z" fill="#924d1f" stroke="#924d1f"/>
<path d="M821.8 277.7L887.1 253.1L891.3 248.8Z" fill="#89481d" stroke="#89481d"/>
<path d="M821.8 277.7L891.3 248.8L826.0 272.3Z" fill="#8f4b1e" stroke="#8f4b1e"/>
<path d="M821.8 277.7L826.0 272.3L756.3 296.9Z" fill="#8f4b1e" stroke="#8f4b1e"/>
<path d="M752.1 305.8L821.8 277.7L756.3 296.9Z" fill="#975020" stroke="#975020"/>
<path d="M656.2 347.5L752.1 305.8L756.3 296.9Z" fill="#964f20" stroke="#964f20"/>
<path d="M656.2 347.5L756.3 296.9L660.4 341.6Z" fill="#8e4b1e" stroke="#8e4b1e"/>
<path d="M656.2 347.5L660.4 341.6L586.3 378.6Z" fill="#8d4a1e" stroke="#8d4a1e"/>
<path d="M582.1 383.8L656.2 347.5L586.3 378.6Z" fill="#8b491d" stroke="#8b491d"/>
<path d="M542.9 411.4L582.1 383.8L586.3 378.6Z" fill="#85461c" stroke="#85461c"/>
<path d="M542.9 411.4L586.3 378.6L547.1 406.7Z" fill="#82441b" stroke="#82441b"/>
<path d="M542.9 411.4L547.1 406.7L499.2 430.4Z" fill="#88471c" stroke="#88471c"/>
<path d="M495.0 435.1L542.9 411.4L499.2 430.4Z" fill="#89471c" stroke="#89471c"/>
<path d="M451.4 455.9L495.0 435.1L499.2 430.4Z" fill="#89481d" stroke="#89481d"/>
<path d="M451.4 455.9L499.2 430.4L455.6 449.2Z" fill="#914c1f" stroke="#914c1f"/>
<path d="M891.3 248.8L895.5 239.7L830.1 264.7Z" fill="#985021" stroke="#985021"/>
<path d="M826.0 272.3L891.3 248.8L830.1 264.7Z" fill="#954f20" stroke="#954f20"/>
<path d="M756.3 296.9L826.0 272.3L830.1 264.7Z" fill="#954f20" stroke="#954f20"/>
<path d="M756.3 296.9L830.1 264.7L760.4 292.4Z" fill="#8a481d" stroke="#8a481d"/>
<path d="M756.3 296.9L760.4 292.4L664.6 336.3Z" fill="#88471c" stroke="#88471c"/>
<path d="M660.4 341.6L756.3 296.9L664.6 336.3Z" fill="#8b491d" stroke="#8b491d"/>
<path d="M586.3 378.6L660.4 341.6L664.6 336.3Z" fill="#8b491d" stroke="#8b491d"/>
<path d="M586.3 378.6L664.6 336.3L590.5 376.7Z" fill="#e0782f" stroke="#e0782f"/>
<path d="M586.3 378.6L590.5 376.7L551.3 395.0Z" fill="#e1792f" stroke="#e1792f"/>
<path d="M547.1 406.7L586.3 378.6L551.3 395.0Z" fill="#964f20" stroke="#964f20"/>
<path d="M499.2 430.4L547.1 406.7L551.3 395.0Z" fill="#9a5121" stroke="#9a5121"/>
<path d="M499.2 430.4L551.3 395.0L503.4 430.0Z" fill="#db752e" stroke="#db752e"/>
<path d="M499.2 430.4L503.4 430.0L459.8 441.6Z" fill="#de782f" stroke="#de782f"/>
<path d="M455.6 449.2L499.2 430.4L459.8 441.6Z" fill="#944e20" stroke="#944e20"/>
<path d="M830.1 264.7L895.5 239.7L899.7 223.3Z" fill="#9f5423" stroke="#9f5423"/>
<path d="M830.1 264.7L899.7 223.3L834.3 241.2Z" fill="#a35624" stroke="#a35624"/>
<path d="M830.1 264.7L834.3 241.2L764.6 276.0Z" fill="#a15523" stroke="#a15523"/>
<path d="M760.4 292.4L830.1 264.7L764.6 276.0Z" fill="#9f5423" stroke="#9f5423"/>
<path d="M664.6 336.3L760.4 292.4L764.6 276.0Z" fill="#9e5422" stroke="#9e5422"/>
<path d="M664.6 336.3L764.6 276.0L668.8 316.6Z" fill="#a05523" stroke="#a05523"/>
<path d="M664.6 336.3L668.8 316.6L594.7 361.1Z" fill="#9f5422" stroke="#9f5422"/>
<path d="M590.5 376.7L664.6 336.3L594.7 361.1Z" fill="#9d5322" stroke="#9d5322"/>
<path d="M551.3 395.0L590.5 376.7L594.7 361.1Z" fill="#9e5322" stroke="#9e5322"/>
<path d="M551.3 395.0L594.7 361.1L555.5 390.5Z" fill="#80431a" stroke="#80431a"/>
<path d="M551.3 395.0L555.5 390.5L507.6 421.2Z" fill="#83441b" stroke="#83441b"/>
<path d="M503.4 430.0L551.3 395.0L507.6 421.2Z" fill="#914c1f" stroke="#914c1f"/>
<path d="M459.8 441.6L503.4 430.0L507.6 421.2Z" fill="#995121" stroke="#995121"/>
<path d="M459.8 441.6L507.6 421.2L464.0 431.2Z" fill="#9c5322" stroke="#9c5322"/>
<path d="M899.7 223.3L903.9 225.6L838.5 251.7Z" fill="#de7830" stroke="#de7830"/>
<path d="M834.3 241.2L899.7 223.3L838.5 251.7Z" fill="#ba6024" stroke="#ba6024"/>
<path d="M764.6 276.0L834.3 241.2L838.5 251.7Z" fill="#b45d22" stroke="#b45d22"/>
<path d="M764.6 276.0L838.5 251.7L768.8 276.1Z" fill="#e27b31" stroke="#e27b31"/>
<path d="M764.6 276.0L768.8 276.1L672.9 315.9Z" fill="#de782f" stroke="#de782f"/>
<path d="M668.8 316.6L764.6 276.0L672.9 315.9Z" fill="#e17a30" stroke="#e17a30"/>
<path d="M594.7 361.1L668.8 316.6L672.9 315.9Z" fill="#de772f" stroke="#de772f"/>
<path d="M594.7 361.1L672.9 315.9L598.9 352.6Z" fill="#944e20" stroke="#944e20"/>
<path d="M594.7 361.1L598.9 352.6L559.7 387.6Z" fill="#8d4a1e" stroke="#8d4a1e"/>
<path d="M555.5 390.5L594.7 361.1L559.7 387.6Z" fill="#e27a30" stroke="#e27a30"/>
<path d="M507.6 421.2L555.5 390.5L559.7 387.6Z" fill="#793f18" stroke="#793f18"/>
<path d="M507.6 421.2L559.7 387.6L511.7 404.8Z" fill="#9f5423" stroke="#9f5423"/>
<path d="M507.6 421.2L511.7 404.8L468.2 430.1Z" fill="#9d5322" stroke="#9d5322"/>
<path d="M464.0 431.2L507.6 421.2L468.2 430.1Z" fill="#7a3f18" stroke="#7a3f18"/>
<path d="M838.5 251.7L903.9 225.6L908.0 225.4Z" fill="#ea8034" stroke="#ea8034"/>
<path d="M838.5 251.7L908.0 225.4L842.7 246.9Z" fill="#8d4a1e" stroke="#8d4a1e"/>
<path d="M838.5 251.7L842.7 246.9L773.0 266.1Z" fill="#8f4b1e" stroke="#8f4b1e"/>
<path d="M768.8 276.1L838.5 251.7L773.0 266.1Z" fill="#9a5121" stroke="#9a5121"/>
<path d="M672.9 315.9L768.8 276.1L773.0 266.1Z" fill="#995121" stroke="#995121"/>
<path d="M672.9 315.9L773.0 266.1L677.1 315.4Z" fill="#de782f" stroke="#de782f"/>
<path d="M672.9 315.9L677.1 315.4L603.1 344.6Z" fill="#e0792f" stroke="#e0792f"/>
<path d="M598.9 352.6L672.9 315.9L603.1 344.6Z" fill="#934e1f" stroke="#934e1f"/>
<path d="M559.7 387.6L598.9 352.6L603.1 344.6Z" fill="#8b491d" stroke="#8b491d"/>
<path d="M559.7 387.6L603.1 344.6L563.8 385.5Z" fill="#df782f" stroke="#df782f"/>
<path d="M559.7 387.6L563.8 385.5L515.9 407.4Z" fill="#7a3f18" stroke="#7a3f18"/>
<path d="M511.7 404.8L559.7 387.6L515.9 407.4Z" fill="#cf6e2a" stroke="#cf6e2a"/>
<path d="M468.2 430.1L511.7 404.8L515.9 407.4Z" fill="#ce6d2a" stroke="#ce6d2a"/>
<path d="M468.2 430.1L515.9 407.4L472.3 421.9Z" fill="#975020" stroke="#975020"/>
<path d="M908.0 225.4L912.2 221.8L846.9 242.9Z" fill="#88471c" stroke="#88471c"/>
<path d="M842.7 246.9L908.0 225.4L846.9 242.9Z" fill="#89481d" stroke="#89481d"/>
<path d="M773.0 266.1L842.7 246.9L846.9 242.9Z" fill="#8b491d" stroke="#8b491d"/>
<path d="M773.0 266.1L846.9 242.9L777.2 259.9Z" fill="#944e20" stroke="#944e20"/>
<path d="M773.0 266.1L777.2 259.9L681.3 300.7Z" fill="#904c1e" stroke="#904c1e"/>
<path d="M677.1 315.4L773.0 266.1L681.3 300.7Z" fill="#9c5322" stroke="#9c5322"/>
<path d="M603.1 344.6L677.1 315.4L681.3 300.7Z" fill="#9e5422" stroke="#9e5422"/>
<path d="M603.1 344.6L681.3 300.7L607.2 341.2Z" fill="#80431a" stroke="#80431a"/>
<path d="M603.1 344.6L607.2 341.2L568.0 380.0Z" fill="#e47b30" stroke="#e47b30"/>
<path d="M563.8 385.5L603.1 344.6L568.0 380.0Z" fill="#7e421a" stroke="#7e421a"/>
<path d="M515.9 407.4L563.8 385.5L568.0 380.0Z" fill="#8d4a1e" stroke="#8d4a1e"/>
<path d="M515.9 407.4L568.0 380.0L520.1 401.2Z" fill="#904b1e" stroke="#904b1e"/>
<path d="M515.9 407.4L520.1 401.2L476.5 418.4Z" fill="#914c1f" stroke="#914c1f"/>
<path d="M472.3 421.9L515.9 407.4L476.5 418.4Z" fill="#87471c" stroke="#87471c"/>
<path d="M846.9 242.9L912.2 221.8L916.4 224.1Z" fill="#eb8134" stroke="#eb8134"/>
<path d="M846.9 242.9L916.4 224.1L851.1 248.7Z" fill="#e47c32" stroke="#e47c32"/>
<path d="M846.9 242.9L851.1 248.7L781.3 265.6Z" fill="#e77e33" stroke="#e77e33"/>
<path d="M777.2 259.9L846.9 242.9L781.3 265.6Z" fill="#e67e33" stroke="#e67e33"/>
<path d="M681.3 300.7L777.2 259.9L781.3 265.6Z" fill="#e67d33" stroke="#e67d33"/>
<path d="M681.3 300.7L781.3 265.6L685.5 309.1Z" fill="#e37b32" stroke="#e37b32"/>
<path d="M681.3 300.7L685.5 309.1L611.4 340.0Z" fill="#da752e" stroke="#da752e"/>
<path d="M607.2 341.2L681.3 300.7L611.4 340.0Z" fill="#ea7f33" stroke="#ea7f33"/>
<path d="M568.0 380.0L607.2 341.2L611.4 340.0Z" fill="#e67d31" stroke="#e67d31"/>
<path d="M568.0 380.0L611.4 340.0L572.2 379.2Z" fill="#e57c31" stroke="#e57c31"/>
<path d="M568.0 380.0L572.2 379.2L524.3 402.1Z" fill="#e87e32" stroke="#e87e32"/>
<path d="M520.1 401.2L568.0 380.0L524.3 402.1Z" fill="#e57c31" stroke="#e57c31"/>
<path d="M476.5 418.4L520.1 401.2L524.3 402.1Z" fill="#e57c31" stroke="#e57c31"/>
<path d="M476.5 418.4L524.3 402.1L480.7 413.5Z" fill="#8f4b1e" stroke="#8f4b1e"/>
<path d="M916.4 224.1L920.6 225.1L855.2 248.1Z" fill="#ef8335" stroke="#ef8335"/>
<path d="M851.1 248.7L916.4 224.1L855.2 248.1Z" fill="#f08538" stroke="#f08538"/>
<path d="M781.3 265.6L851.1 248.7L855.2 248.1Z" fill="#f08639" stroke="#f08639"/>
<path d="M781.3 265.6L855.2 248.1L785.5 275.3Z" fill="#e27b31" stroke="#e27b31"/>
<path d="M781.3 265.6L785.5 275.3L689.7 301.1Z" fill="#e37b31" stroke="#e37b31"/>
<path d="M685.5 309.1L781.3 265.6L689.7 301.1Z" fill="#ef8336" stroke="#ef8336"/>
<path d="M611.4 340.0L685.5 309.1L689.7 301.1Z" fill="#ec8134" stroke="#ec8134"/>
<path d="M611.4 340.0L689.7 301.1L615.6 333.1Z" fill="#ea8033" stroke="#ea8033"/>
<path d="M611.4 340.0L615.6 333.1L576.4 375.7Z" fill="#e67d31" stroke="#e67d31"/>
<path d="M572.2 379.2L611.4 340.0L576.4 375.7Z" fill="#e67d31" stroke="#e67d31"/>
<path d="M524.3 402.1L572.2 379.2L576.4 375.7Z" fill="#82441b" stroke="#82441b"/>
<path d="M524.3 402.1L576.4 375.7L528.5 394.4Z" fill="#954e20" stroke="#954e20"/>
<path d="M524.3 402.1L528.5 394.4L484.9 419.4Z" fill="#914c1f" stroke="#914c1f"/>
<path d="M480.7 413.5L524.3 402.1L484.9 419.4Z" fill="#dd772f" stroke="#dd772f"/>
<path d="M855.2 248.1L920.6 225.1L924.8 226.6Z" fill="#ea8033" stroke="#ea8033"/>
<path d="M855.2 248.1L924.8 226.6L859.4 247.1Z" fill="#eb8134" stroke="#eb8134"/>
<path d="M855.2 248.1L859.4 247.1L789.7 272.6Z" fill="#ea7f33" stroke="#ea7f33"/>
<path d="M785.5 275.3L855.2 248.1L789.7 272.6Z" fill="#ec8134" stroke="#ec8134"/>
<path d="M689.7 301.1L785.5 275.3L789.7 272.6Z" fill="#ec8134" stroke="#ec8134"/>
<path d="M689.7 301.1L789.7 272.6L693.9 310.4Z" fill="#d9742e" stroke="#d9742e"/>
<path d="M689.7 301.1L693.9 310.4L619.8 333.0Z" fill="#da762e" stroke="#da762e"/>
<path d="M615.6 333.1L689.7 301.1L619.8 333.0Z" fill="#e97f33" stroke="#e97f33"/>
<path d="M576.4 375.7L615.6 333.1L619.8 333.0Z" fill="#e27a30" stroke="#e27a30"/>
<path d="M576.4 375.7L619.8 333.0L580.6 368.2Z" fill="#e57c31" stroke="#e57c31"/>
<path d="M576.4 375.7L580.6 368.2L532.6 395.7Z" fill="#904c1f" stroke="#904c1f"/>
<path d="M528.5 394.4L576.4 375.7L532.6 395.7Z" fill="#e17a30" stroke="#e17a30"/>
<path d="M484.9 419.4L528.5 394.4L532.6 395.7Z" fill="#e37b31" stroke="#e37b31"/>
<path d="M484.9 419.4L532.6 395.7L489.1 412.2Z" fill="#944e1f" stroke="#944e1f"/>
<path d="M924.8 226.6L929.0 220.9L863.6 242.5Z" fill="#e67c31" stroke="#e67c31"/>
<path d="M859.4 247.1L924.8 226.6L863.6 242.5Z" fill="#e77d32" stroke="#e77d32"/>
<path d="M789.7 272.6L859.4 247.1L863.6 242.5Z" fill="#e77d32" stroke="#e77d32"/>
<path d="M789.7 272.6L863.6 242.5L793.9 266.1Z" fill="#e57c31" stroke="#e57c31"/>
<path d="M789.7 272.6L793.9 266.1L698.0 300.2Z" fill="#e57c31" stroke="#e57c31"/>
<path d="M693.9 310.4L789.7 272.6L698.0 300.2Z" fill="#e77d32" stroke="#e77d32"/>
<path d="M619.8 333.0L693.9 310.4L698.0 300.2Z" fill="#e77d32" stroke="#e77d32"/>
<path d="M619.8 333.0L698.0 300.2L624.0 330.8Z" fill="#e67c31" stroke="#e67c31"/>
<path d="M619.8 333.0L624.0 330.8L584.8 358.4Z" fill="#e47c31" stroke="#e47c31"/>
<path d="M580.6 368.2L619.8 333.0L584.8 358.4Z" fill="#e57b30" stroke="#e57b30"/>
<path d="M532.6 395.7L580.6 368.2L584.8 358.4Z" fill="#954f20" stroke="#954f20"/>
<path d="M532.6 395.7L584.8 358.4L536.8 393.3Z" fill="#e47b31" stroke="#e47b31"/>
<path d="M532.6 395.7L536.8 393.3L493.3 406.8Z" fill="#81431a" stroke="#81431a"/>
<path d="M489.1 412.2L532.6 395.7L493.3 406.8Z" fill="#8e4b1e" stroke="#8e4b1e"/>
<path d="M863.6 242.5L929.0 220.9L933.1 210.6Z" fill="#e57c31" stroke="#e57c31"/>
<path d="M863.6 242.5L933.1 210.6L867.8 234.8Z" fill="#e67d31" stroke="#e67d31"/>
<path d="M863.6 242.5L867.8 234.8L798.1 257.1Z" fill="#e87e32" stroke="#e87e32"/>
<path d="M793.9 266.1L863.6 242.5L798.1 257.1Z" fill="#e67d31" stroke="#e67d31"/>
<path d="M698.0 300.2L793.9 266.1L798.1 257.1Z" fill="#e67d31" stroke="#e67d31"/>
<path d="M698.0 300.2L798.1 257.1L702.2 292.7Z" fill="#e87e32" stroke="#e87e32"/>
<path d="M698.0 300.2L702.2 292.7L628.2 323.5Z" fill="#e77e32" stroke="#e77e32"/>
<path d="M624.0 330.8L698.0 300.2L628.2 323.5Z" fill="#e67d31" stroke="#e67d31"/>
<path d="M584.8 358.4L624.0 330.8L628.2 323.5Z" fill="#e67d31" stroke="#e67d31"/>
<path d="M584.8 358.4L628.2 323.5L588.9 355.0Z" fill="#e67d31" stroke="#e67d31"/>
<path d="M584.8 358.4L588.9 355.0L541.0 382.5Z" fill="#7f421a" stroke="#7f421a"/>
<path d="M536.8 393.3L584.8 358.4L541.0 382.5Z" fill="#954e20" stroke="#954e20"/>
<path d="M493.3 406.8L536.8 393.3L541.0 382.5Z" fill="#9b5222" stroke="#9b5222"/>
<path d="M493.3 406.8L541.0 382.5L497.4 402.7Z" fill="#86461c" stroke="#86461c"/>
<path d="M933.1 210.6L937.3 216.7L872.0 234.1Z" fill="#e97f33" stroke="#e97f33"/>
<path d="M867.8 234.8L933.1 210.6L872.0 234.1Z" fill="#f08638" stroke="#f08638"/>
<path d="M798.1 257.1L867.8 234.8L872.0 234.1Z" fill="#f08638" stroke="#f08638"/>
<path d="M798.1 257.1L872.0 234.1L802.3 266.1Z" fill="#e57d32" stroke="#e57d32"/>
<path d="M798.1 257.1L802.3 266.1L706.4 303.5Z" fill="#e57c31" stroke="#e57c31"/>
<path d="M702.2 292.7L798.1 257.1L706.4 303.5Z" fill="#e47c32" stroke="#e47c32"/>
<path d="M628.2 323.5L702.2 292.7L706.4 303.5Z" fill="#e37c32" stroke="#e37c32"/>
<path d="M628.2 323.5L706.4 303.5L632.3 324.9Z" fill="#ef8538" stroke="#ef8538"/>
<path d="M628.2 323.5L632.3 324.9L593.1 353.4Z" fill="#ee8335" stroke="#ee8335"/>
<path d="M588.9 355.0L628.2 323.5L593.1 353.4Z" fill="#ed8235" stroke="#ed8235"/>
<path d="M541.0 382.5L588.9 355.0L593.1 353.4Z" fill="#ea8033" stroke="#ea8033"/>
<path d="M541.0 382.5L593.1 353.4L545.2 379.0Z" fill="#81431a" stroke="#81431a"/>
<path d="M541.0 382.5L545.2 379.0L501.6 398.4Z" fill="#83451b" stroke="#83451b"/>
<path d="M497.4 402.7L541.0 382.5L501.6 398.4Z" fill="#87471c" stroke="#87471c"/>
<path d="M872.0 234.1L937.3 216.7L941.5 234.5Z" fill="#e0782f" stroke="#e0782f"/>
<path d="M872.0 234.1L941.5 234.5L876.2 258.2Z" fill="#de772e" stroke="#de772e"/>
<path d="M872.0 234.1L876.2 258.2L806.4 280.6Z" fill="#df782e" stroke="#df782e"/>
<path d="M802.3 266.1L872.0 234.1L806.4 280.6Z" fill="#e0792f" stroke="#e0792f"/>
<path d="M706.4 303.5L802.3 266.1L806.4 280.6Z" fill="#df782e" stroke="#df782e"/>
<path d="M706.4 303.5L806.4 280.6L710.6 323.1Z" fill="#e0782f" stroke="#e0782f"/>
<path d="M706.4 303.5L710.6 323.1L636.5 345.6Z" fill="#e0792f" stroke="#e0792f"/>
<path d="M632.3 324.9L706.4 303.5L636.5 345.6Z" fill="#e0782f" stroke="#e0782f"/>
<path d="M593.1 353.4L632.3 324.9L636.5 345.6Z" fill="#e27a31" stroke="#e27a31"/>
<path d="M593.1 353.4L636.5 345.6L597.3 360.6Z" fill="#e87e32" stroke="#e87e32"/>
<path d="M593.1 353.4L597.3 360.6L549.4 378.3Z" fill="#e67d33" stroke="#e67d33"/>
<path d="M545.2 379.0L593.1 353.4L549.4 378.3Z" fill="#f08537" stroke="#f08537"/>
<path d="M501.6 398.4L545.2 379.0L549.4 378.3Z" fill="#ed8235" stroke="#ed8235"/>
<path d="M501.6 398.4L549.4 378.3L505.8 395.2Z" fill="#83451b" stroke="#83451b"/>
<path d="M941.5 234.5L945.7 244.9L880.3 267.7Z" fill="#e47b31" stroke="#e47b31"/>
<path d="M876.2 258.2L941.5 234.5L880.3 267.7Z" fill="#e37b30" stroke="#e37b30"/>
<path d="M806.4 280.6L876.2 258.2L880.3 267.7Z" fill="#e37b30" stroke="#e37b30"/>
<path d="M806.4 280.6L880.3 267.7L810.6 291.4Z" fill="#e47b31" stroke="#e47b31"/>
<path d="M806.4 280.6L810.6 291.4L714.8 320.5Z" fill="#e47c32" stroke="#e47c32"/>
<path d="M710.6 323.1L806.4 280.6L714.8 320.5Z" fill="#eb8134" stroke="#eb8134"/>
<path d="M636.5 345.6L710.6 323.1L714.8 320.5Z" fill="#ec8134" stroke="#ec8134"/>
<path d="M636.5 345.6L714.8 320.5L640.7 354.7Z" fill="#e57d32" stroke="#e57d32"/>
<path d="M636.5 345.6L640.7 354.7L601.5 370.2Z" fill="#e57d32" stroke="#e57d32"/>
<path d="M597.3 360.6L636.5 345.6L601.5 370.2Z" fill="#e57c31" stroke="#e57c31"/>
<path d="M549.4 378.3L597.3 360.6L601.5 370.2Z" fill="#e47c32" stroke="#e47c32"/>
<path d="M549.4 378.3L601.5 370.2L553.6 380.7Z" fill="#ef8336" stroke="#ef8336"/>
<path d="M549.4 378.3L553.6 380.7L510.0 395.3Z" fill="#ee8335" stroke="#ee8335"/>
<path d="M505.8 395.2L549.4 378.3L510.0 395.3Z" fill="#ef8437" stroke="#ef8437"/>
<path d="M880.3 267.7L945.7 244.9L949.9 248.7Z" fill="#eb8135" stroke="#eb8135"/>
<path d="M880.3 267.7L949.9 248.7L884.5 270.9Z" fill="#ed8235" stroke="#ed8235"/>
<path d="M880.3 267.7L884.5 270.9L814.8 290.3Z" fill="#ec8235" stroke="#ec8235"/>
<path d="M810.6 291.4L880.3 267.7L814.8 290.3Z" fill="#ef873b" stroke="#ef873b"/>
<path d="M714.8 320.5L810.6 291.4L814.8 290.3Z" fill="#f0873a" stroke="#f0873a"/>
<path d="M714.8 320.5L814.8 290.3L719.0 327.1Z" fill="#e87e33" stroke="#e87e33"/>
<path d="M714.8 320.5L719.0 327.1L644.9 348.3Z" fill="#e77e33" stroke="#e77e33"/>
<path d="M640.7 354.7L714.8 320.5L644.9 348.3Z" fill="#ef8336" stroke="#ef8336"/>
<path d="M601.5 370.2L640.7 354.7L644.9 348.3Z" fill="#ef8336" stroke="#ef8336"/>
<path d="M601.5 370.2L644.9 348.3L605.7 369.9Z" fill="#f08538" stroke="#f08538"/>
<path d="M601.5 370.2L605.7 369.9L557.7 385.1Z" fill="#f08538" stroke="#f08538"/>
<path d="M553.6 380.7L601.5 370.2L557.7 385.1Z" fill="#e98034" stroke="#e98034"/>
<path d="M510.0 395.3L553.6 380.7L557.7 385.1Z" fill="#e87f33" stroke="#e87f33"/>
<path d="M510.0 395.3L557.7 385.1L514.2 393.9Z" fill="#7d4119" stroke="#7d4119"/>
<path d="M949.9 248.7L954.1 253.0L888.7 274.2Z" fill="#ec8134" stroke="#ec8134"/>
<path d="M884.5 270.9L949.9 248.7L888.7 274.2Z" fill="#ed8235" stroke="#ed8235"/>
<path d="M814.8 290.3L884.5 270.9L888.7 274.2Z" fill="#ec8235" stroke="#ec8235"/>
<path d="M814.8 290.3L888.7 274.2L819.0 304.1Z" fill="#e37b31" stroke="#e37b31"/>
<path d="M814.8 290.3L819.0 304.1L723.1 334.6Z" fill="#e37b31" stroke="#e37b31"/>
<path d="M719.0 327.1L814.8 290.3L723.1 334.6Z" fill="#e77d32" stroke="#e77d32"/>
<path d="M644.9 348.3L719.0 327.1L723.1 334.6Z" fill="#e77e32" stroke="#e77e32"/>
<path d="M644.9 348.3L723.1 334.6L649.1 353.5Z" fill="#ea8034" stroke="#ea8034"/>
<path d="M644.9 348.3L649.1 353.5L609.9 370.7Z" fill="#e97f33" stroke="#e97f33"/>
<path d="M605.7 369.9L644.9 348.3L609.9 370.7Z" fill="#f08437" stroke="#f08437"/>
<path d="M557.7 385.1L605.7 369.9L609.9 370.7Z" fill="#ef8436" stroke="#ef8436"/>
<path d="M557.7 385.1L609.9 370.7L561.9 383.1Z" fill="#7f421a" stroke="#7f421a"/>
<path d="M557.7 385.1L561.9 383.1L518.4 397.9Z" fill="#7d4119" stroke="#7d4119"/>
<path d="M514.2 393.9L557.7 385.1L518.4 397.9Z" fill="#e67e33" stroke="#e67e33"/>
<path d="M888.7 274.2L954.1 253.0L958.2 256.4Z" fill="#eb8235" stroke="#eb8235"/>
<path d="M888.7 274.2L958.2 256.4L892.9 279.4Z" fill="#ea7f33" stroke="#ea7f33"/>
<path d="M888.7 274.2L892.9 279.4L823.2 311.1Z" fill="#e97f33" stroke="#e97f33"/>
<path d="M819.0 304.1L888.7 274.2L823.2 311.1Z" fill="#e77d32" stroke="#e77d32"/>
<path d="M723.1 334.6L819.0 304.1L823.2 311.1Z" fill="#e77d32" stroke="#e77d32"/>
<path d="M723.1 334.6L823.2 311.1L727.3 335.3Z" fill="#ed8539" stroke="#ed8539"/>
<path d="M723.1 334.6L727.3 335.3L653.2 358.1Z" fill="#ed8539" stroke="#ed8539"/>
<path d="M649.1 353.5L723.1 334.6L653.2 358.1Z" fill="#ea8034" stroke="#ea8034"/>
<path d="M609.9 370.7L649.1 353.5L653.2 358.1Z" fill="#eb8034" stroke="#eb8034"/>
<path d="M609.9 370.7L653.2 358.1L614.0 378.2Z" fill="#e67d32" stroke="#e67d32"/>
<path d="M609.9 370.7L614.0 378.2L566.1 381.2Z" fill="#e67d32" stroke="#e67d32"/>
<path d="M561.9 383.1L609.9 370.7L566.1 381.2Z" fill="#7e421a" stroke="#7e421a"/>
<path d="M518.4 397.9L561.9 383.1L566.1 381.2Z" fill="#7c4019" stroke="#7c4019"/>
<path d="M518.4 397.9L566.1 381.2L522.5 398.8Z" fill="#ef8437" stroke="#ef8437"/>
<path d="M958.2 256.4L962.4 264.0L897.1 285.0Z" fill="#e47b31" stroke="#e47b31"/>
<path d="M892.9 279.4L958.2 256.4L897.1 285.0Z" fill="#e67e33" stroke="#e67e33"/>
<path d="M823.2 311.1L892.9 279.4L897.1 285.0Z" fill="#e67e32" stroke="#e67e32"/>
<path d="M823.2 311.1L897.1 285.0L827.4 320.6Z" fill="#e27a30" stroke="#e27a30"/>
<path d="M823.2 311.1L827.4 320.6L731.5 351.7Z" fill="#e1792f" stroke="#e1792f"/>
<path d="M727.3 335.3L823.2 311.1L731.5 351.7Z" fill="#e0792f" stroke="#e0792f"/>
<path d="M653.2 358.1L727.3 335.3L731.5 351.7Z" fill="#e1792f" stroke="#e1792f"/>
<path d="M653.2 358.1L731.5 351.7L657.4 371.1Z" fill="#e0782e" stroke="#e0782e"/>
<path d="M653.2 358.1L657.4 371.1L618.2 379.5Z" fill="#e27a30" stroke="#e27a30"/>
<path d="M614.0 378.2L653.2 358.1L618.2 379.5Z" fill="#ec8438" stroke="#ec8438"/>
<path d="M566.1 381.2L614.0 378.2L618.2 379.5Z" fill="#ee8538" stroke="#ee8538"/>
<path d="M566.1 381.2L618.2 379.5L570.3 389.7Z" fill="#e57d32" stroke="#e57d32"/>
<path d="M566.1 381.2L570.3 389.7L526.7 403.1Z" fill="#e67d32" stroke="#e67d32"/>
<path d="M522.5 398.8L566.1 381.2L526.7 403.1Z" fill="#eb8134" stroke="#eb8134"/>
<path d="M897.1 285.0L962.4 264.0L966.6 286.5Z" fill="#df782e" stroke="#df782e"/>
<path d="M897.1 285.0L966.6 286.5L901.2 308.0Z" fill="#df782f" stroke="#df782f"/>
<path d="M897.1 285.0L901.2 308.0L831.5 336.6Z" fill="#e0782f" stroke="#e0782f"/>
<path d="M827.4 320.6L897.1 285.0L831.5 336.6Z" fill="#e0792f" stroke="#e0792f"/>
<path d="M731.5 351.7L827.4 320.6L831.5 336.6Z" fill="#df782e" stroke="#df782e"/>
<path d="M731.5 351.7L831.5 336.6L735.7 374.6Z" fill="#df782f" stroke="#df782f"/>
<path d="M731.5 351.7L735.7 374.6L661.6 403.4Z" fill="#df782f" stroke="#df782f"/>
<path d="M657.4 371.1L731.5 351.7L661.6 403.4Z" fill="#dc762d" stroke="#dc762d"/>
<path d="M618.2 379.5L657.4 371.1L661.6 403.4Z" fill="#df782f" stroke="#df782f"/>
<path d="M618.2 379.5L661.6 403.4L622.4 384.0Z" fill="#e98034" stroke="#e98034"/>
<path d="M618.2 379.5L622.4 384.0L574.5 398.6Z" fill="#e87f33" stroke="#e87f33"/>
<path d="M570.3 389.7L618.2 379.5L574.5 398.6Z" fill="#e47c31" stroke="#e47c31"/>
<path d="M526.7 403.1L570.3 389.7L574.5 398.6Z" fill="#e47b30" stroke="#e47b30"/>
<path d="M526.7 403.1L574.5 398.6L530.9 414.3Z" fill="#e37b30" stroke="#e37b30"/>
<path d="M966.6 286.5L970.8 286.6L905.4 311.8Z" fill="#ec853a" stroke="#ec853a"/>
<path d="M901.2 308.0L966.6 286.5L905.4 311.8Z" fill="#e98035" stroke="#e98035"/>
<path d="M831.5 336.6L901.2 308.0L905.4 311.8Z" fill="#e98035" stroke="#e98035"/>
<path d="M831.5 336.6L905.4 311.8L835.7 338.7Z" fill="#eb8337" stroke="#eb8337"/>
<path d="M831.5 336.6L835.7 338.7L739.9 363.5Z" fill="#ed8337" stroke="#ed8337"/>
<path d="M735.7 374.6L831.5 336.6L739.9 363.5Z" fill="#ed8134" stroke="#ed8134"/>
<path d="M661.6 403.4L735.7 374.6L739.9 363.5Z" fill="#ee8235" stroke="#ee8235"/>
<path d="M661.6 403.4L739.9 363.5L665.8 392.7Z" fill="#ee8235" stroke="#ee8235"/>
<path d="M661.6 403.4L665.8 392.7L626.6 397.1Z" fill="#ea7f33" stroke="#ea7f33"/>
<path d="M622.4 384.0L661.6 403.4L626.6 397.1Z" fill="#e27a30" stroke="#e27a30"/>
<path d="M574.5 398.6L622.4 384.0L626.6 397.1Z" fill="#e17a30" stroke="#e17a30"/>
<path d="M574.5 398.6L626.6 397.1L578.7 402.0Z" fill="#e88035" stroke="#e88035"/>
<path d="M574.5 398.6L578.7 402.0L535.1 420.9Z" fill="#e98035" stroke="#e98035"/>
<path d="M530.9 414.3L574.5 398.6L535.1 420.9Z" fill="#e67d32" stroke="#e67d32"/>
<path d="M905.4 311.8L970.8 286.6L975.0 314.4Z" fill="#e17930" stroke="#e17930"/>
<path d="M905.4 311.8L975.0 314.4L909.6 336.6Z" fill="#e17a30" stroke="#e17a30"/>
<path d="M905.4 311.8L909.6 336.6L839.9 359.4Z" fill="#e17a30" stroke="#e17a30"/>
<path d="M835.7 338.7L905.4 311.8L839.9 359.4Z" fill="#e17a30" stroke="#e17a30"/>
<path d="M739.9 363.5L835.7 338.7L839.9 359.4Z" fill="#e17a31" stroke="#e17a31"/>
<path d="M739.9 363.5L839.9 359.4L744.0 391.2Z" fill="#df7930" stroke="#df7930"/>
<path d="M739.9 363.5L744.0 391.2L670.0 401.3Z" fill="#e07930" stroke="#e07930"/>
<path d="M665.8 392.7L739.9 363.5L670.0 401.3Z" fill="#e57d32" stroke="#e57d32"/>
<path d="M626.6 397.1L665.8 392.7L670.0 401.3Z" fill="#e57c31" stroke="#e57c31"/>
<path d="M626.6 397.1L670.0 401.3L630.8 408.8Z" fill="#e37b30" stroke="#e37b30"/>
<path d="M626.6 397.1L630.8 408.8L582.8 415.6Z" fill="#e37b30" stroke="#e37b30"/>
<path d="M578.7 402.0L626.6 397.1L582.8 415.6Z" fill="#e27a30" stroke="#e27a30"/>
<path d="M535.1 420.9L578.7 402.0L582.8 415.6Z" fill="#e27a30" stroke="#e27a30"/>
<path d="M535.1 420.9L582.8 415.6L539.3 428.4Z" fill="#e57c31" stroke="#e57c31"/>
<path d="M975.0 314.4L979.1 308.5L913.8 334.7Z" fill="#ec8134" stroke="#ec8134"/>
<path d="M909.6 336.6L975.0 314.4L913.8 334.7Z" fill="#ee8335" stroke="#ee8335"/>
<path d="M839.9 359.4L909.6 336.6L913.8 334.7Z" fill="#ef8335" stroke="#ef8335"/>
<path d="M839.9 359.4L913.8 334.7L844.1 357.4Z" fill="#ee8335" stroke="#ee8335"/>
<path d="M839.9 359.4L844.1 357.4L748.2 389.8Z" fill="#ef8336" stroke="#ef8336"/>
<path d="M744.0 391.2L839.9 359.4L748.2 389.8Z" fill="#ee8335" stroke="#ee8335"/>
<path d="M670.0 401.3L744.0 391.2L748.2 389.8Z" fill="#ed8134" stroke="#ed8134"/>
<path d="M670.0 401.3L748.2 389.8L674.2 414.4Z" fill="#e27b31" stroke="#e27b31"/>
<path d="M670.0 401.3L674.2 414.4L634.9 407.2Z" fill="#e27b31" stroke="#e27b31"/>
<path d="M630.8 408.8L670.0 401.3L634.9 407.2Z" fill="#ea7f33" stroke="#ea7f33"/>
<path d="M582.8 415.6L630.8 408.8L634.9 407.2Z" fill="#80431a" stroke="#80431a"/>
<path d="M582.8 415.6L634.9 407.2L587.0 421.8Z" fill="#e77d32" stroke="#e77d32"/>
<path d="M582.8 415.6L587.0 421.8L543.4 436.7Z" fill="#e57d32" stroke="#e57d32"/>
<path d="M539.3 428.4L582.8 415.6L543.4 436.7Z" fill="#e47b30" stroke="#e47b30"/>
<path d="M913.8 334.7L979.1 308.5L983.3 308.8Z" fill="#e77e32" stroke="#e77e32"/>
<path d="M913.8 334.7L983.3 308.8L918.0 333.8Z" fill="#e97f33" stroke="#e97f33"/>
<path d="M913.8 334.7L918.0 333.8L848.3 359.1Z" fill="#eb8034" stroke="#eb8034"/>
<path d="M844.1 357.4L913.8 334.7L848.3 359.1Z" fill="#e87e33" stroke="#e87e33"/>
<path d="M748.2 389.8L844.1 357.4L848.3 359.1Z" fill="#ec8134" stroke="#ec8134"/>
<path d="M748.2 389.8L848.3 359.1L752.4 395.5Z" fill="#e37c32" stroke="#e37c32"/>
<path d="M748.2 389.8L752.4 395.5L678.3 416.0Z" fill="#e37b32" stroke="#e37b32"/>
<path d="M674.2 414.4L748.2 389.8L678.3 416.0Z" fill="#ef8335" stroke="#ef8335"/>
<path d="M634.9 407.2L674.2 414.4L678.3 416.0Z" fill="#ee8437" stroke="#ee8437"/>
<path d="M634.9 407.2L678.3 416.0L639.1 426.7Z" fill="#de7830" stroke="#de7830"/>
<path d="M634.9 407.2L639.1 426.7L591.2 435.2Z" fill="#e17a30" stroke="#e17a30"/>
<path d="M587.0 421.8L634.9 407.2L591.2 435.2Z" fill="#e27a30" stroke="#e27a30"/>
<path d="M543.4 436.7L587.0 421.8L591.2 435.2Z" fill="#e27a30" stroke="#e27a30"/>
<path d="M543.4 436.7L591.2 435.2L547.6 447.2Z" fill="#e37b30" stroke="#e37b30"/>
<path d="M983.3 308.8L987.5 306.3L922.2 328.5Z" fill="#e97e32" stroke="#e97e32"/>
<path d="M918.0 333.8L983.3 308.8L922.2 328.5Z" fill="#e87e32" stroke="#e87e32"/>
<path d="M848.3 359.1L918.0 333.8L922.2 328.5Z" fill="#e97f33" stroke="#e97f33"/>
<path d="M848.3 359.1L922.2 328.5L852.4 358.0Z" fill="#e87e32" stroke="#e87e32"/>
<path d="M848.3 359.1L852.4 358.0L756.6 392.0Z" fill="#e97f33" stroke="#e97f33"/>
<path d="M752.4 395.5L848.3 359.1L756.6 392.0Z" fill="#eb8034" stroke="#eb8034"/>
<path d="M678.3 416.0L752.4 395.5L756.6 392.0Z" fill="#ea8033" stroke="#ea8033"/>
<path d="M678.3 416.0L756.6 392.0L682.5 401.5Z" fill="#ea8033" stroke="#ea8033"/>
<path d="M678.3 416.0L682.5 401.5L643.3 421.5Z" fill="#ee8235" stroke="#ee8235"/>
<path d="M639.1 426.7L678.3 416.0L643.3 421.5Z" fill="#ee8335" stroke="#ee8335"/>
<path d="M591.2 435.2L639.1 426.7L643.3 421.5Z" fill="#934d1f" stroke="#934d1f"/>
<path d="M591.2 435.2L643.3 421.5L595.4 437.6Z" fill="#ee8336" stroke="#ee8336"/>
<path d="M591.2 435.2L595.4 437.6L551.8 453.3Z" fill="#ec8337" stroke="#ec8337"/>
<path d="M547.6 447.2L591.2 435.2L551.8 453.3Z" fill="#e87e32" stroke="#e87e32"/>
<path d="M922.2 328.5L987.5 306.3L991.7 304.8Z" fill="#ea7f33" stroke="#ea7f33"/>
<path d="M922.2 328.5L991.7 304.8L926.3 324.0Z" fill="#eb8034" stroke="#eb8034"/>
<path d="M922.2 328.5L926.3 324.0L856.6 352.2Z" fill="#eb8134" stroke="#eb8134"/>
<path d="M852.4 358.0L922.2 328.5L856.6 352.2Z" fill="#e97f33" stroke="#e97f33"/>
<path d="M756.6 392.0L852.4 358.0L856.6 352.2Z" fill="#ea7f33" stroke="#ea7f33"/>
<path d="M756.6 392.0L856.6 352.2L760.8 387.3Z" fill="#ec8134" stroke="#ec8134"/>
<path d="M756.6 392.0L760.8 387.3L686.7 407.1Z" fill="#ef8335" stroke="#ef8335"/>
<path d="M682.5 401.5L756.6 392.0L686.7 407.1Z" fill="#e37c32" stroke="#e37c32"/>
<path d="M643.3 421.5L682.5 401.5L686.7 407.1Z" fill="#e87e33" stroke="#e87e33"/>
<path d="M643.3 421.5L686.7 407.1L647.5 425.3Z" fill="#ed8134" stroke="#ed8134"/>
<path d="M643.3 421.5L647.5 425.3L599.6 445.6Z" fill="#ec8134" stroke="#ec8134"/>
<path d="M595.4 437.6L643.3 421.5L599.6 445.6Z" fill="#e57d32" stroke="#e57d32"/>
<path d="M551.8 453.3L595.4 437.6L599.6 445.6Z" fill="#e67d32" stroke="#e67d32"/>
<path d="M551.8 453.3L599.6 445.6L556.0 457.4Z" fill="#ec8134" stroke="#ec8134"/>
<path d="M991.7 304.8L995.9 311.0L930.5 333.5Z" fill="#e67d32" stroke="#e67d32"/>
<path d="M926.3 324.0L991.7 304.8L930.5 333.5Z" fill="#e57c31" stroke="#e57c31"/>
<path d="M856.6 352.2L926.3 324.0L930.5 333.5Z" fill="#e57c32" stroke="#e57c32"/>
<path d="M856.6 352.2L930.5 333.5L860.8 357.0Z" fill="#ea8033" stroke="#ea8033"/>
<path d="M856.6 352.2L860.8 357.0L765.0 396.5Z" fill="#eb8034" stroke="#eb8034"/>
<path d="M760.8 387.3L856.6 352.2L765.0 396.5Z" fill="#e47c32" stroke="#e47c32"/>
<path d="M686.7 407.1L760.8 387.3L765.0 396.5Z" fill="#e57d32" stroke="#e57d32"/>
<path d="M686.7 407.1L765.0 396.5L690.9 412.8Z" fill="#e87e33" stroke="#e87e33"/>
<path d="M686.7 407.1L690.9 412.8L651.7 441.7Z" fill="#e97f33" stroke="#e97f33"/>
<path d="M647.5 425.3L686.7 407.1L651.7 441.7Z" fill="#e27a31" stroke="#e27a31"/>
<path d="M599.6 445.6L647.5 425.3L651.7 441.7Z" fill="#e27a31" stroke="#e27a31"/>
<path d="M599.6 445.6L651.7 441.7L603.7 445.3Z" fill="#f08639" stroke="#f08639"/>
<path d="M599.6 445.6L603.7 445.3L560.2 460.5Z" fill="#f08538" stroke="#f08538"/>
<path d="M556.0 457.4L599.6 445.6L560.2 460.5Z" fill="#ee8235" stroke="#ee8235"/>
<path d="M930.5 333.5L995.9 311.0L1000.1 328.4Z" fill="#dd762d" stroke="#dd762d"/>
<path d="M930.5 333.5L1000.1 328.4L934.7 349.0Z" fill="#dc752d" stroke="#dc752d"/>
<path d="M930.5 333.5L934.7 349.0L865.0 379.9Z" fill="#dc762d" stroke="#dc762d"/>
<path d="M860.8 357.0L930.5 333.5L865.0 379.9Z" fill="#dd762d" stroke="#dd762d"/>
<path d="M765.0 396.5L860.8 357.0L865.0 379.9Z" fill="#df782e" stroke="#df782e"/>
<path d="M765.0 396.5L865.0 379.9L769.1 397.4Z" fill="#e9843a" stroke="#e9843a"/>
<path d="M765.0 396.5L769.1 397.4L695.1 432.1Z" fill="#ea8439" stroke="#ea8439"/>
<path d="M690.9 412.8L765.0 396.5L695.1 432.1Z" fill="#e0792f" stroke="#e0792f"/>
<path d="M651.7 441.7L690.9 412.8L695.1 432.1Z" fill="#e17930" stroke="#e17930"/>
<path d="M651.7 441.7L695.1 432.1L655.9 434.8Z" fill="#ea7f33" stroke="#ea7f33"/>
<path d="M651.7 441.7L655.9 434.8L607.9 443.5Z" fill="#975020" stroke="#975020"/>
<path d="M603.7 445.3L651.7 441.7L607.9 443.5Z" fill="#84451b" stroke="#84451b"/>
<path d="M560.2 460.5L603.7 445.3L607.9 443.5Z" fill="#7b4019" stroke="#7b4019"/>
<path d="M560.2 460.5L607.9 443.5L564.4 464.4Z" fill="#ec8134" stroke="#ec8134"/>
<path d="M1000.1 328.4L1004.2 366.2L938.9 393.6Z" fill="#d9732b" stroke="#d9732b"/>
<path d="M934.7 349.0L1000.1 328.4L938.9 393.6Z" fill="#d9732b" stroke="#d9732b"/>
<path d="M865.0 379.9L934.7 349.0L938.9 393.6Z" fill="#d9732b" stroke="#d9732b"/>
<path d="M865.0 379.9L938.9 393.6L869.2 416.9Z" fill="#d9732b" stroke="#d9732b"/>
<path d="M865.0 379.9L869.2 416.9L773.3 459.0Z" fill="#d9732b" stroke="#d9732b"/>
<path d="M769.1 397.4L865.0 379.9L773.3 459.0Z" fill="#da742c" stroke="#da742c"/>
<path d="M695.1 432.1L769.1 397.4L773.3 459.0Z" fill="#db752c" stroke="#db752c"/>
<path d="M695.1 432.1L773.3 459.0L699.3 487.8Z" fill="#d9732b" stroke="#d9732b"/>
<path d="M695.1 432.1L699.3 487.8L660.0 510.2Z" fill="#d9732b" stroke="#d9732b"/>
<path d="M655.9 434.8L695.1 432.1L660.0 510.2Z" fill="#db752c" stroke="#db752c"/>
<path d="M607.9 443.5L655.9 434.8L660.0 510.2Z" fill="#dd762e" stroke="#dd762e"/>
<path d="M607.9 443.5L660.0 510.2L612.1 520.2Z" fill="#db752c" stroke="#db752c"/>
<path d="M607.9 443.5L612.1 520.2L568.5 540.0Z" fill="#dc752d" stroke="#dc752d"/>
<path d="M564.4 464.4L607.9 443.5L568.5 540.0Z" fill="#dd772e" stroke="#dd772e"/>
<path d="M938.9 393.6L1004.2 366.2L1008.4 382.1Z" fill="#de772e" stroke="#de772e"/>
<path d="M938.9 393.6L1008.4 382.1L943.1 404.5Z" fill="#e27a30" stroke="#e27a30"/>
<path d="M938.9 393.6L943.1 404.5L873.4 429.8Z" fill="#e27a30" stroke="#e27a30"/>
<path d="M869.2 416.9L938.9 393.6L873.4 429.8Z" fill="#df782e" stroke="#df782e"/>
<path d="M773.3 459.0L869.2 416.9L873.4 429.8Z" fill="#df782e" stroke="#df782e"/>
<path d="M773.3 459.0L873.4 429.8L777.5 475.3Z" fill="#e1792f" stroke="#e1792f"/>
<path d="M773.3 459.0L777.5 475.3L703.4 502.6Z" fill="#e0792f" stroke="#e0792f"/>
<path d="M699.3 487.8L773.3 459.0L703.4 502.6Z" fill="#de772e" stroke="#de772e"/>
<path d="M660.0 510.2L699.3 487.8L703.4 502.6Z" fill="#de772e" stroke="#de772e"/>
<path d="M660.0 510.2L703.4 502.6L664.2 521.0Z" fill="#e27a30" stroke="#e27a30"/>
<path d="M660.0 510.2L664.2 521.0L616.3 536.4Z" fill="#e37a30" stroke="#e37a30"/>
<path d="M612.1 520.2L660.0 510.2L616.3 536.4Z" fill="#de772e" stroke="#de772e"/>
<path d="M568.5 540.0L612.1 520.2L616.3 536.4Z" fill="#df782f" stroke="#df782f"/>
<path d="M568.5 540.0L616.3 536.4L572.7 548.4Z" fill="#e57c31" stroke="#e57c31"/>
<path d="M1008.4 382.1L1012.6 381.2L947.3 405.5Z" fill="#ee8436" stroke="#ee8436"/>
<path d="M943.1 404.5L1008.4 382.1L947.3 405.5Z" fill="#ef8436" stroke="#ef8436"/>
<path d="M873.4 429.8L943.1 404.5L947.3 405.5Z" fill="#f08537" stroke="#f08537"/>
<path d="M873.4 429.8L947.3 405.5L877.5 434.0Z" fill="#e97f34" stroke="#e97f34"/>
<path d="M873.4 429.8L877.5 434.0L781.7 472.0Z" fill="#eb8034" stroke="#eb8034"/>
<path d="M777.5 475.3L873.4 429.8L781.7 472.0Z" fill="#ef8335" stroke="#ef8335"/>
<path d="M703.4 502.6L777.5 475.3L781.7 472.0Z" fill="#ee8335" stroke="#ee8335"/>
<path d="M703.4 502.6L781.7 472.0L707.6 508.2Z" fill="#e87f33" stroke="#e87f33"/>
<path d="M703.4 502.6L707.6 508.2L668.4 520.2Z" fill="#e77e33" stroke="#e77e33"/>
<path d="M664.2 521.0L703.4 502.6L668.4 520.2Z" fill="#f08639" stroke="#f08639"/>
<path d="M616.3 536.4L664.2 521.0L668.4 520.2Z" fill="#f08639" stroke="#f08639"/>
<path d="M616.3 536.4L668.4 520.2L620.5 538.2Z" fill="#ee8335" stroke="#ee8335"/>
<path d="M616.3 536.4L620.5 538.2L576.9 552.3Z" fill="#ef8436" stroke="#ef8436"/>
<path d="M572.7 548.4L616.3 536.4L576.9 552.3Z" fill="#ec8134" stroke="#ec8134"/>
<path d="M947.3 405.5L1012.6 381.2L1016.8 378.9Z" fill="#ed8235" stroke="#ed8235"/>
<path d="M947.3 405.5L1016.8 378.9L951.4 400.3Z" fill="#ee8335" stroke="#ee8335"/>
<path d="M947.3 405.5L951.4 400.3L881.7 432.7Z" fill="#ef8336" stroke="#ef8336"/>
<path d="M877.5 434.0L947.3 405.5L881.7 432.7Z" fill="#f08538" stroke="#f08538"/>
<path d="M781.7 472.0L877.5 434.0L881.7 432.7Z" fill="#f18639" stroke="#f18639"/>
<path d="M781.7 472.0L881.7 432.7L785.9 476.2Z" fill="#eb8034" stroke="#eb8034"/>
<path d="M781.7 472.0L785.9 476.2L711.8 507.1Z" fill="#ea8034" stroke="#ea8034"/>
<path d="M707.6 508.2L781.7 472.0L711.8 507.1Z" fill="#f08639" stroke="#f08639"/>
<path d="M668.4 520.2L707.6 508.2L711.8 507.1Z" fill="#f08538" stroke="#f08538"/>
<path d="M668.4 520.2L711.8 507.1L672.6 518.2Z" fill="#ef8336" stroke="#ef8336"/>
<path d="M668.4 520.2L672.6 518.2L624.7 535.1Z" fill="#7c4119" stroke="#7c4119"/>
<path d="M620.5 538.2L668.4 520.2L624.7 535.1Z" fill="#83441b" stroke="#83441b"/>
<path d="M576.9 552.3L620.5 538.2L624.7 535.1Z" fill="#84451b" stroke="#84451b"/>
<path d="M576.9 552.3L624.7 535.1L581.1 549.2Z" fill="#85451b" stroke="#85451b"/>
<path d="M1016.8 378.9L1021.0 387.0L955.6 413.0Z" fill="#e47c32" stroke="#e47c32"/>
<path d="M951.4 400.3L1016.8 378.9L955.6 413.0Z" fill="#e17a31" stroke="#e17a31"/>
<path d="M881.7 432.7L951.4 400.3L955.6 413.0Z" fill="#e17a31" stroke="#e17a31"/>
<path d="M881.7 432.7L955.6 413.0L885.9 439.1Z" fill="#e77e33" stroke="#e77e33"/>
<path d="M881.7 432.7L885.9 439.1L790.1 481.1Z" fill="#e77e33" stroke="#e77e33"/>
<path d="M785.9 476.2L881.7 432.7L790.1 481.1Z" fill="#ea8034" stroke="#ea8034"/>
<path d="M711.8 507.1L785.9 476.2L790.1 481.1Z" fill="#ea8034" stroke="#ea8034"/>
<path d="M711.8 507.1L790.1 481.1L716.0 512.4Z" fill="#e87f33" stroke="#e87f33"/>
<path d="M711.8 507.1L716.0 512.4L676.8 524.1Z" fill="#e87f33" stroke="#e87f33"/>
<path d="M672.6 518.2L711.8 507.1L676.8 524.1Z" fill="#e77e33" stroke="#e77e33"/>
<path d="M624.7 535.1L672.6 518.2L676.8 524.1Z" fill="#e67d33" stroke="#e67d33"/>
<path d="M624.7 535.1L676.8 524.1L628.8 542.4Z" fill="#e47c32" stroke="#e47c32"/>
<path d="M624.7 535.1L628.8 542.4L585.3 551.1Z" fill="#e37b32" stroke="#e37b32"/>
<path d="M581.1 549.2L624.7 535.1L585.3 551.1Z" fill="#ed8235" stroke="#ed8235"/>
<path d="M955.6 413.0L1021.0 387.0L1025.2 384.8Z" fill="#ef8336" stroke="#ef8336"/>
<path d="M955.6 413.0L1025.2 384.8L959.8 412.3Z" fill="#ef8436" stroke="#ef8436"/>
<path d="M955.6 413.0L959.8 412.3L890.1 436.7Z" fill="#ee8336" stroke="#ee8336"/>
<path d="M885.9 439.1L955.6 413.0L890.1 436.7Z" fill="#ef8335" stroke="#ef8335"/>
<path d="M790.1 481.1L885.9 439.1L890.1 436.7Z" fill="#ef8335" stroke="#ef8335"/>
<path d="M790.1 481.1L890.1 436.7L794.2 484.1Z" fill="#ea8034" stroke="#ea8034"/>
<path d="M790.1 481.1L794.2 484.1L720.2 509.7Z" fill="#ed8235" stroke="#ed8235"/>
<path d="M716.0 512.4L790.1 481.1L720.2 509.7Z" fill="#ef8336" stroke="#ef8336"/>
<path d="M676.8 524.1L716.0 512.4L720.2 509.7Z" fill="#ef8336" stroke="#ef8336"/>
<path d="M676.8 524.1L720.2 509.7L681.0 526.5Z" fill="#ed8235" stroke="#ed8235"/>
<path d="M676.8 524.1L681.0 526.5L633.0 539.6Z" fill="#ec8134" stroke="#ec8134"/>
<path d="M628.8 542.4L676.8 524.1L633.0 539.6Z" fill="#81431a" stroke="#81431a"/>
<path d="M585.3 551.1L628.8 542.4L633.0 539.6Z" fill="#86461c" stroke="#86461c"/>
<path d="M585.3 551.1L633.0 539.6L589.5 553.9Z" fill="#e97f34" stroke="#e97f34"/>
<path d="M1025.2 384.8L1029.3 384.4L964.0 410.3Z" fill="#e67d32" stroke="#e67d32"/>
<path d="M959.8 412.3L1025.2 384.8L964.0 410.3Z" fill="#e97f33" stroke="#e97f33"/>
<path d="M890.1 436.7L959.8 412.3L964.0 410.3Z" fill="#e97f33" stroke="#e97f33"/>
<path d="M890.1 436.7L964.0 410.3L894.3 431.5Z" fill="#e87e32" stroke="#e87e32"/>
<path d="M890.1 436.7L894.3 431.5L798.4 485.2Z" fill="#e97f33" stroke="#e97f33"/>
<path d="M794.2 484.1L890.1 436.7L798.4 485.2Z" fill="#e97f33" stroke="#e97f33"/>
<path d="M720.2 509.7L794.2 484.1L798.4 485.2Z" fill="#ed8235" stroke="#ed8235"/>
<path d="M720.2 509.7L798.4 485.2L724.3 516.0Z" fill="#e07a31" stroke="#e07a31"/>
<path d="M720.2 509.7L724.3 516.0L685.1 524.0Z" fill="#e47c32" stroke="#e47c32"/>
<path d="M681.0 526.5L720.2 509.7L685.1 524.0Z" fill="#ef8335" stroke="#ef8335"/>
<path d="M633.0 539.6L681.0 526.5L685.1 524.0Z" fill="#82441b" stroke="#82441b"/>
<path d="M633.0 539.6L685.1 524.0L637.2 541.8Z" fill="#eb8134" stroke="#eb8134"/>
<path d="M633.0 539.6L637.2 541.8L593.6 552.7Z" fill="#ec8134" stroke="#ec8134"/>
<path d="M589.5 553.9L633.0 539.6L593.6 552.7Z" fill="#ef8537" stroke="#ef8537"/>
<path d="M964.0 410.3L1029.3 384.4L1033.5 378.7Z" fill="#e87e32" stroke="#e87e32"/>
<path d="M964.0 410.3L1033.5 378.7L968.2 407.1Z" fill="#e77d32" stroke="#e77d32"/>
<path d="M964.0 410.3L968.2 407.1L898.5 426.4Z" fill="#e87e32" stroke="#e87e32"/>
<path d="M894.3 431.5L964.0 410.3L898.5 426.4Z" fill="#e87e32" stroke="#e87e32"/>
<path d="M798.4 485.2L894.3 431.5L898.5 426.4Z" fill="#e97f32" stroke="#e97f32"/>
<path d="M798.4 485.2L898.5 426.4L802.6 482.5Z" fill="#ea8033" stroke="#ea8033"/>
<path d="M798.4 485.2L802.6 482.5L728.5 510.6Z" fill="#ec8134" stroke="#ec8134"/>
<path d="M724.3 516.0L798.4 485.2L728.5 510.6Z" fill="#ec8134" stroke="#ec8134"/>
<path d="M685.1 524.0L724.3 516.0L728.5 510.6Z" fill="#ee8335" stroke="#ee8335"/>
<path d="M685.1 524.0L728.5 510.6L689.3 528.5Z" fill="#e47c32" stroke="#e47c32"/>
<path d="M685.1 524.0L689.3 528.5L641.4 542.8Z" fill="#e77e33" stroke="#e77e33"/>
<path d="M637.2 541.8L685.1 524.0L641.4 542.8Z" fill="#ef8436" stroke="#ef8436"/>
<path d="M593.6 552.7L637.2 541.8L641.4 542.8Z" fill="#ef8437" stroke="#ef8437"/>
<path d="M593.6 552.7L641.4 542.8L597.8 558.3Z" fill="#e77e33" stroke="#e77e33"/>
<path d="M1033.5 378.7L1037.7 374.6L972.3 399.2Z" fill="#e87e32" stroke="#e87e32"/>
<path d="M968.2 407.1L1033.5 378.7L972.3 399.2Z" fill="#e87e32" stroke="#e87e32"/>
<path d="M898.5 426.4L968.2 407.1L972.3 399.2Z" fill="#e97f32" stroke="#e97f32"/>
<path d="M898.5 426.4L972.3 399.2L902.6 428.8Z" fill="#e27a31" stroke="#e27a31"/>
<path d="M898.5 426.4L902.6 428.8L806.8 482.7Z" fill="#e77e33" stroke="#e77e33"/>
<path d="M802.6 482.5L898.5 426.4L806.8 482.7Z" fill="#ec8134" stroke="#ec8134"/>
<path d="M728.5 510.6L802.6 482.5L806.8 482.7Z" fill="#ee8235" stroke="#ee8235"/>
<path d="M728.5 510.6L806.8 482.7L732.7 512.8Z" fill="#eb8134" stroke="#eb8134"/>
<path d="M728.5 510.6L732.7 512.8L693.5 525.7Z" fill="#ea8034" stroke="#ea8034"/>
<path d="M689.3 528.5L728.5 510.6L693.5 525.7Z" fill="#ee8335" stroke="#ee8335"/>
<path d="M641.4 542.8L689.3 528.5L693.5 525.7Z" fill="#83451b" stroke="#83451b"/>
<path d="M641.4 542.8L693.5 525.7L645.6 544.6Z" fill="#ee8235" stroke="#ee8235"/>
<path d="M641.4 542.8L645.6 544.6L602.0 560.1Z" fill="#ef8335" stroke="#ef8335"/>
<path d="M597.8 558.3L641.4 542.8L602.0 560.1Z" fill="#ef8335" stroke="#ef8335"/>
<path d="M972.3 399.2L1037.7 374.6L1041.9 371.7Z" fill="#e97e32" stroke="#e97e32"/>
<path d="M972.3 399.2L1041.9 371.7L976.5 400.2Z" fill="#e47b31" stroke="#e47b31"/>
<path d="M972.3 399.2L976.5 400.2L906.8 423.6Z" fill="#e67d32" stroke="#e67d32"/>
<path d="M902.6 428.8L972.3 399.2L906.8 423.6Z" fill="#eb8033" stroke="#eb8033"/>
<path d="M806.8 482.7L902.6 428.8L906.8 423.6Z" fill="#ee8335" stroke="#ee8335"/>
<path d="M806.8 482.7L906.8 423.6L811.0 486.0Z" fill="#e67d32" stroke="#e67d32"/>
<path d="M806.8 482.7L811.0 486.0L736.9 514.0Z" fill="#e98034" stroke="#e98034"/>
<path d="M732.7 512.8L806.8 482.7L736.9 514.0Z" fill="#ef8436" stroke="#ef8436"/>
<path d="M693.5 525.7L732.7 512.8L736.9 514.0Z" fill="#ef8336" stroke="#ef8336"/>
<path d="M693.5 525.7L736.9 514.0L697.7 526.2Z" fill="#f08437" stroke="#f08437"/>
<path d="M693.5 525.7L697.7 526.2L649.8 547.0Z" fill="#f08437" stroke="#f08437"/>
<path d="M645.6 544.6L693.5 525.7L649.8 547.0Z" fill="#ec8235" stroke="#ec8235"/>
<path d="M602.0 560.1L645.6 544.6L649.8 547.0Z" fill="#ed8235" stroke="#ed8235"/>
<path d="M602.0 560.1L649.8 547.0L606.2 558.0Z" fill="#80431a" stroke="#80431a"/>
<path d="M1041.9 371.7L1046.1 362.7L980.7 393.0Z" fill="#e47b30" stroke="#e47b30"/>
<path d="M976.5 400.2L1041.9 371.7L980.7 393.0Z" fill="#e67d31" stroke="#e67d31"/>
<path d="M906.8 423.6L976.5 400.2L980.7 393.0Z" fill="#e87e32" stroke="#e87e32"/>
<path d="M906.8 423.6L980.7 393.0L911.0 426.3Z" fill="#df782f" stroke="#df782f"/>
<path d="M906.8 423.6L911.0 426.3L815.1 479.8Z" fill="#e37b31" stroke="#e37b31"/>
<path d="M811.0 486.0L906.8 423.6L815.1 479.8Z" fill="#ec8134" stroke="#ec8134"/>
<path d="M736.9 514.0L811.0 486.0L815.1 479.8Z" fill="#ee8235" stroke="#ee8235"/>
<path d="M736.9 514.0L815.1 479.8L741.1 515.3Z" fill="#ee8235" stroke="#ee8235"/>
<path d="M736.9 514.0L741.1 515.3L701.9 534.3Z" fill="#ef8437" stroke="#ef8437"/>
<path d="M697.7 526.2L736.9 514.0L701.9 534.3Z" fill="#e47c32" stroke="#e47c32"/>
<path d="M649.8 547.0L697.7 526.2L701.9 534.3Z" fill="#e57c32" stroke="#e57c32"/>
<path d="M649.8 547.0L701.9 534.3L653.9 547.5Z" fill="#f08538" stroke="#f08538"/>
<path d="M649.8 547.0L653.9 547.5L610.4 562.5Z" fill="#f08537" stroke="#f08537"/>
<path d="M606.2 558.0L649.8 547.0L610.4 562.5Z" fill="#e97f33" stroke="#e97f33"/>
<path d="M980.7 393.0L1046.1 362.7L1050.2 352.8Z" fill="#e1792f" stroke="#e1792f"/>
<path d="M980.7 393.0L1050.2 352.8L984.9 382.6Z" fill="#e1792f" stroke="#e1792f"/>
<path d="M980.7 393.0L984.9 382.6L915.2 416.7Z" fill="#e1792f" stroke="#e1792f"/>
<path d="M911.0 426.3L980.7 393.0L915.2 416.7Z" fill="#e37b30" stroke="#e37b30"/>
<path d="M815.1 479.8L911.0 426.3L915.2 416.7Z" fill="#e67d31" stroke="#e67d31"/>
<path d="M815.1 479.8L915.2 416.7L819.3 477.5Z" fill="#e47b30" stroke="#e47b30"/>
<path d="M815.1 479.8L819.3 477.5L745.3 521.5Z" fill="#e97f33" stroke="#e97f33"/>
<path d="M741.1 515.3L815.1 479.8L745.3 521.5Z" fill="#e07931" stroke="#e07931"/>
<path d="M701.9 534.3L741.1 515.3L745.3 521.5Z" fill="#e57d32" stroke="#e57d32"/>
<path d="M701.9 534.3L745.3 521.5L706.0 535.8Z" fill="#ed8235" stroke="#ed8235"/>
<path d="M701.9 534.3L706.0 535.8L658.1 549.2Z" fill="#ef8436" stroke="#ef8436"/>
<path d="M653.9 547.5L701.9 534.3L658.1 549.2Z" fill="#ef8436" stroke="#ef8436"/>
<path d="M610.4 562.5L653.9 547.5L658.1 549.2Z" fill="#ee8335" stroke="#ee8335"/>
<path d="M610.4 562.5L658.1 549.2L614.5 564.6Z" fill="#ee8235" stroke="#ee8235"/>
<path d="M1050.2 352.8L1054.4 334.1L989.1 368.8Z" fill="#e27a2f" stroke="#e27a2f"/>
<path d="M984.9 382.6L1050.2 352.8L989.1 368.8Z" fill="#e1792f" stroke="#e1792f"/>
<path d="M915.2 416.7L984.9 382.6L989.1 368.8Z" fill="#e1792f" stroke="#e1792f"/>
<path d="M915.2 416.7L989.1 368.8L919.4 396.3Z" fill="#e37a30" stroke="#e37a30"/>
<path d="M915.2 416.7L919.4 396.3L823.5 463.9Z" fill="#e37b30" stroke="#e37b30"/>
<path d="M819.3 477.5L915.2 416.7L823.5 463.9Z" fill="#e37a30" stroke="#e37a30"/>
<path d="M745.3 521.5L819.3 477.5L823.5 463.9Z" fill="#e77d32" stroke="#e77d32"/>
<path d="M745.3 521.5L823.5 463.9L749.4 516.7Z" fill="#ea7f33" stroke="#ea7f33"/>
<path d="M745.3 521.5L749.4 516.7L710.2 533.1Z" fill="#ed8235" stroke="#ed8235"/>
<path d="M706.0 535.8L745.3 521.5L710.2 533.1Z" fill="#ed8235" stroke="#ed8235"/>
<path d="M658.1 549.2L706.0 535.8L710.2 533.1Z" fill="#83441b" stroke="#83441b"/>
<path d="M658.1 549.2L710.2 533.1L662.3 551.6Z" fill="#eb8134" stroke="#eb8134"/>
<path d="M658.1 549.2L662.3 551.6L618.7 565.8Z" fill="#ed8235" stroke="#ed8235"/>
<path d="M614.5 564.6L658.1 549.2L618.7 565.8Z" fill="#ef8436" stroke="#ef8436"/>
<path d="M989.1 368.8L1054.4 334.1L1058.6 333.1Z" fill="#e57c31" stroke="#e57c31"/>
<path d="M989.1 368.8L1058.6 333.1L993.3 362.9Z" fill="#e87e32" stroke="#e87e32"/>
<path d="M989.1 368.8L993.3 362.9L923.5 398.0Z" fill="#e87e32" stroke="#e87e32"/>
<path d="M919.4 396.3L989.1 368.8L923.5 398.0Z" fill="#e17a30" stroke="#e17a30"/>
<path d="M823.5 463.9L919.4 396.3L923.5 398.0Z" fill="#e27b31" stroke="#e27b31"/>
<path d="M823.5 463.9L923.5 398.0L827.7 459.5Z" fill="#eb8034" stroke="#eb8034"/>
<path d="M823.5 463.9L827.7 459.5L753.6 521.1Z" fill="#ed8234" stroke="#ed8234"/>
<path d="M749.4 516.7L823.5 463.9L753.6 521.1Z" fill="#e17a31" stroke="#e17a31"/>
<path d="M710.2 533.1L749.4 516.7L753.6 521.1Z" fill="#e67d33" stroke="#e67d33"/>
<path d="M710.2 533.1L753.6 521.1L714.4 534.0Z" fill="#f08436" stroke="#f08436"/>
<path d="M710.2 533.1L714.4 534.0L666.5 553.0Z" fill="#ef8436" stroke="#ef8436"/>
<path d="M662.3 551.6L710.2 533.1L666.5 553.0Z" fill="#ee8335" stroke="#ee8335"/>
<path d="M618.7 565.8L662.3 551.6L666.5 553.0Z" fill="#ef8436" stroke="#ef8436"/>
<path d="M618.7 565.8L666.5 553.0L622.9 568.2Z" fill="#ed8235" stroke="#ed8235"/>
<path d="M1058.6 333.1L1062.8 336.1L997.4 363.3Z" fill="#ed8235" stroke="#ed8235"/>
<path d="M993.3 362.9L1058.6 333.1L997.4 363.3Z" fill="#ef8436" stroke="#ef8436"/>
<path d="M923.5 398.0L993.3 362.9L997.4 363.3Z" fill="#ef8436" stroke="#ef8436"/>
<path d="M923.5 398.0L997.4 363.3L927.7 396.3Z" fill="#f18739" stroke="#f18739"/>
<path d="M923.5 398.0L927.7 396.3L831.9 465.9Z" fill="#f08538" stroke="#f08538"/>
<path d="M827.7 459.5L923.5 398.0L831.9 465.9Z" fill="#e27a31" stroke="#e27a31"/>
<path d="M753.6 521.1L827.7 459.5L831.9 465.9Z" fill="#e47c32" stroke="#e47c32"/>
<path d="M753.6 521.1L831.9 465.9L757.8 518.1Z" fill="#ef8335" stroke="#ef8335"/>
<path d="M753.6 521.1L757.8 518.1L718.6 540.0Z" fill="#ee8335" stroke="#ee8335"/>
<path d="M714.4 534.0L753.6 521.1L718.6 540.0Z" fill="#e47c32" stroke="#e47c32"/>
<path d="M666.5 553.0L714.4 534.0L718.6 540.0Z" fill="#e47c32" stroke="#e47c32"/>
<path d="M666.5 553.0L718.6 540.0L670.7 554.2Z" fill="#ed8235" stroke="#ed8235"/>
<path d="M666.5 553.0L670.7 554.2L627.1 567.2Z" fill="#ed8235" stroke="#ed8235"/>
<path d="M622.9 568.2L666.5 553.0L627.1 567.2Z" fill="#f08538" stroke="#f08538"/>
<path d="M997.4 363.3L1062.8 336.1L1067.0 340.5Z" fill="#ec8134" stroke="#ec8134"/>
<path d="M997.4 363.3L1067.0 340.5L1001.6 370.7Z" fill="#e77e32" stroke="#e77e32"/>
<path d="M997.4 363.3L1001.6 370.7L931.9 404.4Z" fill="#e77e32" stroke="#e77e32"/>
<path d="M927.7 396.3L997.4 363.3L931.9 404.4Z" fill="#e77e32" stroke="#e77e32"/>
<path d="M831.9 465.9L927.7 396.3L931.9 404.4Z" fill="#e67d32" stroke="#e67d32"/>
<path d="M831.9 465.9L931.9 404.4L836.1 463.7Z" fill="#f1883b" stroke="#f1883b"/>
<path d="M831.9 465.9L836.1 463.7L762.0 517.0Z" fill="#f08638" stroke="#f08638"/>
<path d="M757.8 518.1L831.9 465.9L762.0 517.0Z" fill="#ee8336" stroke="#ee8336"/>
<path d="M718.6 540.0L757.8 518.1L762.0 517.0Z" fill="#ee8336" stroke="#ee8336"/>
<path d="M718.6 540.0L762.0 517.0L722.8 535.8Z" fill="#ee8235" stroke="#ee8235"/>
<path d="M718.6 540.0L722.8 535.8L674.8 552.9Z" fill="#89481d" stroke="#89481d"/>
<path d="M670.7 554.2L718.6 540.0L674.8 552.9Z" fill="#793e18" stroke="#793e18"/>
<path d="M627.1 567.2L670.7 554.2L674.8 552.9Z" fill="#793e18" stroke="#793e18"/>
<path d="M627.1 567.2L674.8 552.9L631.3 567.4Z" fill="#ed8235" stroke="#ed8235"/>
<path d="M1067.0 340.5L1071.2 355.1L1005.8 378.3Z" fill="#e27a30" stroke="#e27a30"/>
<path d="M1001.6 370.7L1067.0 340.5L1005.8 378.3Z" fill="#e67c31" stroke="#e67c31"/>
<path d="M931.9 404.4L1001.6 370.7L1005.8 378.3Z" fill="#e67d32" stroke="#e67d32"/>
<path d="M931.9 404.4L1005.8 378.3L936.1 411.5Z" fill="#e77e32" stroke="#e77e32"/>
<path d="M931.9 404.4L936.1 411.5L840.2 470.4Z" fill="#e87e33" stroke="#e87e33"/>
<path d="M836.1 463.7L931.9 404.4L840.2 470.4Z" fill="#e87f33" stroke="#e87f33"/>
<path d="M762.0 517.0L836.1 463.7L840.2 470.4Z" fill="#e57d32" stroke="#e57d32"/>
<path d="M762.0 517.0L840.2 470.4L766.2 519.1Z" fill="#ef8336" stroke="#ef8336"/>
<path d="M762.0 517.0L766.2 519.1L727.0 537.6Z" fill="#ed8235" stroke="#ed8235"/>
<path d="M722.8 535.8L762.0 517.0L727.0 537.6Z" fill="#ec8134" stroke="#ec8134"/>
<path d="M674.8 552.9L722.8 535.8L727.0 537.6Z" fill="#ea8034" stroke="#ea8034"/>
<path d="M674.8 552.9L727.0 537.6L679.0 553.4Z" fill="#ee8335" stroke="#ee8335"/>
<path d="M674.8 552.9L679.0 553.4L635.5 568.9Z" fill="#ed8235" stroke="#ed8235"/>
<path d="M631.3 567.4L674.8 552.9L635.5 568.9Z" fill="#eb8034" stroke="#eb8034"/>
<path d="M1005.8 378.3L1071.2 355.1L1075.3 358.0Z" fill="#ec8236" stroke="#ec8236"/>
<path d="M1005.8 378.3L1075.3 358.0L1010.0 387.3Z" fill="#e57d32" stroke="#e57d32"/>
<path d="M1005.8 378.3L1010.0 387.3L940.3 414.0Z" fill="#e57d32" stroke="#e57d32"/>
<path d="M936.1 411.5L1005.8 378.3L940.3 414.0Z" fill="#ee8436" stroke="#ee8436"/>
<path d="M840.2 470.4L936.1 411.5L940.3 414.0Z" fill="#ef8336" stroke="#ef8336"/>
<path d="M840.2 470.4L940.3 414.0L844.4 469.1Z" fill="#f18739" stroke="#f18739"/>
<path d="M840.2 470.4L844.4 469.1L770.4 524.4Z" fill="#f18639" stroke="#f18639"/>
<path d="M766.2 519.1L840.2 470.4L770.4 524.4Z" fill="#e87f33" stroke="#e87f33"/>
<path d="M727.0 537.6L766.2 519.1L770.4 524.4Z" fill="#e67d33" stroke="#e67d33"/>
<path d="M727.0 537.6L770.4 524.4L731.1 536.6Z" fill="#f08537" stroke="#f08537"/>
<path d="M727.0 537.6L731.1 536.6L683.2 553.5Z" fill="#f08538" stroke="#f08538"/>
<path d="M679.0 553.4L727.0 537.6L683.2 553.5Z" fill="#ef8436" stroke="#ef8436"/>
<path d="M635.5 568.9L679.0 553.4L683.2 553.5Z" fill="#ef8336" stroke="#ef8336"/>
<path d="M635.5 568.9L683.2 553.5L639.6 567.9Z" fill="#ef8437" stroke="#ef8437"/>
<path d="M1075.3 358.0L1079.5 352.4L1014.2 379.4Z" fill="#e57c31" stroke="#e57c31"/>
<path d="M1010.0 387.3L1075.3 358.0L1014.2 379.4Z" fill="#e77e32" stroke="#e77e32"/>
<path d="M940.3 414.0L1010.0 387.3L1014.2 379.4Z" fill="#e97f33" stroke="#e97f33"/>
<path d="M940.3 414.0L1014.2 379.4L944.5 413.4Z" fill="#e67c31" stroke="#e67c31"/>
<path d="M940.3 414.0L944.5 413.4L848.6 472.3Z" fill="#e97f33" stroke="#e97f33"/>
<path d="M844.4 469.1L940.3 414.0L848.6 472.3Z" fill="#e47c32" stroke="#e47c32"/>
<path d="M770.4 524.4L844.4 469.1L848.6 472.3Z" fill="#e37b31" stroke="#e37b31"/>
<path d="M770.4 524.4L848.6 472.3L774.5 515.5Z" fill="#e77e32" stroke="#e77e32"/>
<path d="M770.4 524.4L774.5 515.5L735.3 538.5Z" fill="#e97f33" stroke="#e97f33"/>
<path d="M731.1 536.6L770.4 524.4L735.3 538.5Z" fill="#e87e33" stroke="#e87e33"/>
<path d="M683.2 553.5L731.1 536.6L735.3 538.5Z" fill="#e87f33" stroke="#e87f33"/>
<path d="M683.2 553.5L735.3 538.5L687.4 556.9Z" fill="#e57c32" stroke="#e57c32"/>
<path d="M683.2 553.5L687.4 556.9L643.8 568.9Z" fill="#e87f33" stroke="#e87f33"/>
<path d="M639.6 567.9L683.2 553.5L643.8 568.9Z" fill="#ee8335" stroke="#ee8335"/>
<path d="M1014.2 379.4L1079.5 352.4L1083.7 341.2Z" fill="#9a5221" stroke="#9a5221"/>
<path d="M1014.2 379.4L1083.7 341.2L1018.4 366.2Z" fill="#9d5322" stroke="#9d5322"/>
<path d="M1014.2 379.4L1018.4 366.2L948.6 397.3Z" fill="#9c5322" stroke="#9c5322"/>
<path d="M944.5 413.4L1014.2 379.4L948.6 397.3Z" fill="#9e5422" stroke="#9e5422"/>
<path d="M848.6 472.3L944.5 413.4L948.6 397.3Z" fill="#9c5322" stroke="#9c5322"/>
<path d="M848.6 472.3L948.6 397.3L852.8 458.5Z" fill="#9a5121" stroke="#9a5121"/>
<path d="M848.6 472.3L852.8 458.5L778.7 508.2Z" fill="#9a5121" stroke="#9a5121"/>
<path d="M774.5 515.5L848.6 472.3L778.7 508.2Z" fill="#904c1e" stroke="#904c1e"/>
<path d="M735.3 538.5L774.5 515.5L778.7 508.2Z" fill="#904b1e" stroke="#904b1e"/>
<path d="M735.3 538.5L778.7 508.2L739.5 530.3Z" fill="#924d1f" stroke="#924d1f"/>
<path d="M735.3 538.5L739.5 530.3L691.6 554.0Z" fill="#944e20" stroke="#944e20"/>
<path d="M687.4 556.9L735.3 538.5L691.6 554.0Z" fill="#81431b" stroke="#81431b"/>
<path d="M643.8 568.9L687.4 556.9L691.6 554.0Z" fill="#85451b" stroke="#85451b"/>
<path d="M643.8 568.9L691.6 554.0L648.0 569.4Z" fill="#ee8335" stroke="#ee8335"/>
<path d="M1083.7 341.2L1087.9 343.9L1022.5 370.1Z" fill="#ee8335" stroke="#ee8335"/>
<path d="M1018.4 366.2L1083.7 341.2L1022.5 370.1Z" fill="#e97f34" stroke="#e97f34"/>
<path d="M948.6 397.3L1018.4 366.2L1022.5 370.1Z" fill="#e47c32" stroke="#e47c32"/>
<path d="M948.6 397.3L1022.5 370.1L952.8 396.3Z" fill="#ef8437" stroke="#ef8437"/>
<path d="M948.6 397.3L952.8 396.3L857.0 441.8Z" fill="#e97f33" stroke="#e97f33"/>
<path d="M852.8 458.5L948.6 397.3L857.0 441.8Z" fill="#9c5322" stroke="#9c5322"/>
<path d="M778.7 508.2L852.8 458.5L857.0 441.8Z" fill="#9c5322" stroke="#9c5322"/>
<path d="M778.7 508.2L857.0 441.8L782.9 503.3Z" fill="#80431a" stroke="#80431a"/>
<path d="M778.7 508.2L782.9 503.3L743.7 534.9Z" fill="#81431a" stroke="#81431a"/>
<path d="M739.5 530.3L778.7 508.2L743.7 534.9Z" fill="#da752e" stroke="#da752e"/>
<path d="M691.6 554.0L739.5 530.3L743.7 534.9Z" fill="#e17a30" stroke="#e17a30"/>
<path d="M691.6 554.0L743.7 534.9L695.8 554.7Z" fill="#e97f33" stroke="#e97f33"/>
<path d="M691.6 554.0L695.8 554.7L652.2 573.3Z" fill="#ec8134" stroke="#ec8134"/>
<path d="M648.0 569.4L691.6 554.0L652.2 573.3Z" fill="#e67d32" stroke="#e67d32"/>
</g>
<g clip-path="url(#cb)" stroke-width="0.6" stroke-linejoin="round">
<path d="M1022.5 370.1L1087.9 343.9L1092.1 352.9Z" fill="#e47c32" stroke="#e47c32"/>
<path d="M1022.5 370.1L1092.1 352.9L1026.7 372.8Z" fill="#ec8135" stroke="#ec8135"/>
<path d="M1022.5 370.1L1026.7 372.8L957.0 401.1Z" fill="#ea8034" stroke="#ea8034"/>
<path d="M952.8 396.3L1022.5 370.1L957.0 401.1Z" fill="#e77e33" stroke="#e77e33"/>
<path d="M857.0 441.8L952.8 396.3L957.0 401.1Z" fill="#e17a31" stroke="#e17a31"/>
<path d="M857.0 441.8L957.0 401.1L861.2 447.9Z" fill="#dd772f" stroke="#dd772f"/>
<path d="M857.0 441.8L861.2 447.9L787.1 490.1Z" fill="#d7732d" stroke="#d7732d"/>
<path d="M782.9 503.3L857.0 441.8L787.1 490.1Z" fill="#975020" stroke="#975020"/>
<path d="M743.7 534.9L782.9 503.3L787.1 490.1Z" fill="#975020" stroke="#975020"/>
<path d="M743.7 534.9L787.1 490.1L747.9 528.2Z" fill="#85461c" stroke="#85461c"/>
<path d="M743.7 534.9L747.9 528.2L699.9 551.8Z" fill="#904c1e" stroke="#904c1e"/>
<path d="M695.8 554.7L743.7 534.9L699.9 551.8Z" fill="#81431a" stroke="#81431a"/>
<path d="M652.2 573.3L695.8 554.7L699.9 551.8Z" fill="#80431a" stroke="#80431a"/>
<path d="M652.2 573.3L699.9 551.8L656.4 572.4Z" fill="#e77e32" stroke="#e77e32"/>
<path d="M1092.1 352.9L1096.3 331.0L1030.9 354.6Z" fill="#a25623" stroke="#a25623"/>
<path d="M1026.7 372.8L1092.1 352.9L1030.9 354.6Z" fill="#a15523" stroke="#a15523"/>
<path d="M957.0 401.1L1026.7 372.8L1030.9 354.6Z" fill="#a05523" stroke="#a05523"/>
<path d="M957.0 401.1L1030.9 354.6L961.2 380.1Z" fill="#a15623" stroke="#a15623"/>
<path d="M957.0 401.1L961.2 380.1L865.3 430.5Z" fill="#a05523" stroke="#a05523"/>
<path d="M861.2 447.9L957.0 401.1L865.3 430.5Z" fill="#9e5422" stroke="#9e5422"/>
<path d="M787.1 490.1L861.2 447.9L865.3 430.5Z" fill="#9e5322" stroke="#9e5322"/>
<path d="M787.1 490.1L865.3 430.5L791.3 474.4Z" fill="#9c5322" stroke="#9c5322"/>
<path d="M787.1 490.1L791.3 474.4L752.1 520.7Z" fill="#954f20" stroke="#954f20"/>
<path d="M747.9 528.2L787.1 490.1L752.1 520.7Z" fill="#88471c" stroke="#88471c"/>
<path d="M699.9 551.8L747.9 528.2L752.1 520.7Z" fill="#924d1f" stroke="#924d1f"/>
<path d="M699.9 551.8L752.1 520.7L704.1 550.6Z" fill="#e27a30" stroke="#e27a30"/>
<path d="M699.9 551.8L704.1 550.6L660.6 566.1Z" fill="#e47c31" stroke="#e47c31"/>
<path d="M656.4 572.4L699.9 551.8L660.6 566.1Z" fill="#8f4b1e" stroke="#8f4b1e"/>
<path d="M1030.9 354.6L1096.3 331.0L1100.4 323.1Z" fill="#964f20" stroke="#964f20"/>
<path d="M1030.9 354.6L1100.4 323.1L1035.1 345.3Z" fill="#995121" stroke="#995121"/>
<path d="M1030.9 354.6L1035.1 345.3L965.4 371.0Z" fill="#985021" stroke="#985021"/>
<path d="M961.2 380.1L1030.9 354.6L965.4 371.0Z" fill="#985021" stroke="#985021"/>
<path d="M865.3 430.5L961.2 380.1L965.4 371.0Z" fill="#954f20" stroke="#954f20"/>
<path d="M865.3 430.5L965.4 371.0L869.5 404.9Z" fill="#a35624" stroke="#a35624"/>
<path d="M865.3 430.5L869.5 404.9L795.4 449.4Z" fill="#a15523" stroke="#a15523"/>
<path d="M791.3 474.4L865.3 430.5L795.4 449.4Z" fill="#a15523" stroke="#a15523"/>
<path d="M752.1 520.7L791.3 474.4L795.4 449.4Z" fill="#9c5322" stroke="#9c5322"/>
<path d="M752.1 520.7L795.4 449.4L756.2 503.2Z" fill="#954e20" stroke="#954e20"/>
<path d="M752.1 520.7L756.2 503.2L708.3 533.2Z" fill="#9d5322" stroke="#9d5322"/>
<path d="M704.1 550.6L752.1 520.7L708.3 533.2Z" fill="#9d5322" stroke="#9d5322"/>
<path d="M660.6 566.1L704.1 550.6L708.3 533.2Z" fill="#a05523" stroke="#a05523"/>
<path d="M660.6 566.1L708.3 533.2L664.7 556.5Z" fill="#964f20" stroke="#964f20"/>
<path d="M1100.4 323.1L1104.6 311.8L1039.3 335.1Z" fill="#9b5222" stroke="#9b5222"/>
<path d="M1035.1 345.3L1100.4 323.1L1039.3 335.1Z" fill="#9a5121" stroke="#9a5121"/>
<path d="M965.4 371.0L1035.1 345.3L1039.3 335.1Z" fill="#9a5121" stroke="#9a5121"/>
<path d="M965.4 371.0L1039.3 335.1L969.6 356.1Z" fill="#9f5423" stroke="#9f5423"/>
<path d="M965.4 371.0L969.6 356.1L873.7 387.8Z" fill="#9f5423" stroke="#9f5423"/>
<path d="M869.5 404.9L965.4 371.0L873.7 387.8Z" fill="#a05523" stroke="#a05523"/>
<path d="M795.4 449.4L869.5 404.9L873.7 387.8Z" fill="#9d5322" stroke="#9d5322"/>
<path d="M795.4 449.4L873.7 387.8L799.6 415.2Z" fill="#a45724" stroke="#a45724"/>
<path d="M795.4 449.4L799.6 415.2L760.4 497.5Z" fill="#9a5121" stroke="#9a5121"/>
<path d="M756.2 503.2L795.4 449.4L760.4 497.5Z" fill="#db752c" stroke="#db752c"/>
<path d="M708.3 533.2L756.2 503.2L760.4 497.5Z" fill="#89481d" stroke="#89481d"/>
<path d="M708.3 533.2L760.4 497.5L712.5 528.1Z" fill="#86461c" stroke="#86461c"/>
<path d="M708.3 533.2L712.5 528.1L668.9 549.5Z" fill="#8a481d" stroke="#8a481d"/>
<path d="M664.7 556.5L708.3 533.2L668.9 549.5Z" fill="#904c1f" stroke="#904c1f"/>
<path d="M1039.3 335.1L1104.6 311.8L1108.8 274.2Z" fill="#a45724" stroke="#a45724"/>
<path d="M1039.3 335.1L1108.8 274.2L1043.4 295.0Z" fill="#a55824" stroke="#a55824"/>
<path d="M1039.3 335.1L1043.4 295.0L973.7 315.1Z" fill="#a55824" stroke="#a55824"/>
<path d="M969.6 356.1L1039.3 335.1L973.7 315.1Z" fill="#a55824" stroke="#a55824"/>
<path d="M873.7 387.8L969.6 356.1L973.7 315.1Z" fill="#a55824" stroke="#a55824"/>
<path d="M873.7 387.8L973.7 315.1L877.9 350.2Z" fill="#a45724" stroke="#a45724"/>
<path d="M873.7 387.8L877.9 350.2L803.8 376.5Z" fill="#a45724" stroke="#a45724"/>
<path d="M799.6 415.2L873.7 387.8L803.8 376.5Z" fill="#a45724" stroke="#a45724"/>
<path d="M760.4 497.5L799.6 415.2L803.8 376.5Z" fill="#9b5222" stroke="#9b5222"/>
<path d="M760.4 497.5L803.8 376.5L764.6 466.6Z" fill="#975020" stroke="#975020"/>
<path d="M760.4 497.5L764.6 466.6L716.7 506.1Z" fill="#a15523" stroke="#a15523"/>
<path d="M712.5 528.1L760.4 497.5L716.7 506.1Z" fill="#9f5423" stroke="#9f5423"/>
<path d="M668.9 549.5L712.5 528.1L716.7 506.1Z" fill="#a05523" stroke="#a05523"/>
<path d="M668.9 549.5L716.7 506.1L673.1 531.9Z" fill="#9d5322" stroke="#9d5322"/>
<path d="M1108.8 274.2L1113.0 265.4L1047.6 286.1Z" fill="#985021" stroke="#985021"/>
<path d="M1043.4 295.0L1108.8 274.2L1047.6 286.1Z" fill="#985121" stroke="#985121"/>
<path d="M973.7 315.1L1043.4 295.0L1047.6 286.1Z" fill="#995121" stroke="#995121"/>
<path d="M973.7 315.1L1047.6 286.1L977.9 314.4Z" fill="#e0792f" stroke="#e0792f"/>
<path d="M973.7 315.1L977.9 314.4L882.1 347.4Z" fill="#e27a30" stroke="#e27a30"/>
<path d="M877.9 350.2L973.7 315.1L882.1 347.4Z" fill="#81431a" stroke="#81431a"/>
<path d="M803.8 376.5L877.9 350.2L882.1 347.4Z" fill="#81431b" stroke="#81431b"/>
<path d="M803.8 376.5L882.1 347.4L808.0 381.9Z" fill="#d6722c" stroke="#d6722c"/>
<path d="M803.8 376.5L808.0 381.9L768.8 457.4Z" fill="#d26f2a" stroke="#d26f2a"/>
<path d="M764.6 466.6L803.8 376.5L768.8 457.4Z" fill="#db752c" stroke="#db752c"/>
<path d="M716.7 506.1L764.6 466.6L768.8 457.4Z" fill="#904c1e" stroke="#904c1e"/>
<path d="M716.7 506.1L768.8 457.4L720.9 497.4Z" fill="#8f4b1e" stroke="#8f4b1e"/>
<path d="M716.7 506.1L720.9 497.4L677.3 521.7Z" fill="#944e20" stroke="#944e20"/>
<path d="M673.1 531.9L716.7 506.1L677.3 521.7Z" fill="#964f20" stroke="#964f20"/>
<path d="M1047.6 286.1L1113.0 265.4L1117.2 255.8Z" fill="#9a5121" stroke="#9a5121"/>
<path d="M1047.6 286.1L1117.2 255.8L1051.8 272.0Z" fill="#9f5423" stroke="#9f5423"/>
<path d="M1047.6 286.1L1051.8 272.0L982.1 293.6Z" fill="#9e5422" stroke="#9e5422"/>
<path d="M977.9 314.4L1047.6 286.1L982.1 293.6Z" fill="#a15523" stroke="#a15523"/>
<path d="M882.1 347.4L977.9 314.4L982.1 293.6Z" fill="#a15623" stroke="#a15623"/>
<path d="M882.1 347.4L982.1 293.6L886.2 326.4Z" fill="#a15623" stroke="#a15623"/>
<path d="M882.1 347.4L886.2 326.4L812.2 360.2Z" fill="#a05523" stroke="#a05523"/>
<path d="M808.0 381.9L882.1 347.4L812.2 360.2Z" fill="#a15523" stroke="#a15523"/>
<path d="M768.8 457.4L808.0 381.9L812.2 360.2Z" fill="#934e1f" stroke="#934e1f"/>
<path d="M768.8 457.4L812.2 360.2L773.0 433.9Z" fill="#954f20" stroke="#954f20"/>
<path d="M768.8 457.4L773.0 433.9L725.0 464.6Z" fill="#a05523" stroke="#a05523"/>
<path d="M720.9 497.4L768.8 457.4L725.0 464.6Z" fill="#a15523" stroke="#a15523"/>
<path d="M677.3 521.7L720.9 497.4L725.0 464.6Z" fill="#a35624" stroke="#a35624"/>
<path d="M677.3 521.7L725.0 464.6L681.5 492.1Z" fill="#a25623" stroke="#a25623"/>
<path d="M1117.2 255.8L1121.3 272.3L1056.0 285.7Z" fill="#e27a31" stroke="#e27a31"/>
<path d="M1051.8 272.0L1117.2 255.8L1056.0 285.7Z" fill="#e27b31" stroke="#e27b31"/>
<path d="M982.1 293.6L1051.8 272.0L1056.0 285.7Z" fill="#e27b31" stroke="#e27b31"/>
<path d="M982.1 293.6L1056.0 285.7L986.3 311.7Z" fill="#e17a31" stroke="#e17a31"/>
<path d="M982.1 293.6L986.3 311.7L890.4 337.1Z" fill="#dd7730" stroke="#dd7730"/>
<path d="M886.2 326.4L982.1 293.6L890.4 337.1Z" fill="#dc772f" stroke="#dc772f"/>
<path d="M812.2 360.2L886.2 326.4L890.4 337.1Z" fill="#d4712c" stroke="#d4712c"/>
<path d="M812.2 360.2L890.4 337.1L816.4 346.1Z" fill="#a15523" stroke="#a15523"/>
<path d="M812.2 360.2L816.4 346.1L777.1 400.7Z" fill="#904c1f" stroke="#904c1f"/>
<path d="M773.0 433.9L812.2 360.2L777.1 400.7Z" fill="#9b5221" stroke="#9b5221"/>
<path d="M725.0 464.6L773.0 433.9L777.1 400.7Z" fill="#a25623" stroke="#a25623"/>
<path d="M725.0 464.6L777.1 400.7L729.2 426.6Z" fill="#a35724" stroke="#a35724"/>
<path d="M725.0 464.6L729.2 426.6L685.6 448.6Z" fill="#a45724" stroke="#a45724"/>
<path d="M681.5 492.1L725.0 464.6L685.6 448.6Z" fill="#a45724" stroke="#a45724"/>
<path d="M1056.0 285.7L1121.3 272.3L1125.5 271.6Z" fill="#f0863a" stroke="#f0863a"/>
<path d="M1056.0 285.7L1125.5 271.6L1060.2 289.0Z" fill="#ea8034" stroke="#ea8034"/>
<path d="M1056.0 285.7L1060.2 289.0L990.5 311.6Z" fill="#e57d32" stroke="#e57d32"/>
<path d="M986.3 311.7L1056.0 285.7L990.5 311.6Z" fill="#f08537" stroke="#f08537"/>
<path d="M890.4 337.1L986.3 311.7L990.5 311.6Z" fill="#ea8033" stroke="#ea8033"/>
<path d="M890.4 337.1L990.5 311.6L894.6 331.2Z" fill="#944e20" stroke="#944e20"/>
<path d="M890.4 337.1L894.6 331.2L820.5 343.0Z" fill="#954f20" stroke="#954f20"/>
<path d="M816.4 346.1L890.4 337.1L820.5 343.0Z" fill="#8b491d" stroke="#8b491d"/>
<path d="M777.1 400.7L816.4 346.1L820.5 343.0Z" fill="#db752d" stroke="#db752d"/>
<path d="M777.1 400.7L820.5 343.0L781.3 382.8Z" fill="#995121" stroke="#995121"/>
<path d="M777.1 400.7L781.3 382.8L733.4 396.2Z" fill="#a15523" stroke="#a15523"/>
<path d="M729.2 426.6L777.1 400.7L733.4 396.2Z" fill="#a25623" stroke="#a25623"/>
<path d="M685.6 448.6L729.2 426.6L733.4 396.2Z" fill="#a35624" stroke="#a35624"/>
<path d="M685.6 448.6L733.4 396.2L689.8 426.4Z" fill="#9f5423" stroke="#9f5423"/>
<path d="M1125.5 271.6L1129.7 232.5L1064.4 253.7Z" fill="#a55824" stroke="#a55824"/>
<path d="M1060.2 289.0L1125.5 271.6L1064.4 253.7Z" fill="#a55724" stroke="#a55724"/>
<path d="M990.5 311.6L1060.2 289.0L1064.4 253.7Z" fill="#a45724" stroke="#a45724"/>
<path d="M990.5 311.6L1064.4 253.7L994.6 271.7Z" fill="#a55824" stroke="#a55824"/>
<path d="M990.5 311.6L994.6 271.7L898.8 299.5Z" fill="#a55824" stroke="#a55824"/>
<path d="M894.6 331.2L990.5 311.6L898.8 299.5Z" fill="#a55724" stroke="#a55724"/>
<path d="M820.5 343.0L894.6 331.2L898.8 299.5Z" fill="#a55824" stroke="#a55824"/>
<path d="M820.5 343.0L898.8 299.5L824.7 310.8Z" fill="#a55824" stroke="#a55824"/>
<path d="M820.5 343.0L824.7 310.8L785.5 345.2Z" fill="#a15523" stroke="#a15523"/>
<path d="M781.3 382.8L820.5 343.0L785.5 345.2Z" fill="#a15523" stroke="#a15523"/>
<path d="M733.4 396.2L781.3 382.8L785.5 345.2Z" fill="#a55824" stroke="#a55824"/>
<path d="M733.4 396.2L785.5 345.2L737.6 371.8Z" fill="#a15523" stroke="#a15523"/>
<path d="M733.4 396.2L737.6 371.8L694.0 389.8Z" fill="#a25623" stroke="#a25623"/>
<path d="M689.8 426.4L733.4 396.2L694.0 389.8Z" fill="#a25624" stroke="#a25624"/>
<path d="M1064.4 253.7L1129.7 232.5L1133.9 203.3Z" fill="#a35724" stroke="#a35724"/>
<path d="M1064.4 253.7L1133.9 203.3L1068.5 225.2Z" fill="#a35724" stroke="#a35724"/>
<path d="M1064.4 253.7L1068.5 225.2L998.8 246.8Z" fill="#a35724" stroke="#a35724"/>
<path d="M994.6 271.7L1064.4 253.7L998.8 246.8Z" fill="#a35724" stroke="#a35724"/>
<path d="M898.8 299.5L994.6 271.7L998.8 246.8Z" fill="#a35724" stroke="#a35724"/>
<path d="M898.8 299.5L998.8 246.8L903.0 261.7Z" fill="#a55824" stroke="#a55824"/>
<path d="M898.8 299.5L903.0 261.7L828.9 274.1Z" fill="#a55824" stroke="#a55824"/>
<path d="M824.7 310.8L898.8 299.5L828.9 274.1Z" fill="#a55824" stroke="#a55824"/>
<path d="M785.5 345.2L824.7 310.8L828.9 274.1Z" fill="#a15623" stroke="#a15623"/>
<path d="M785.5 345.2L828.9 274.1L789.7 313.8Z" fill="#9f5523" stroke="#9f5523"/>
<path d="M785.5 345.2L789.7 313.8L741.8 342.2Z" fill="#a25623" stroke="#a25623"/>
<path d="M737.6 371.8L785.5 345.2L741.8 342.2Z" fill="#a25623" stroke="#a25623"/>
<path d="M694.0 389.8L737.6 371.8L741.8 342.2Z" fill="#a35724" stroke="#a35724"/>
<path d="M694.0 389.8L741.8 342.2L698.2 360.9Z" fill="#a35624" stroke="#a35624"/>
<path d="M1133.9 203.3L1138.1 212.0L1072.7 226.7Z" fill="#e57d32" stroke="#e57d32"/>
<path d="M1068.5 225.2L1133.9 203.3L1072.7 226.7Z" fill="#ef8437" stroke="#ef8437"/>
<path d="M998.8 246.8L1068.5 225.2L1072.7 226.7Z" fill="#ef8436" stroke="#ef8436"/>
<path d="M998.8 246.8L1072.7 226.7L1003.0 252.4Z" fill="#e97f33" stroke="#e97f33"/>
<path d="M998.8 246.8L1003.0 252.4L907.2 266.7Z" fill="#e97f33" stroke="#e97f33"/>
<path d="M903.0 261.7L998.8 246.8L907.2 266.7Z" fill="#e77e33" stroke="#e77e33"/>
<path d="M828.9 274.1L903.0 261.7L907.2 266.7Z" fill="#e17a31" stroke="#e17a31"/>
<path d="M828.9 274.1L907.2 266.7L833.1 270.1Z" fill="#914c1f" stroke="#914c1f"/>
<path d="M828.9 274.1L833.1 270.1L793.9 287.5Z" fill="#86461c" stroke="#86461c"/>
<path d="M789.7 313.8L828.9 274.1L793.9 287.5Z" fill="#9e5422" stroke="#9e5422"/>
<path d="M741.8 342.2L789.7 313.8L793.9 287.5Z" fill="#a15523" stroke="#a15523"/>
<path d="M741.8 342.2L793.9 287.5L745.9 318.4Z" fill="#a05523" stroke="#a05523"/>
<path d="M741.8 342.2L745.9 318.4L702.4 329.2Z" fill="#a35724" stroke="#a35724"/>
<path d="M698.2 360.9L741.8 342.2L702.4 329.2Z" fill="#a35724" stroke="#a35724"/>
<path d="M1072.7 226.7L1138.1 212.0L1142.3 230.0Z" fill="#e0792f" stroke="#e0792f"/>
<path d="M1072.7 226.7L1142.3 230.0L1076.9 250.4Z" fill="#e0782f" stroke="#e0782f"/>
<path d="M1072.7 226.7L1076.9 250.4L1007.2 262.0Z" fill="#df782f" stroke="#df782f"/>
<path d="M1003.0 252.4L1072.7 226.7L1007.2 262.0Z" fill="#e37a30" stroke="#e37a30"/>
<path d="M907.2 266.7L1003.0 252.4L1007.2 262.0Z" fill="#e37b30" stroke="#e37b30"/>
<path d="M907.2 266.7L1007.2 262.0L911.3 284.6Z" fill="#e0782f" stroke="#e0782f"/>
<path d="M907.2 266.7L911.3 284.6L837.3 282.5Z" fill="#e17930" stroke="#e17930"/>
<path d="M833.1 270.1L907.2 266.7L837.3 282.5Z" fill="#e37b31" stroke="#e37b31"/>
<path d="M793.9 287.5L833.1 270.1L837.3 282.5Z" fill="#e07a31" stroke="#e07a31"/>
<path d="M793.9 287.5L837.3 282.5L798.1 302.5Z" fill="#df7930" stroke="#df7930"/>
<path d="M793.9 287.5L798.1 302.5L750.1 315.4Z" fill="#d3702c" stroke="#d3702c"/>
<path d="M745.9 318.4L793.9 287.5L750.1 315.4Z" fill="#7a3f19" stroke="#7a3f19"/>
<path d="M702.4 329.2L745.9 318.4L750.1 315.4Z" fill="#86461c" stroke="#86461c"/>
<path d="M702.4 329.2L750.1 315.4L706.6 326.5Z" fill="#84451b" stroke="#84451b"/>
<path d="M1142.3 230.0L1146.4 234.8L1081.1 254.1Z" fill="#e87e33" stroke="#e87e33"/>
<path d="M1076.9 250.4L1142.3 230.0L1081.1 254.1Z" fill="#ec8134" stroke="#ec8134"/>
<path d="M1007.2 262.0L1076.9 250.4L1081.1 254.1Z" fill="#eb8135" stroke="#eb8135"/>
<path d="M1007.2 262.0L1081.1 254.1L1011.4 271.6Z" fill="#e47c32" stroke="#e47c32"/>
<path d="M1007.2 262.0L1011.4 271.6L915.5 290.2Z" fill="#e37b31" stroke="#e37b31"/>
<path d="M911.3 284.6L1007.2 262.0L915.5 290.2Z" fill="#e87e32" stroke="#e87e32"/>
<path d="M837.3 282.5L911.3 284.6L915.5 290.2Z" fill="#e87e33" stroke="#e87e33"/>
<path d="M837.3 282.5L915.5 290.2L841.5 282.8Z" fill="#793f18" stroke="#793f18"/>
<path d="M837.3 282.5L841.5 282.8L802.2 291.0Z" fill="#e87e32" stroke="#e87e32"/>
<path d="M798.1 302.5L837.3 282.5L802.2 291.0Z" fill="#995121" stroke="#995121"/>
<path d="M750.1 315.4L798.1 302.5L802.2 291.0Z" fill="#9d5322" stroke="#9d5322"/>
<path d="M750.1 315.4L802.2 291.0L754.3 295.5Z" fill="#a35724" stroke="#a35724"/>
<path d="M750.1 315.4L754.3 295.5L710.7 307.1Z" fill="#a25623" stroke="#a25623"/>
<path d="M706.6 326.5L750.1 315.4L710.7 307.1Z" fill="#a25623" stroke="#a25623"/>
<path d="M1081.1 254.1L1146.4 234.8L1150.6 222.9Z" fill="#9d5322" stroke="#9d5322"/>
<path d="M1081.1 254.1L1150.6 222.9L1085.3 240.8Z" fill="#9e5422" stroke="#9e5422"/>
<path d="M1081.1 254.1L1085.3 240.8L1015.6 256.0Z" fill="#9f5423" stroke="#9f5423"/>
<path d="M1011.4 271.6L1081.1 254.1L1015.6 256.0Z" fill="#a05523" stroke="#a05523"/>
<path d="M915.5 290.2L1011.4 271.6L1015.6 256.0Z" fill="#a15523" stroke="#a15523"/>
<path d="M915.5 290.2L1015.6 256.0L919.7 273.0Z" fill="#a25623" stroke="#a25623"/>
<path d="M915.5 290.2L919.7 273.0L845.6 268.7Z" fill="#a45724" stroke="#a45724"/>
<path d="M841.5 282.8L915.5 290.2L845.6 268.7Z" fill="#a35724" stroke="#a35724"/>
<path d="M802.2 291.0L841.5 282.8L845.6 268.7Z" fill="#a05523" stroke="#a05523"/>
<path d="M802.2 291.0L845.6 268.7L806.4 273.2Z" fill="#a35624" stroke="#a35624"/>
<path d="M802.2 291.0L806.4 273.2L758.5 291.5Z" fill="#a05523" stroke="#a05523"/>
<path d="M754.3 295.5L802.2 291.0L758.5 291.5Z" fill="#904c1e" stroke="#904c1e"/>
<path d="M710.7 307.1L754.3 295.5L758.5 291.5Z" fill="#8b491d" stroke="#8b491d"/>
<path d="M710.7 307.1L758.5 291.5L714.9 304.7Z" fill="#81431a" stroke="#81431a"/>
<path d="M1150.6 222.9L1154.8 228.8L1089.5 248.5Z" fill="#e77e32" stroke="#e77e32"/>
<path d="M1085.3 240.8L1150.6 222.9L1089.5 248.5Z" fill="#e67d32" stroke="#e67d32"/>
<path d="M1015.6 256.0L1085.3 240.8L1089.5 248.5Z" fill="#e67d32" stroke="#e67d32"/>
<path d="M1015.6 256.0L1089.5 248.5L1019.7 266.6Z" fill="#e37b30" stroke="#e37b30"/>
<path d="M1015.6 256.0L1019.7 266.6L923.9 285.7Z" fill="#e27a2f" stroke="#e27a2f"/>
<path d="M919.7 273.0L1015.6 256.0L923.9 285.7Z" fill="#e27a30" stroke="#e27a30"/>
<path d="M845.6 268.7L919.7 273.0L923.9 285.7Z" fill="#e27a30" stroke="#e27a30"/>
<path d="M845.6 268.7L923.9 285.7L849.8 289.2Z" fill="#de772e" stroke="#de772e"/>
<path d="M845.6 268.7L849.8 289.2L810.6 278.6Z" fill="#df7930" stroke="#df7930"/>
<path d="M806.4 273.2L845.6 268.7L810.6 278.6Z" fill="#e37b31" stroke="#e37b31"/>
<path d="M758.5 291.5L806.4 273.2L810.6 278.6Z" fill="#e27a31" stroke="#e27a31"/>
<path d="M758.5 291.5L810.6 278.6L762.7 292.6Z" fill="#ea8034" stroke="#ea8034"/>
<path d="M758.5 291.5L762.7 292.6L719.1 307.5Z" fill="#e67d32" stroke="#e67d32"/>
<path d="M714.9 304.7L758.5 291.5L719.1 307.5Z" fill="#e37b31" stroke="#e37b31"/>
<path d="M1089.5 248.5L1154.8 228.8L1159.0 243.2Z" fill="#e17a30" stroke="#e17a30"/>
<path d="M1089.5 248.5L1159.0 243.2L1093.6 260.8Z" fill="#e37b31" stroke="#e37b31"/>
<path d="M1089.5 248.5L1093.6 260.8L1023.9 281.6Z" fill="#e37b31" stroke="#e37b31"/>
<path d="M1019.7 266.6L1089.5 248.5L1023.9 281.6Z" fill="#e17a30" stroke="#e17a30"/>
<path d="M923.9 285.7L1019.7 266.6L1023.9 281.6Z" fill="#e0792f" stroke="#e0792f"/>
<path d="M923.9 285.7L1023.9 281.6L928.1 305.5Z" fill="#e07930" stroke="#e07930"/>
<path d="M923.9 285.7L928.1 305.5L854.0 305.0Z" fill="#df782f" stroke="#df782f"/>
<path d="M849.8 289.2L923.9 285.7L854.0 305.0Z" fill="#df782e" stroke="#df782e"/>
<path d="M810.6 278.6L849.8 289.2L854.0 305.0Z" fill="#df7830" stroke="#df7830"/>
<path d="M810.6 278.6L854.0 305.0L814.8 275.2Z" fill="#a05523" stroke="#a05523"/>
<path d="M810.6 278.6L814.8 275.2L766.9 281.5Z" fill="#8c491d" stroke="#8c491d"/>
<path d="M762.7 292.6L810.6 278.6L766.9 281.5Z" fill="#9c5322" stroke="#9c5322"/>
<path d="M719.1 307.5L762.7 292.6L766.9 281.5Z" fill="#9b5222" stroke="#9b5222"/>
<path d="M719.1 307.5L766.9 281.5L723.3 287.8Z" fill="#a35624" stroke="#a35624"/>
<path d="M1159.0 243.2L1163.2 239.8L1097.8 257.8Z" fill="#88471c" stroke="#88471c"/>
<path d="M1093.6 260.8L1159.0 243.2L1097.8 257.8Z" fill="#86461c" stroke="#86461c"/>
<path d="M1023.9 281.6L1093.6 260.8L1097.8 257.8Z" fill="#85451b" stroke="#85451b"/>
<path d="M1023.9 281.6L1097.8 257.8L1028.1 279.2Z" fill="#81431a" stroke="#81431a"/>
<path d="M1023.9 281.6L1028.1 279.2L932.2 291.8Z" fill="#86461c" stroke="#86461c"/>
<path d="M928.1 305.5L1023.9 281.6L932.2 291.8Z" fill="#9f5423" stroke="#9f5423"/>
<path d="M854.0 305.0L928.1 305.5L932.2 291.8Z" fill="#a25623" stroke="#a25623"/>
<path d="M854.0 305.0L932.2 291.8L858.2 294.7Z" fill="#9f5423" stroke="#9f5423"/>
<path d="M854.0 305.0L858.2 294.7L819.0 268.7Z" fill="#a95a25" stroke="#a95a25"/>
<path d="M814.8 275.2L854.0 305.0L819.0 268.7Z" fill="#a75925" stroke="#a75925"/>
<path d="M766.9 281.5L814.8 275.2L819.0 268.7Z" fill="#975020" stroke="#975020"/>
<path d="M766.9 281.5L819.0 268.7L771.0 271.4Z" fill="#9e5422" stroke="#9e5422"/>
<path d="M766.9 281.5L771.0 271.4L727.5 285.0Z" fill="#9a5221" stroke="#9a5221"/>
<path d="M723.3 287.8L766.9 281.5L727.5 285.0Z" fill="#88471c" stroke="#88471c"/>
<path d="M1097.8 257.8L1163.2 239.8L1167.4 225.2Z" fill="#9f5423" stroke="#9f5423"/>
<path d="M1097.8 257.8L1167.4 225.2L1102.0 246.8Z" fill="#9b5222" stroke="#9b5222"/>
<path d="M1097.8 257.8L1102.0 246.8L1032.3 260.9Z" fill="#9d5322" stroke="#9d5322"/>
<path d="M1028.1 279.2L1097.8 257.8L1032.3 260.9Z" fill="#a15523" stroke="#a15523"/>
<path d="M932.2 291.8L1028.1 279.2L1032.3 260.9Z" fill="#a35624" stroke="#a35624"/>
<path d="M932.2 291.8L1032.3 260.9L936.4 287.2Z" fill="#8e4b1e" stroke="#8e4b1e"/>
<path d="M932.2 291.8L936.4 287.2L862.4 270.4Z" fill="#9a5121" stroke="#9a5121"/>
<path d="M858.2 294.7L932.2 291.8L862.4 270.4Z" fill="#a55824" stroke="#a55824"/>
<path d="M819.0 268.7L858.2 294.7L862.4 270.4Z" fill="#aa5a26" stroke="#aa5a26"/>
<path d="M819.0 268.7L862.4 270.4L823.2 258.8Z" fill="#a45724" stroke="#a45724"/>
<path d="M819.0 268.7L823.2 258.8L775.2 272.3Z" fill="#9b5221" stroke="#9b5221"/>
<path d="M771.0 271.4L819.0 268.7L775.2 272.3Z" fill="#e57c32" stroke="#e57c32"/>
<path d="M727.5 285.0L771.0 271.4L775.2 272.3Z" fill="#e87e33" stroke="#e87e33"/>
<path d="M727.5 285.0L775.2 272.3L731.7 285.9Z" fill="#eb8034" stroke="#eb8034"/>
<path d="M1167.4 225.2L1171.5 220.2L1106.2 236.2Z" fill="#904c1e" stroke="#904c1e"/>
<path d="M1102.0 246.8L1167.4 225.2L1106.2 236.2Z" fill="#9b5221" stroke="#9b5221"/>
<path d="M1032.3 260.9L1102.0 246.8L1106.2 236.2Z" fill="#9d5322" stroke="#9d5322"/>
<path d="M1032.3 260.9L1106.2 236.2L1036.5 248.8Z" fill="#9f5422" stroke="#9f5422"/>
<path d="M1032.3 260.9L1036.5 248.8L940.6 271.3Z" fill="#9e5422" stroke="#9e5422"/>
<path d="M936.4 287.2L1032.3 260.9L940.6 271.3Z" fill="#a05523" stroke="#a05523"/>
<path d="M862.4 270.4L936.4 287.2L940.6 271.3Z" fill="#a55824" stroke="#a55824"/>
<path d="M862.4 270.4L940.6 271.3L866.5 251.5Z" fill="#a65925" stroke="#a65925"/>
<path d="M862.4 270.4L866.5 251.5L827.3 258.4Z" fill="#a25623" stroke="#a25623"/>
<path d="M823.2 258.8L862.4 270.4L827.3 258.4Z" fill="#86461c" stroke="#86461c"/>
<path d="M775.2 272.3L823.2 258.8L827.3 258.4Z" fill="#ec8134" stroke="#ec8134"/>
<path d="M775.2 272.3L827.3 258.4L779.4 273.2Z" fill="#ec8134" stroke="#ec8134"/>
<path d="M775.2 272.3L779.4 273.2L735.8 286.8Z" fill="#ed8235" stroke="#ed8235"/>
<path d="M731.7 285.9L775.2 272.3L735.8 286.8Z" fill="#ed8235" stroke="#ed8235"/>
<path d="M1106.2 236.2L1171.5 220.2L1175.7 202.9Z" fill="#a15523" stroke="#a15523"/>
<path d="M1106.2 236.2L1175.7 202.9L1110.4 222.3Z" fill="#9e5422" stroke="#9e5422"/>
<path d="M1106.2 236.2L1110.4 222.3L1040.7 242.6Z" fill="#9f5422" stroke="#9f5422"/>
<path d="M1036.5 248.8L1106.2 236.2L1040.7 242.6Z" fill="#954f20" stroke="#954f20"/>
<path d="M940.6 271.3L1036.5 248.8L1040.7 242.6Z" fill="#944e20" stroke="#944e20"/>
<path d="M940.6 271.3L1040.7 242.6L944.8 262.8Z" fill="#9a5121" stroke="#9a5121"/>
<path d="M940.6 271.3L944.8 262.8L870.7 256.3Z" fill="#9f5423" stroke="#9f5423"/>
<path d="M866.5 251.5L940.6 271.3L870.7 256.3Z" fill="#dc772f" stroke="#dc772f"/>
<path d="M827.3 258.4L866.5 251.5L870.7 256.3Z" fill="#e07930" stroke="#e07930"/>
<path d="M827.3 258.4L870.7 256.3L831.5 259.3Z" fill="#ea8034" stroke="#ea8034"/>
<path d="M827.3 258.4L831.5 259.3L783.6 274.2Z" fill="#ed8235" stroke="#ed8235"/>
<path d="M779.4 273.2L827.3 258.4L783.6 274.2Z" fill="#ee8235" stroke="#ee8235"/>
<path d="M735.8 286.8L779.4 273.2L783.6 274.2Z" fill="#ef8335" stroke="#ef8335"/>
<path d="M735.8 286.8L783.6 274.2L740.0 287.7Z" fill="#ef8335" stroke="#ef8335"/>
<path d="M1175.7 202.9L1179.9 192.9L1114.5 207.9Z" fill="#9c5222" stroke="#9c5222"/>
<path d="M1110.4 222.3L1175.7 202.9L1114.5 207.9Z" fill="#9f5423" stroke="#9f5423"/>
<path d="M1040.7 242.6L1110.4 222.3L1114.5 207.9Z" fill="#9f5423" stroke="#9f5423"/>
<path d="M1040.7 242.6L1114.5 207.9L1044.8 230.4Z" fill="#9d5322" stroke="#9d5322"/>
<path d="M1040.7 242.6L1044.8 230.4L949.0 258.7Z" fill="#9d5322" stroke="#9d5322"/>
<path d="M944.8 262.8L1040.7 242.6L949.0 258.7Z" fill="#8d4a1e" stroke="#8d4a1e"/>
<path d="M870.7 256.3L944.8 262.8L949.0 258.7Z" fill="#954e20" stroke="#954e20"/>
<path d="M870.7 256.3L949.0 258.7L874.9 248.0Z" fill="#a05523" stroke="#a05523"/>
<path d="M870.7 256.3L874.9 248.0L835.7 260.2Z" fill="#985021" stroke="#985021"/>
<path d="M831.5 259.3L870.7 256.3L835.7 260.2Z" fill="#ea7f33" stroke="#ea7f33"/>
<path d="M783.6 274.2L831.5 259.3L835.7 260.2Z" fill="#ed8235" stroke="#ed8235"/>
<path d="M783.6 274.2L835.7 260.2L787.8 275.1Z" fill="#ed8235" stroke="#ed8235"/>
<path d="M783.6 274.2L787.8 275.1L744.2 288.6Z" fill="#ef8335" stroke="#ef8335"/>
<path d="M740.0 287.7L783.6 274.2L744.2 288.6Z" fill="#ef8335" stroke="#ef8335"/>
</g>
<g clip-path="url(#sil)">
<polygon points="150.0,394.0 175.0,364.0 187.5,346.5 205.0,324.0 265.0,252.0 300.0,220.5 360.0,162.0 425.0,117.5 460.0,95.0 490.0,75.0 502.0,70.5 505.2,82.5 490.2,93.0 460.2,117.0 415.1,147.1 370.1,180.1 325.0,222.1 286.0,254.0 246.2,300.0 208.6,350.2 175.2,387.7 154.3,404.4" fill="#ee8535" opacity="0.6"/>
<polygon points="512.5,123.8 551.2,103.8 553.3,114.0 520.2,135.1 490.2,153.1 460.2,171.1 430.2,192.1 406.1,216.1 385.1,240.1 366.0,262.0 345.0,290.0 328.0,315.0 313.0,332.0 318.0,305.0 334.1,262.0 355.1,238.0 379.1,216.1 400.1,198.1 430.2,174.1 460.2,153.1 490.2,135.1" fill="#e98032" opacity="0.7"/>
<polyline points="287.4,358.4 324.6,316.3 354.3,286.6 384.0,261.9 403.8,244.6 440.0,222.0" fill="none" stroke="#96501f" stroke-width="1.1" opacity="0.8" stroke-linecap="round"/>
</g>
<g clip-path="url(#cb)" opacity="0.9">
<polygon points="724.9,285.7 743.4,288.9 823.6,264.0 842.4,258.5 865.8,255.1 909.2,257.1 949.3,251.5 982.5,244.6 1000.0,238.4 1179.2,185.8 1178.0,195.8 1173.0,214.5 1159.0,248.2 1124.0,259.5 1121.5,284.5 1106.5,289.5 1101.5,324.0 1100.0,330.2 1094.0,335.2 1090.0,347.8 1042.8,369.0 1039.0,376.5 1030.0,380.2 1029.0,385.2 1022.5,387.8 1020.0,391.5 1007.3,396.7 967.2,411.7 940.5,421.7 907.1,435.1 873.7,451.8 840.3,470.2 807.0,490.2 780.2,506.9 750.2,526.9 723.5,540.3 686.7,560.3 658.4,572.0 670.0,547.0 676.7,513.5 681.7,480.2 686.7,446.8 690.0,413.4 695.0,380.0 698.1,353.2 702.2,330.1 709.8,321.4 711.9,306.3 715.2,297.6 720.6,299.7 724.9,285.7" fill="#b56026"/>
<polygon points="724.9,285.7 720.6,299.7 715.2,297.6 711.9,306.3 709.8,321.4 702.2,330.1 698.1,353.2 695.0,380.0 690.0,413.4 686.7,446.8 681.7,480.2 676.7,513.5 670.0,547.0 658.4,572.0 672.0,572.0 690.0,520.0 700.0,440.0 708.0,380.0 715.0,340.0 730.0,305.0 743.0,289.0" fill="#ab5b26"/>
<polygon points="823.6,264.0 842.4,258.5 865.8,255.1 909.2,257.1 949.3,251.5 982.5,244.6 1000.0,238.4 1179.2,185.8 1178.0,195.8 1173.0,214.5 1159.0,248.2 1124.0,259.5 1124.5,261.0 1099.5,271.0 1071.0,278.0 1032.7,290.2 982.6,300.2 932.6,310.2 882.5,315.2 839.1,308.5 819.0,293.5 799.0,278.5 775.0,283.0 760.0,284.0" fill="#a85a26"/>
<polygon points="849.1,261.1 865.8,263.5 892.5,269.5 932.6,271.2 972.6,265.5 1012.7,255.5 1066.1,240.4 1132.9,223.4 1175.0,212.8 1173.0,214.5 1163.5,238.0 1163.5,238.0 1071.0,263.0 1000.0,277.0 972.6,287.0 932.6,292.0 880.0,285.0 850.0,270.0" fill="#9a5222"/>
<polygon points="849.1,261.1 865.8,263.5 892.5,269.5 932.6,271.2 972.6,265.5 1012.7,255.5 1066.1,240.4 1132.9,223.4 1175.0,212.8 1173.0,214.5 1171.0,223.3 1171.0,223.3 1156.4,227.5 1071.0,250.0 1000.0,264.5 972.6,274.0 932.6,279.0 892.5,274.0" fill="#7c4118"/>
<polygon points="823.6,264.0 842.4,258.5 865.8,255.1 909.2,257.1 949.3,251.5 982.5,244.6 1000.0,238.4 1179.2,185.8 1178.0,195.8 1175.0,212.8 1175.0,212.8 1132.9,223.4 1066.1,240.4 1012.7,255.5 972.6,265.5 932.6,271.2 892.5,269.5 865.8,263.5 849.1,261.1" fill="#b86127"/>
<polygon points="862.4,262.1 895.8,269.5 932.6,271.2 972.6,265.5 1012.7,255.5 1039.4,248.4 1039.4,250.5 1012.7,258.5 972.6,268.8 932.6,274.2 895.8,272.5" fill="#6c3816"/>
<polygon points="824.0,264.1 849.1,261.1 865.8,263.5 892.5,272.2 909.2,280.2 882.5,290.2 849.1,280.2 832.4,267.5" fill="#ad5c27"/>
<polygon points="743.4,288.9 773.7,281.3 797.6,279.8 812.8,287.8 830.1,300.8 842.0,310.2 838.8,310.6 821.4,298.7 801.9,287.8 786.7,285.7 771.6,286.3 749.9,292.2 732.5,301.9 721.7,312.8 713.0,321.4 702.2,332.3 704.3,325.8 719.5,308.4 732.5,295.4" fill="#8a491d"/>
<polygon points="658.3,570.4 691.7,556.9 723.0,542.3 754.3,523.5 783.6,504.7 816.9,485.9 848.2,469.2 879.5,450.5 908.0,435.0 964.3,413.7 1006.0,396.0 1022.8,388.7 1029.0,383.5 1039.5,374.0 1047.8,368.9 1089.5,350.0 1095.0,336.0 1089.5,348.0 1068.7,356.3 1026.9,368.9 974.8,383.5 922.6,404.3 860.0,425.2 817.0,440.0 800.3,452.5 783.6,467.1 758.5,489.0 733.5,506.8 702.2,527.6 670.9,552.7" fill="#a65825"/>
<polygon points="658.3,570.4 691.7,556.9 723.0,542.3 754.3,523.5 783.6,504.7 816.9,485.9 848.2,469.2 879.5,450.5 908.0,435.0 964.3,413.7 1006.0,396.0 1022.8,388.7 1029.0,383.5 1039.5,374.0 1047.8,368.9 1089.5,350.0 1038.0,372.0 1005.0,392.5 965.0,407.5 938.5,417.5 905.0,431.0 879.5,446.3 837.8,469.2 796.1,492.2 754.3,516.2 712.6,536.0 666.7,561.0" fill="#924c1f"/>
<polyline points="790.0,436.0 860.0,413.7 922.6,391.8 985.2,366.8 1047.8,345.9 1093.7,334.4" fill="none" stroke="#9a5222" stroke-width="1.2"/>
<polyline points="670.9,552.7 702.2,527.6 733.5,506.8 758.5,489.0 783.6,467.1 800.3,452.5 817.0,440.0 860.0,425.2 922.6,404.3 974.8,383.5 1026.9,368.9 1068.7,356.3 1089.5,348.0" fill="none" stroke="#8a491d" stroke-width="2.6"/>
<polyline points="835.0,447.0 880.9,429.4 943.5,406.4 985.2,391.8 1026.9,379.3 1041.5,372.0" fill="none" stroke="#7e4219" stroke-width="1.6"/>
<polyline points="666.7,561.0 712.6,536.0 754.3,516.2 796.1,492.2 837.8,469.2 879.5,446.3 905.0,431.0 938.5,417.5 965.0,407.5 1005.0,392.5 1038.0,372.0" fill="none" stroke="#7a4018" stroke-width="2.2"/>
<polyline points="673.0,544.3 687.6,519.3 702.2,498.4 718.9,475.5 737.6,452.5 748.0,440.0 764.0,420.0" fill="none" stroke="#a55825" stroke-width="1.6"/>
<polygon points="730.1,395.3 778.2,378.3 803.4,375.1 778.2,381.5 741.6,393.4" fill="#96501f"/>
</g>
<polygon points="724.9,285.7 806.3,261.8 823.6,264.0 743.4,288.9" fill="#e1957a"/>
<polygon points="401.3,492.8 415.4,481.9 424.1,470.0 434.9,462.4 439.3,466.7 450.1,458.1 458.8,440.7 464.2,432.0 476.1,421.2 487.0,414.7 493.5,404.9 500.0,399.5 515.2,398.4 521.7,400.6 528.2,412.5 535.0,423.4 404.5,493.6" fill="#7e4018" opacity="0.5"/>
<polyline points="58.3,445.2 744.2,594.6 1180.2,459.5" fill="none" stroke="#222" stroke-width="1.7"/>
<line x1="58.3" y1="445.2" x2="58.3" y2="452.5" stroke="#333" stroke-width="1.1"/>
<line x1="104.3" y1="455.2" x2="104.3" y2="462.5" stroke="#333" stroke-width="1.1"/>
<line x1="150.3" y1="465.2" x2="150.3" y2="472.5" stroke="#333" stroke-width="1.1"/>
<line x1="196.3" y1="475.3" x2="196.3" y2="482.6" stroke="#333" stroke-width="1.1"/>
<line x1="242.3" y1="485.3" x2="242.3" y2="492.6" stroke="#333" stroke-width="1.1"/>
<line x1="288.3" y1="495.3" x2="288.3" y2="502.6" stroke="#333" stroke-width="1.1"/>
<line x1="334.3" y1="505.3" x2="334.3" y2="512.6" stroke="#333" stroke-width="1.1"/>
<line x1="380.3" y1="515.3" x2="380.3" y2="522.6" stroke="#333" stroke-width="1.1"/>
<line x1="426.3" y1="525.4" x2="426.3" y2="532.7" stroke="#333" stroke-width="1.1"/>
<line x1="472.3" y1="535.4" x2="472.3" y2="542.7" stroke="#333" stroke-width="1.1"/>
<line x1="518.3" y1="545.4" x2="518.3" y2="552.7" stroke="#333" stroke-width="1.1"/>
<line x1="564.3" y1="555.4" x2="564.3" y2="562.7" stroke="#333" stroke-width="1.1"/>
<line x1="610.3" y1="565.4" x2="610.3" y2="572.7" stroke="#333" stroke-width="1.1"/>
<line x1="656.3" y1="575.5" x2="656.3" y2="582.8" stroke="#333" stroke-width="1.1"/>
<line x1="702.3" y1="585.5" x2="702.3" y2="592.8" stroke="#333" stroke-width="1.1"/>
<line x1="35.3" y1="423" x2="36.9" y2="167.0" stroke="#333" stroke-width="1"/>
<polygon points="37,156.5 41.7,167.0 32.1,167.0" fill="#000"/>
<line x1="53" y1="496.3" x2="722.7" y2="638.3" stroke="#333" stroke-width="1"/>
<polygon points="733,640.5 721.7,643.0 723.7,633.6" fill="#000"/>
<line x1="759.2" y1="639.5" x2="1187.0" y2="496.8" stroke="#333" stroke-width="1"/>
<polygon points="1197,493.5 1188.6,501.4 1185.5,492.3" fill="#000"/>
<text transform="translate(9.8,148.6) rotate(0) scale(0.77,1)" font-size="26" text-anchor="start">5.0</text>
<text transform="translate(9.8,453.6) rotate(0) scale(0.77,1)" font-size="26" text-anchor="start">0.0</text>
<text transform="translate(37.2,487.4) rotate(0) scale(0.75,1)" font-size="26" text-anchor="start">2010</text>
<text transform="translate(253.8,534.1) rotate(0) scale(0.75,1)" font-size="26" text-anchor="start">2014</text>
<text transform="translate(471.6,582) rotate(0) scale(0.75,1)" font-size="26" text-anchor="start">2018</text>
<text transform="translate(689.6,628.1) rotate(0) scale(0.75,1)" font-size="26" text-anchor="start">2023</text>
<text transform="translate(24.3,312.5) rotate(-90) scale(0.84,1)" font-size="27" text-anchor="start">Yield %</text>
<text transform="translate(330.4,590.2) rotate(12.3) scale(0.84,1)" font-size="27" text-anchor="start">Time</text>
<text transform="translate(759.3,621.5) rotate(-17.2) scale(0.74,1)" font-size="26" text-anchor="start">3M</text>
<text transform="translate(956.5,557) rotate(-17.2) scale(0.77,1)" font-size="26" text-anchor="start">5Y</text>
<text transform="translate(1156.2,493.2) rotate(-17.2) scale(0.725,1)" font-size="26" text-anchor="start">10Y</text>
<text transform="translate(979.4,594) rotate(-17.2) scale(0.835,1)" font-size="27" text-anchor="start">Maturity</text>
</svg>
</body></html>
